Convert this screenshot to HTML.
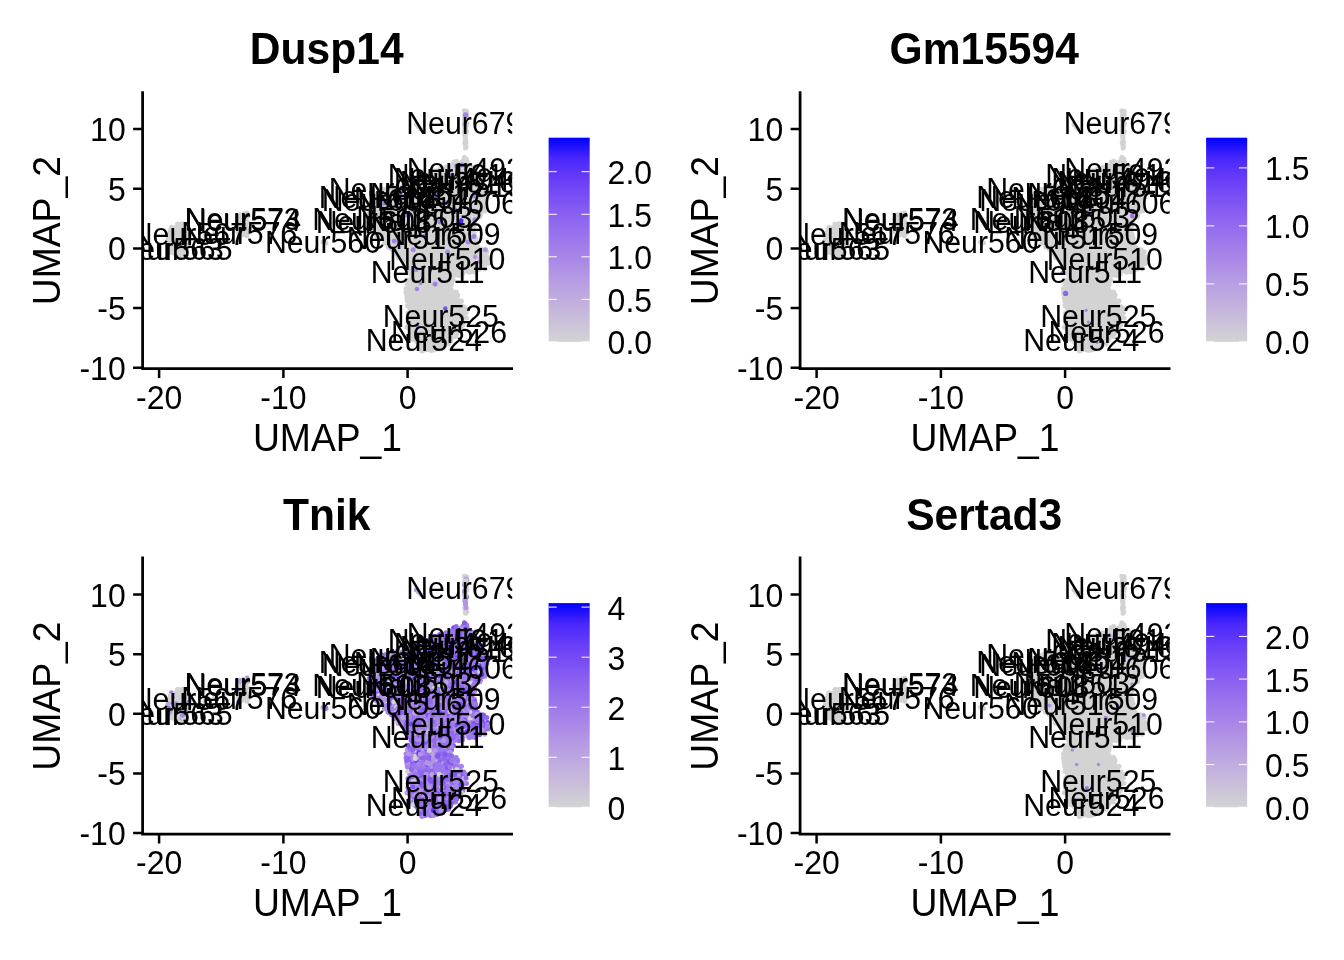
<!DOCTYPE html>
<html><head><meta charset="utf-8"><title>FeaturePlot</title>
<style>html,body{margin:0;padding:0;background:#fff}svg{display:block;will-change:transform}</style></head>
<body>
<svg width="1344" height="960" viewBox="0 0 1344 960" font-family="'Liberation Sans', sans-serif" fill="#000">
<defs><clipPath id="cp"><rect x="142.6" y="89.2" width="369.6" height="279.4"/></clipPath>
<linearGradient id="lg" x1="0" y1="0" x2="0" y2="1"><stop offset="0" stop-color="#0000FF"/><stop offset="0.1" stop-color="#4926FB"/><stop offset="0.2" stop-color="#673DF8"/><stop offset="0.3" stop-color="#7C51F4"/><stop offset="0.4" stop-color="#8E65F0"/><stop offset="0.5" stop-color="#9D77EC"/><stop offset="0.6" stop-color="#AA89E7"/><stop offset="0.7" stop-color="#B69CE3"/><stop offset="0.8" stop-color="#C1AEDE"/><stop offset="0.9" stop-color="#CAC0D9"/><stop offset="1" stop-color="#D3D3D3"/></linearGradient></defs>
<rect width="1344" height="960" fill="#fff"/>
<g transform="translate(0.0,0.0)">
<text transform="translate(326.70 63.90) scale(0.99 1.045)" font-size="43" text-anchor="middle" font-weight="bold">Dusp14</text>
<g clip-path="url(#cp)">
<path d="M416.5 124.5h0M419.8 242.5h0M381.2 202.0h0M470.3 252.6h0M422.7 221.4h0M371.0 210.8h0M403.9 258.9h0M444.2 217.9h0M424.1 251.2h0M435.0 285.0h0M455.5 336.5h0M466.9 256.3h0M450.7 307.9h0M391.0 203.9h0M421.9 351.0h0M405.3 263.6h0M414.2 323.4h0M427.2 183.4h0M185.0 226.4h0M415.5 332.8h0M370.3 204.7h0M188.4 230.0h0M410.7 316.3h0M443.0 174.7h0M474.5 222.2h0M418.1 261.8h0M387.6 205.0h0M391.5 191.2h0M377.0 203.1h0M444.3 301.6h0M435.5 251.8h0M448.0 168.1h0M478.8 192.7h0M395.2 226.9h0M458.6 238.5h0M450.7 240.1h0M411.1 193.7h0M406.0 292.2h0M474.0 169.4h0M474.7 198.3h0M454.7 250.4h0M468.1 186.3h0M411.1 237.1h0M460.5 186.0h0M244.7 227.3h0M419.6 269.6h0M469.6 169.6h0M420.1 219.7h0M466.8 178.7h0M435.3 215.0h0M397.8 248.8h0M428.2 232.0h0M450.3 286.7h0M422.5 247.8h0M461.7 162.8h0M411.5 235.6h0M411.1 223.0h0M387.3 191.5h0M375.7 209.6h0M388.9 187.6h0M423.0 310.2h0M463.8 207.2h0M453.9 317.8h0M415.9 249.0h0M458.5 317.1h0M447.4 177.7h0M478.9 196.4h0M432.9 219.7h0M476.0 216.9h0M379.9 198.6h0M461.7 263.9h0M447.0 203.3h0M472.0 213.4h0M451.1 251.0h0M441.0 184.7h0M429.5 240.5h0M448.9 173.1h0M429.2 271.4h0M425.2 270.1h0M377.9 233.0h0M438.5 256.8h0M442.7 232.7h0M459.1 170.6h0M244.3 230.8h0M405.3 195.2h0M435.1 264.4h0M416.9 253.1h0M397.7 210.0h0M462.5 245.6h0M417.2 258.0h0M466.2 119.8h0M451.2 214.9h0M484.7 204.6h0M481.3 203.7h0M461.7 174.2h0M397.4 250.6h0M432.4 257.9h0M413.0 274.1h0M471.8 230.1h0M454.4 168.5h0M442.7 347.1h0M453.7 162.3h0M460.9 260.4h0M482.5 184.7h0M431.1 190.5h0M439.6 293.4h0M435.8 308.7h0M179.3 246.4h0M414.0 187.7h0M454.8 309.0h0M468.1 191.0h0M409.6 235.1h0M480.7 182.5h0M470.7 223.0h0M412.9 321.3h0M248.1 233.0h0M431.5 226.9h0M448.3 240.8h0M425.4 326.0h0M466.1 142.3h0M177.5 224.0h0M433.3 245.4h0M442.4 282.2h0M464.0 208.9h0M466.1 312.6h0M450.7 188.9h0M438.2 198.9h0M477.7 267.6h0M442.5 305.1h0M457.6 294.9h0M406.1 204.5h0M471.5 174.7h0M444.4 284.9h0M422.3 306.0h0M404.0 242.1h0M426.0 276.2h0M413.9 258.0h0M442.1 287.9h0M465.3 162.5h0M244.2 223.2h0M466.2 188.7h0M446.4 300.3h0M461.4 207.0h0M464.8 117.3h0M421.4 250.7h0M399.6 199.0h0M179.4 256.8h0M460.8 255.3h0M462.0 271.8h0M464.4 157.3h0M421.9 345.1h0M427.8 327.0h0M459.2 199.8h0M459.1 202.1h0M383.9 196.1h0M438.2 230.7h0M432.3 288.2h0M483.0 192.9h0M451.4 314.5h0M483.9 250.1h0M426.6 235.2h0M408.1 253.8h0M398.8 206.0h0M455.2 191.5h0M450.1 245.9h0M471.5 242.2h0M413.0 211.5h0M464.6 131.1h0M432.8 298.2h0M476.5 175.7h0M398.6 233.2h0M437.4 280.1h0M390.2 244.7h0M464.5 254.3h0M442.9 277.4h0M466.8 228.2h0M444.3 302.6h0M425.5 191.2h0M373.6 206.7h0M486.0 188.0h0M420.5 290.7h0M449.0 211.1h0M434.9 347.9h0M444.1 323.8h0M425.1 258.5h0M479.8 216.7h0M441.1 347.1h0M432.2 182.5h0M445.0 312.8h0M476.5 200.4h0M432.7 303.7h0M403.7 187.6h0M454.1 323.8h0M431.0 282.7h0M186.6 232.4h0M425.9 237.8h0M418.6 202.1h0M444.1 335.4h0M427.5 249.4h0M437.9 316.9h0M460.9 230.5h0M450.5 319.8h0M434.7 332.2h0M420.1 302.3h0M469.4 203.9h0M468.4 243.3h0M415.8 221.8h0M433.4 292.5h0M439.1 339.1h0M441.6 256.6h0M453.8 334.5h0M483.2 255.3h0M432.5 221.6h0M477.7 173.6h0M480.2 187.7h0M238.3 230.0h0M450.3 284.3h0M431.0 277.7h0M460.7 238.8h0M405.5 262.2h0M457.6 309.1h0M417.4 202.1h0M453.6 235.4h0M456.8 183.2h0M424.9 322.0h0M408.0 313.0h0M446.0 309.3h0M411.1 266.9h0M455.0 195.8h0M436.3 194.2h0M442.8 236.3h0M461.0 308.8h0M391.7 212.8h0M382.6 217.8h0M424.8 234.6h0M369.5 214.2h0M437.7 258.9h0M441.0 344.5h0M451.7 281.3h0M461.0 247.7h0M244.2 216.5h0M449.6 231.7h0M415.9 237.6h0M432.5 240.7h0M465.5 147.9h0M184.8 233.4h0M437.1 306.4h0M427.3 204.6h0M404.3 222.4h0M456.8 209.2h0M445.5 224.6h0M452.9 326.7h0M463.7 251.8h0M441.1 292.9h0M431.3 264.6h0M171.4 227.3h0M381.0 204.2h0M465.4 161.0h0M371.5 228.1h0M464.6 163.6h0M385.4 229.6h0M451.9 204.2h0M420.2 210.9h0M429.2 223.0h0M439.9 202.0h0M391.7 249.3h0M430.6 231.7h0M471.8 199.2h0M431.8 196.7h0M456.2 292.1h0M418.9 340.4h0M442.8 248.9h0M459.9 251.3h0M403.5 216.2h0M414.9 267.6h0M424.0 267.0h0M425.0 343.9h0M369.0 222.8h0M420.2 213.4h0M427.7 230.7h0M384.4 243.3h0M416.0 213.4h0M420.5 183.7h0M239.6 222.6h0M426.2 188.4h0M471.0 187.6h0M378.4 221.5h0M470.0 191.2h0M473.3 207.2h0M408.1 291.8h0M403.9 253.4h0M431.0 245.7h0M466.8 250.0h0M453.4 233.0h0M438.4 277.4h0M409.4 224.2h0M473.0 179.6h0M449.1 207.1h0M465.0 234.6h0M387.9 239.8h0M463.6 161.6h0M415.3 313.7h0M467.1 181.5h0M406.0 288.4h0M381.3 221.2h0M434.4 226.7h0M474.3 203.0h0M392.6 216.0h0M380.0 190.2h0M402.3 242.7h0M478.5 176.9h0M430.6 308.4h0M468.2 217.8h0M369.2 212.8h0M453.4 199.1h0M473.2 247.3h0M475.7 180.5h0M424.0 292.1h0M464.2 263.4h0M428.8 321.8h0M436.6 324.7h0M447.8 246.5h0M415.9 297.6h0M374.0 226.8h0M467.3 222.4h0M460.4 167.7h0M445.5 281.4h0M402.1 255.8h0M383.6 226.7h0M185.0 250.8h0M438.9 267.1h0M442.3 188.1h0M180.3 242.4h0M465.9 225.1h0M439.7 295.3h0M432.6 314.6h0M483.5 265.9h0M458.3 227.8h0M436.8 298.5h0M397.8 216.2h0M406.8 256.8h0M445.0 209.4h0M457.9 229.9h0M385.1 220.5h0M392.2 243.7h0M455.3 186.0h0M479.0 190.4h0M429.2 192.6h0M446.5 211.1h0M412.0 187.9h0M402.0 192.6h0M412.2 324.1h0M484.7 252.7h0M409.7 232.2h0M451.6 295.1h0M444.1 203.6h0M382.2 199.3h0M427.8 314.0h0M448.8 305.2h0M409.7 251.0h0M426.5 289.5h0M182.7 239.5h0M432.0 276.1h0M458.2 206.7h0M466.7 131.3h0M412.3 229.4h0M445.7 273.6h0M418.5 238.1h0M412.1 245.1h0M411.5 303.9h0M464.0 247.4h0M394.8 240.8h0M464.5 185.2h0M377.0 197.1h0M426.7 287.9h0M402.2 198.6h0M241.9 228.3h0M438.6 173.4h0M420.5 129.0h0M418.7 298.6h0M384.2 215.4h0M392.6 238.4h0M379.3 229.8h0M420.7 314.5h0M458.0 331.0h0M376.5 205.8h0M372.3 213.9h0M484.1 208.7h0M178.2 232.2h0M441.5 232.8h0M423.1 341.8h0M429.4 252.9h0M432.3 199.4h0M389.7 244.2h0M478.8 213.9h0M181.8 252.9h0M450.2 264.6h0M465.3 144.8h0M429.1 274.4h0M413.2 305.8h0M456.7 329.7h0M424.3 277.6h0M427.5 224.0h0M441.2 271.3h0M432.5 181.4h0M468.2 176.0h0M438.4 264.7h0M432.1 209.8h0M462.1 177.7h0M173.0 252.8h0M438.5 287.4h0M414.2 226.7h0M411.2 218.9h0M416.1 295.3h0M411.8 240.2h0M414.2 336.9h0M463.2 225.8h0M411.7 308.2h0M418.9 345.1h0M407.9 279.9h0M410.8 299.9h0M455.0 331.0h0M444.7 319.2h0M389.1 233.5h0M479.4 200.6h0M444.4 250.2h0M427.4 250.6h0M448.9 251.0h0M457.4 312.6h0M429.7 313.8h0M436.2 189.1h0M483.0 191.9h0M422.4 231.9h0M415.1 255.9h0M461.5 300.9h0M429.2 190.2h0M461.8 269.6h0M479.8 264.7h0M425.3 253.7h0M458.5 195.4h0M387.4 232.4h0M432.3 289.5h0M420.5 297.7h0M469.1 240.3h0M444.4 293.2h0M451.8 172.2h0M436.7 248.2h0M448.8 202.2h0M413.2 197.0h0M423.7 229.0h0M450.2 217.1h0M483.4 199.4h0M170.4 240.9h0M460.3 329.1h0M429.4 285.0h0M175.2 227.8h0M409.5 217.2h0M389.1 247.4h0M176.1 241.2h0M394.3 223.9h0M460.3 234.9h0M385.0 189.3h0M447.3 202.0h0M408.0 298.5h0M445.5 298.5h0M416.1 180.0h0M418.5 250.7h0M396.0 237.1h0M397.5 187.6h0M420.9 230.5h0M442.6 299.0h0M441.3 174.7h0M419.3 186.4h0M453.7 172.4h0M452.9 210.8h0M401.0 245.2h0M425.8 212.8h0M469.7 195.9h0M465.3 212.6h0M180.4 239.9h0M380.0 195.6h0M419.6 196.7h0M438.3 310.0h0M429.1 243.9h0M465.4 136.0h0M473.4 184.9h0M424.6 303.5h0M384.8 198.2h0M432.0 212.7h0M393.3 192.5h0M442.0 250.9h0M431.8 207.0h0M396.1 186.7h0M453.3 174.3h0M424.7 219.9h0M463.7 193.8h0M403.5 234.3h0M442.1 241.1h0M468.5 223.9h0M411.3 291.9h0M182.0 255.2h0M466.8 259.4h0M168.7 252.4h0M168.6 243.1h0M386.6 227.2h0M435.1 268.3h0M418.9 330.9h0M461.4 218.0h0M429.3 238.2h0M433.0 225.5h0M433.6 311.7h0M183.2 252.7h0M420.0 280.3h0M460.3 182.2h0M402.6 252.0h0M448.5 342.3h0M385.7 196.4h0M418.8 328.5h0M406.9 327.3h0M426.0 309.0h0M426.4 221.9h0M447.6 272.0h0M471.3 181.5h0M172.8 240.7h0M481.8 209.2h0M439.3 193.1h0M427.6 211.1h0M462.5 171.7h0M412.3 286.9h0M424.0 205.0h0M240.6 219.6h0M462.7 236.1h0M384.4 206.5h0M418.7 203.8h0M426.7 297.1h0M408.5 271.2h0M444.0 311.5h0M382.7 191.2h0M468.5 261.9h0M408.7 208.3h0M409.8 308.6h0M440.3 263.1h0M455.1 301.0h0M466.9 123.2h0M410.4 285.3h0M387.1 215.2h0M413.8 201.1h0M482.5 201.4h0M487.8 263.5h0M449.9 242.8h0M466.5 318.0h0M247.0 212.7h0M440.5 326.3h0M177.3 226.9h0M396.5 216.4h0M445.0 329.3h0M474.2 212.1h0M399.7 215.5h0M451.6 337.7h0M475.2 188.2h0M445.5 265.6h0M465.1 269.0h0M440.0 236.2h0M438.2 269.4h0M432.4 251.2h0M423.2 325.1h0M465.3 111.6h0M399.2 252.7h0M468.1 230.5h0M449.9 301.5h0M418.9 263.4h0M383.7 237.0h0M440.4 316.2h0M443.2 279.3h0M381.8 230.4h0M424.7 214.5h0M388.5 199.6h0M476.1 242.3h0M413.5 222.1h0M465.7 129.6h0M448.6 293.3h0M440.2 238.5h0M402.3 229.4h0M432.3 347.0h0M466.6 266.2h0M459.1 225.7h0M181.2 237.5h0M420.3 217.5h0M406.8 227.9h0M441.1 300.0h0M439.7 289.5h0M418.1 225.9h0M379.3 219.1h0M415.8 274.7h0M418.5 126.7h0M440.8 341.6h0M393.1 223.0h0M478.6 204.8h0M485.6 202.1h0M406.5 191.0h0M446.5 247.5h0M454.5 275.3h0M455.7 237.1h0M246.1 224.3h0M455.7 327.2h0M385.1 193.1h0M377.2 226.8h0M429.4 182.8h0M447.0 329.8h0M436.2 225.5h0M436.7 177.3h0M415.9 196.1h0M406.6 258.7h0M410.5 336.3h0M456.1 179.6h0M442.2 319.3h0M398.8 212.8h0M447.0 335.0h0M465.4 139.6h0M437.9 170.5h0M437.9 227.0h0M454.5 175.7h0M422.6 347.1h0M175.7 252.5h0M465.2 209.5h0M459.3 175.2h0M418.9 303.0h0M415.5 340.2h0M466.6 111.3h0M445.5 229.2h0M464.8 128.1h0M183.5 238.6h0M438.0 272.5h0M379.7 237.9h0M464.3 226.6h0M174.8 232.3h0M442.8 209.2h0M456.7 193.2h0M466.1 133.0h0M441.6 178.8h0M405.2 214.0h0M400.5 201.8h0M451.8 219.1h0M412.2 276.1h0M466.9 164.4h0M420.1 194.3h0M469.4 235.2h0M436.1 255.8h0M427.8 196.9h0M464.0 313.2h0M438.3 285.9h0M447.0 219.3h0M466.3 240.2h0M403.5 207.0h0M447.1 302.5h0M171.0 245.3h0M407.9 322.1h0M452.3 185.9h0M455.3 315.8h0M438.4 328.7h0M428.7 294.5h0M424.7 271.5h0M415.2 282.7h0M464.6 201.9h0M466.1 115.7h0M434.7 170.9h0M396.5 213.8h0M470.6 200.9h0M425.0 347.6h0M466.1 113.4h0M487.6 257.1h0M447.9 257.1h0M445.2 214.4h0M389.4 238.7h0M409.5 328.7h0M477.0 196.0h0M447.6 182.5h0M447.2 258.2h0M448.7 332.6h0M423.3 188.9h0M380.3 217.6h0M189.4 237.3h0M431.5 342.0h0M407.3 221.9h0M418.9 208.6h0M371.8 207.5h0M405.6 229.8h0M471.5 172.2h0M416.0 264.7h0M381.5 227.0h0M430.6 209.1h0M466.5 248.4h0M469.5 178.9h0M420.4 259.8h0M239.6 236.4h0M472.4 256.5h0M419.3 253.9h0M450.5 176.0h0M429.0 287.2h0M471.7 194.0h0M472.7 174.5h0M460.0 304.1h0M433.8 350.0h0M407.1 201.3h0M431.8 268.7h0M433.8 196.0h0M449.8 185.3h0M453.1 321.9h0M451.9 190.0h0M455.0 228.0h0M466.7 197.1h0M469.6 256.2h0M487.6 194.5h0M433.1 213.7h0M448.7 326.2h0M459.6 241.1h0M444.3 195.6h0M438.0 336.6h0M424.9 194.5h0M411.8 198.7h0M480.2 211.8h0M450.3 209.6h0M410.4 310.2h0M433.7 248.3h0M393.1 188.0h0M476.9 263.9h0M450.9 257.0h0M464.9 159.1h0M447.3 208.6h0M395.2 200.9h0M446.5 326.9h0M464.9 114.9h0M375.2 217.8h0M438.4 178.4h0M440.0 279.3h0M420.5 327.0h0M397.6 245.5h0M452.4 253.5h0M455.0 314.0h0M433.3 344.9h0M442.6 224.5h0M183.9 243.7h0M423.2 185.0h0M427.0 199.8h0M465.1 136.5h0M421.4 329.2h0M238.1 232.2h0M449.2 320.6h0M457.9 181.0h0M409.6 207.4h0M401.8 254.3h0M412.5 214.0h0M244.1 219.0h0M421.2 255.9h0M455.3 164.8h0M393.2 200.9h0M423.2 224.1h0M416.7 243.9h0M445.5 289.3h0M430.5 345.9h0M436.5 221.3h0M456.8 199.3h0M413.9 290.5h0M475.7 238.5h0M465.0 193.4h0M417.5 293.3h0M466.4 125.5h0M424.9 350.1h0M453.9 187.6h0M450.1 295.2h0M376.7 214.1h0M463.5 233.3h0M178.9 235.7h0M405.0 251.5h0M468.0 198.6h0M459.7 172.5h0M432.5 282.8h0M466.9 237.8h0M400.8 233.0h0M426.0 272.1h0M396.1 240.2h0M467.4 202.2h0M473.0 266.9h0M458.0 172.8h0M437.1 252.7h0M382.4 219.2h0M454.6 241.3h0M449.7 180.1h0M485.0 262.0h0M471.2 238.1h0M434.6 305.3h0M436.7 200.6h0M461.7 163.3h0M464.7 142.8h0M474.3 178.8h0M421.5 246.6h0M423.3 244.8h0M406.4 193.8h0M390.2 201.1h0M439.6 332.2h0M460.6 165.2h0M415.4 335.0h0M450.0 269.6h0M391.0 219.5h0M394.5 249.2h0M434.0 320.5h0M377.2 201.7h0M445.7 237.6h0M461.0 162.5h0M379.3 204.3h0M423.4 280.4h0M469.1 266.5h0M429.1 292.0h0M435.5 233.2h0M436.9 301.1h0M445.6 295.9h0M431.2 242.4h0M225.0 228.0h0M422.9 326.6h0M238.3 228.4h0M414.5 225.2h0M463.3 266.2h0M426.5 209.7h0M428.4 299.7h0M465.4 163.5h0M459.6 220.2h0M432.7 323.1h0M451.8 195.4h0M464.8 169.1h0M464.4 242.1h0M439.8 248.7h0M420.4 190.2h0M413.0 183.3h0M395.1 253.0h0M463.5 230.8h0M387.5 217.0h0M477.2 250.7h0M457.8 300.6h0M405.7 267.5h0M466.3 230.0h0M458.9 191.7h0M410.3 201.7h0M450.6 303.2h0M453.3 266.8h0M481.5 258.8h0M431.4 295.6h0M465.4 245.1h0M459.2 263.8h0M459.1 313.4h0M477.4 260.8h0M415.0 262.0h0M451.6 316.5h0M445.7 170.8h0M442.7 169.8h0M437.8 290.7h0M416.2 321.0h0M389.5 217.1h0M442.2 302.7h0M474.5 196.8h0M182.7 229.1h0M430.5 202.3h0M415.7 286.9h0M481.6 254.2h0M410.0 282.6h0M471.6 183.2h0M435.3 281.4h0M183.1 247.6h0M474.6 255.6h0M375.9 194.3h0M459.4 306.7h0M446.4 232.0h0M180.5 231.4h0M453.3 330.9h0M431.5 301.2h0M434.5 259.6h0M455.5 169.0h0M387.4 210.9h0M465.5 122.8h0M417.4 334.8h0M411.1 330.2h0M449.6 274.5h0M418.5 181.0h0M409.1 218.9h0M411.4 271.0h0M469.8 233.0h0M469.6 208.5h0M240.9 225.7h0M457.5 212.7h0M372.2 199.0h0M458.8 257.8h0M474.6 241.5h0M419.9 295.9h0M468.1 167.9h0M457.3 255.2h0M450.2 225.7h0M433.7 340.1h0M440.2 270.2h0M470.8 263.6h0M412.2 282.6h0M430.1 235.0h0M436.4 266.7h0M471.6 246.8h0M428.0 311.7h0M472.6 203.1h0M410.8 269.8h0M436.8 217.2h0M460.9 201.8h0M475.9 214.4h0M479.6 206.2h0M389.7 207.5h0M449.5 222.3h0M430.7 273.6h0M446.3 175.2h0M474.7 235.5h0M442.5 206.9h0M439.4 213.8h0M239.8 214.8h0M426.2 303.1h0M370.7 217.5h0M472.2 271.6h0M215.0 232.0h0M432.0 331.3h0M397.5 204.2h0M378.3 214.4h0M452.7 202.0h0M462.9 325.1h0M400.9 226.5h0M407.9 290.7h0M411.3 196.2h0M463.5 180.6h0M464.1 315.8h0M451.3 178.8h0M426.1 305.3h0M372.0 222.2h0M408.4 187.8h0M437.0 349.1h0M447.2 288.5h0M403.7 184.0h0M430.0 261.0h0M408.5 212.8h0M444.3 340.2h0M461.1 258.7h0M466.4 203.4h0M474.5 217.9h0M415.1 329.5h0M452.3 218.0h0M417.3 189.2h0M451.9 165.8h0M453.1 256.0h0M458.0 216.7h0M426.3 214.3h0M486.0 190.6h0M451.6 284.4h0M442.1 199.2h0M383.5 232.6h0M426.4 179.5h0M479.9 180.4h0M433.8 260.5h0M414.1 237.0h0M411.0 258.6h0M423.1 332.0h0M463.5 213.5h0M417.6 281.4h0M407.4 269.9h0M445.0 177.2h0M417.4 276.8h0M459.8 267.1h0M378.3 224.4h0M437.7 326.0h0M408.0 229.7h0M394.9 219.2h0M465.8 182.6h0M445.8 344.0h0M427.7 341.5h0M451.6 183.2h0M422.2 295.2h0M415.5 191.0h0M410.3 190.4h0M441.3 284.1h0M439.2 210.0h0M428.0 216.2h0M387.4 193.8h0M426.9 345.0h0M435.5 314.6h0M379.9 236.2h0M391.3 229.4h0M415.6 232.2h0M438.5 324.6h0M399.2 219.8h0M435.5 183.3h0M373.9 202.3h0M408.5 238.0h0M429.0 198.9h0M481.9 255.6h0M468.5 173.6h0M474.7 260.6h0M458.8 270.2h0M429.4 220.1h0M416.9 216.2h0M447.6 193.4h0M440.4 310.9h0M414.5 264.6h0M445.0 199.1h0M461.0 179.6h0M399.7 204.7h0M426.4 296.2h0M407.4 284.1h0M423.6 287.3h0M424.0 318.0h0M399.9 234.7h0M423.4 180.8h0M400.0 256.0h0M417.7 235.2h0M448.7 314.0h0M248.0 228.2h0M480.3 215.1h0M446.6 332.4h0M437.4 180.5h0M431.2 306.6h0M476.4 211.5h0M439.3 182.5h0M450.6 340.4h0M468.2 232.3h0M415.4 178.8h0M409.7 334.4h0M438.1 223.8h0M240.9 230.1h0M459.0 272.4h0M423.3 260.9h0M462.3 218.7h0M427.9 180.4h0M382.6 208.7h0M458.2 310.3h0M438.9 251.4h0M429.0 205.7h0M453.4 280.2h0M451.4 235.5h0M475.7 185.6h0M448.8 310.2h0M433.4 334.0h0M436.6 245.7h0M439.9 169.1h0M414.0 310.2h0M418.6 214.1h0M465.5 196.6h0M419.3 315.7h0M404.0 200.8h0M375.0 230.5h0M447.3 276.0h0M457.9 240.9h0M405.5 219.6h0M395.6 190.6h0M436.9 198.8h0M461.9 322.3h0M481.7 264.4h0M394.9 250.0h0M453.7 209.3h0M374.2 196.8h0M448.9 190.1h0M443.4 336.6h0M481.7 195.5h0M417.7 239.5h0M380.6 212.6h0M439.2 262.0h0M441.5 321.5h0M478.8 184.1h0M415.5 315.3h0M427.1 220.0h0M205.0 236.0h0M454.7 214.6h0M435.5 278.0h0M376.8 224.7h0M445.6 269.3h0M388.6 196.8h0M465.1 166.7h0M411.4 263.2h0M436.2 260.8h0M385.6 242.5h0M430.3 251.1h0M431.3 315.9h0M412.1 209.8h0M420.3 199.1h0M475.0 208.2h0M447.2 181.1h0M377.1 217.5h0M404.0 191.8h0M447.5 213.8h0M412.2 252.0h0M186.4 248.8h0M174.5 243.1h0M186.3 242.2h0M437.2 331.8h0M187.5 236.9h0M420.5 311.1h0M456.0 211.2h0M417.3 245.1h0M445.6 279.6h0M189.6 231.5h0M422.4 263.5h0M408.4 203.8h0M456.8 333.7h0M444.1 181.0h0M415.6 318.4h0M406.6 295.1h0M449.9 196.9h0M401.9 211.6h0M416.4 228.2h0M403.5 244.9h0M178.2 236.8h0M454.5 243.4h0M434.4 207.5h0M400.7 247.7h0M454.2 224.5h0M418.9 308.5h0M443.5 275.1h0M446.2 311.9h0M410.4 327.3h0M482.9 249.4h0M413.3 279.9h0M472.4 260.7h0M417.0 269.2h0M463.4 204.2h0M457.1 297.6h0M463.2 255.5h0M459.4 245.2h0M383.4 200.9h0M482.8 211.1h0M444.1 246.0h0M426.2 282.3h0M443.8 294.9h0M174.4 230.1h0M394.0 214.0h0M463.6 306.7h0M473.6 257.9h0M476.9 248.7h0M461.6 227.1h0M441.1 213.6h0M477.3 246.5h0M415.4 272.8h0M450.3 226.7h0M178.1 247.1h0M462.3 183.5h0M473.9 253.7h0M465.1 310.5h0M427.6 178.4h0M418.8 222.4h0M384.0 208.7h0M456.4 178.9h0M474.3 250.4h0M463.9 261.2h0M441.2 192.7h0M418.5 229.6h0M398.4 222.2h0M404.7 232.6h0M437.0 207.6h0M420.1 226.8h0M438.0 204.4h0M453.5 194.0h0M246.6 230.0h0M412.6 284.1h0M443.0 268.7h0M445.8 315.3h0M456.0 306.2h0M437.4 275.5h0M421.2 224.7h0M465.3 127.6h0M430.9 213.8h0M448.9 281.9h0M391.6 189.2h0M443.0 259.6h0M429.5 324.2h0M443.9 331.1h0M461.0 193.5h0M435.0 229.5h0M241.2 221.9h0M470.2 269.0h0M404.0 215.3h0M426.6 339.4h0M177.1 246.3h0M396.8 225.5h0M450.4 272.5h0M431.8 321.8h0M454.6 296.3h0M397.9 184.9h0M455.5 321.2h0M421.8 339.2h0M457.2 265.7h0M168.3 235.8h0M421.5 216.2h0M173.9 235.7h0M425.6 331.3h0M415.3 198.6h0M446.8 242.9h0M428.2 174.9h0M438.1 312.6h0M423.8 308.8h0M431.1 249.1h0M399.4 241.3h0M472.9 177.5h0M419.9 247.4h0M430.6 340.4h0M436.8 238.4h0M421.7 284.0h0M466.7 211.7h0M384.3 234.9h0M471.1 235.6h0M174.7 248.5h0M408.4 185.5h0M412.7 205.6h0M443.1 243.7h0M172.3 237.6h0M466.8 114.3h0M453.0 237.0h0M244.1 225.9h0M411.0 262.3h0M418.4 199.7h0M385.5 206.4h0M429.6 203.6h0M439.8 306.2h0M411.5 180.7h0M466.1 146.7h0M410.5 321.9h0M430.6 284.3h0M450.4 257.8h0M426.2 315.7h0M479.7 258.7h0M448.7 297.4h0M452.5 227.6h0M171.0 232.9h0M475.6 267.0h0M417.4 306.1h0M451.5 264.0h0M412.4 318.8h0M425.2 228.4h0M420.9 318.1h0M421.6 277.7h0M442.8 267.1h0M484.7 259.1h0M449.0 260.4h0M438.2 189.4h0M430.6 174.8h0M451.9 300.1h0M406.8 298.1h0M443.6 325.9h0M445.4 182.4h0M400.8 205.6h0M421.9 290.0h0M436.2 219.6h0M412.0 225.0h0M185.3 240.5h0M435.1 315.6h0M451.5 230.8h0M445.9 276.6h0M424.7 202.1h0M423.9 208.6h0M442.8 204.1h0M448.7 198.8h0M441.7 338.9h0M172.8 242.9h0M460.2 204.2h0M413.4 253.3h0M395.8 195.8h0M445.9 195.7h0M432.1 271.7h0M423.7 281.5h0M409.3 198.2h0M466.3 124.9h0M447.3 254.1h0M458.0 235.3h0M478.0 189.2h0M474.2 233.6h0M436.1 272.5h0M373.9 211.1h0M372.8 210.0h0M190.5 239.5h0M242.3 216.8h0M430.3 304.2h0M436.6 233.1h0M174.1 251.3h0M385.4 204.9h0M247.6 222.2h0M393.2 230.9h0M470.1 257.9h0M402.7 203.9h0M464.6 190.8h0M430.7 336.2h0M379.6 239.5h0M462.7 197.8h0M461.9 190.4h0M430.7 185.2h0M413.7 217.1h0M440.5 336.4h0M372.7 203.8h0M407.5 305.8h0M474.7 182.9h0M170.0 234.5h0M372.2 229.6h0M479.6 269.3h0M464.3 110.8h0M453.4 272.6h0M455.9 202.2h0M435.0 289.8h0M468.4 269.7h0M447.7 319.3h0M438.6 219.1h0M447.4 324.3h0M474.5 190.3h0M427.4 319.2h0M440.0 239.5h0M454.9 249.3h0M390.1 194.4h0M475.1 192.9h0M441.2 246.2h0M439.1 335.1h0M409.0 288.5h0M458.2 243.1h0M458.4 185.6h0M370.2 208.8h0M428.9 280.4h0M404.9 247.5h0M429.7 333.7h0M373.6 220.4h0M479.6 248.5h0M441.0 173.2h0M425.2 195.8h0M456.1 319.3h0M375.1 222.7h0M472.9 225.6h0M420.7 324.9h0M393.9 236.3h0M468.9 194.1h0M453.3 303.1h0M436.6 208.6h0M417.3 212.7h0M431.9 326.1h0M438.6 246.6h0M432.6 204.2h0M397.5 230.5h0M397.9 227.0h0M409.9 210.8h0M181.5 250.0h0M430.9 350.4h0M394.7 199.1h0M418.9 314.0h0M397.3 198.7h0M243.0 231.9h0M445.5 192.9h0M458.9 275.4h0M420.1 281.3h0M421.6 207.2h0M439.5 191.7h0M242.7 234.7h0M418.7 194.4h0M186.4 226.4h0M456.2 161.2h0M420.2 307.7h0M404.8 227.1h0M401.2 259.1h0M428.9 264.5h0M465.5 308.6h0M441.4 275.1h0M416.5 284.2h0M168.9 248.2h0M441.0 216.3h0M427.6 245.2h0M444.2 287.0h0M417.9 256.2h0M395.3 205.8h0M446.3 216.9h0M418.8 183.0h0M425.7 242.2h0M179.5 230.4h0M443.0 211.0h0M408.9 240.7h0M465.5 198.5h0M463.5 240.5h0M475.0 272.0h0M452.9 222.0h0M414.5 278.1h0M185.6 245.9h0M448.6 315.9h0M418.7 301.4h0M406.4 210.1h0M374.1 231.9h0M432.4 234.4h0M476.6 259.4h0M484.7 268.9h0M451.8 207.3h0M441.2 335.0h0M443.0 329.0h0M409.4 194.0h0M434.0 177.5h0M436.5 292.2h0M464.3 176.2h0M452.3 269.9h0M400.8 187.8h0M434.3 180.0h0M453.8 246.6h0M246.1 215.3h0M424.6 255.6h0M388.3 219.1h0M448.6 343.9h0M432.0 319.3h0M457.6 323.2h0M436.5 185.8h0M415.7 230.2h0M402.4 260.6h0M455.8 233.6h0M447.1 320.9h0M442.4 260.5h0M433.7 230.3h0M446.6 223.3h0M459.2 176.9h0M376.8 218.7h0M246.1 220.7h0M178.3 253.0h0M436.3 204.6h0M185.3 229.7h0M434.3 223.1h0M439.1 308.9h0M170.0 250.4h0M481.6 251.0h0M237.3 219.9h0M429.5 329.8h0M423.0 315.7h0M449.2 248.3h0M461.0 315.5h0M418.9 284.8h0M436.3 345.0h0M384.3 224.2h0M426.5 324.8h0M424.3 313.7h0M463.7 222.0h0M423.0 320.8h0M477.4 199.3h0M447.2 205.7h0M167.7 239.9h0M439.4 345.9h0M470.4 185.0h0M456.7 168.1h0M421.5 273.8h0M420.5 274.0h0M443.6 253.6h0M424.6 198.5h0M487.0 261.4h0M409.0 262.2h0M450.4 291.9h0M396.1 234.3h0M472.7 250.2h0M415.3 293.1h0M436.7 348.1h0M481.4 267.0h0M471.9 220.1h0M451.6 290.3h0M379.4 194.3h0M182.1 223.8h0M379.9 232.1h0M379.2 210.0h0M456.3 251.6h0M457.6 271.9h0M245.7 232.9h0M433.8 188.4h0M466.4 159.3h0M449.6 170.3h0M469.7 212.7h0M381.9 194.0h0M421.4 189.2h0M415.9 245.5h0M438.1 191.4h0M415.0 235.1h0M444.5 341.6h0M461.6 306.7h0M464.9 237.4h0M411.3 186.0h0M468.6 184.1h0M432.9 172.2h0M402.0 224.4h0M458.2 223.2h0M466.7 214.1h0M445.7 171.9h0M433.8 243.2h0M458.4 254.4h0M460.9 212.7h0M426.0 261.2h0M396.6 219.9h0M413.3 242.5h0M425.8 310.7h0M465.7 141.7h0M419.0 287.4h0M460.8 319.1h0M424.4 177.2h0M443.8 264.7h0M392.9 196.8h0M427.4 240.0h0M434.0 294.4h0M418.6 271.5h0M425.2 275.3h0M416.0 336.5h0M447.3 224.4h0M443.9 238.6h0M435.6 235.2h0M410.2 252.6h0M448.4 229.9h0M433.7 328.7h0M421.9 191.2h0M423.7 297.6h0M427.6 316.2h0M452.8 170.4h0M425.5 217.0h0M181.7 227.9h0M462.6 308.9h0M408.2 182.4h0M453.4 248.0h0M444.8 219.8h0M472.2 208.9h0M459.5 165.5h0M411.8 204.1h0M434.9 211.4h0M427.9 256.3h0M434.8 325.9h0M475.8 270.0h0M416.8 280.5h0M456.9 224.6h0M458.0 321.4h0M474.2 219.1h0M391.4 234.6h0M373.7 225.9h0M415.7 203.5h0M170.5 230.0h0M411.0 274.7h0M423.2 253.3h0M442.0 325.1h0M443.2 200.6h0M404.3 237.2h0M486.8 252.0h0M430.0 177.3h0M176.4 234.8h0M423.0 334.4h0M425.1 232.6h0M463.1 163.1h0M438.3 243.4h0M246.9 235.8h0M442.1 313.0h0M397.6 243.1h0M432.0 309.0h0M398.3 200.7h0M393.9 246.1h0M477.3 189.9h0M469.6 217.1h0M402.4 186.7h0M453.1 182.3h0M447.4 340.4h0M176.8 230.0h0M455.5 205.7h0M421.0 203.5h0M402.3 195.3h0M431.4 280.5h0M168.1 238.3h0M435.4 238.7h0M414.5 247.4h0M470.3 248.5h0M453.5 229.2h0M427.9 292.8h0M391.7 240.3h0M459.3 208.2h0M450.7 333.8h0M451.6 305.3h0M465.8 270.9h0M409.8 267.0h0M437.2 320.4h0M441.3 227.7h0M384.1 222.4h0M391.6 199.2h0M429.0 258.8h0M432.1 267.3h0M449.0 188.5h0M188.3 245.0h0M469.7 215.2h0M406.8 242.6h0M464.5 125.6h0M425.4 247.5h0M448.7 234.4h0M413.1 268.5h0M481.7 192.8h0M449.3 289.9h0M472.7 227.6h0M444.4 316.4h0M461.7 242.6h0M382.0 235.3h0M454.8 311.0h0M435.0 287.7h0M428.6 268.8h0M478.6 185.6h0M413.2 327.1h0M427.9 228.4h0M453.7 328.7h0M178.5 224.2h0M441.8 309.3h0M417.1 185.1h0M398.8 190.8h0M411.0 249.2h0M463.3 160.5h0M436.1 241.5h0M457.5 187.4h0M445.3 271.5h0M459.5 324.6h0M484.3 187.3h0M478.7 253.0h0M423.4 202.0h0M405.3 240.2h0M388.7 229.8h0M466.8 219.5h0M375.8 199.3h0M438.5 296.2h0M465.5 138.4h0M418.9 233.1h0M406.6 199.2h0M388.0 246.7h0M414.6 219.4h0M421.9 237.5h0M468.1 219.4h0M447.0 190.8h0M425.5 264.9h0M458.7 326.1h0M468.6 187.3h0M425.9 207.3h0M470.8 206.4h0M412.6 191.5h0M467.2 206.9h0M454.3 292.9h0M451.9 273.9h0M464.6 120.5h0M457.9 204.2h0M423.0 239.8h0M402.4 191.4h0M446.2 264.2h0M421.2 209.6h0M326.0 243.0h0M437.7 212.4h0M400.7 238.6h0M424.9 182.3h0M434.9 337.3h0M441.4 219.7h0M391.7 228.2h0M427.9 266.6h0M435.5 174.5h0M323.0 242.0h0M464.5 164.5h0M417.5 301.0h0M481.9 198.8h0M425.4 301.0h0M409.5 290.1h0M472.6 263.5h0M472.7 236.9h0M389.7 211.6h0M426.2 192.9h0M450.0 193.0h0M445.6 256.4h0M407.3 301.3h0M430.3 188.0h0M428.3 291.1h0M450.3 165.8h0M472.9 200.6h0M386.3 237.0h0M407.9 216.4h0M467.2 264.7h0M376.7 235.7h0M458.8 232.2h0M428.8 200.4h0M370.8 225.3h0M450.0 238.9h0M244.1 213.8h0M423.0 196.5h0M405.0 182.7h0M451.2 261.8h0M397.8 256.3h0M445.6 342.2h0M426.4 336.9h0M381.4 189.3h0M394.8 203.0h0M424.6 329.2h0M465.8 143.5h0M183.3 235.8h0M474.1 268.9h0M464.8 134.6h0M477.0 210.2h0M418.9 319.5h0M446.0 284.2h0M473.7 243.6h0M456.9 304.2h0M426.4 330.2h0M455.2 222.4h0M468.8 251.7h0M391.4 213.8h0M237.6 224.2h0M421.3 334.8h0M421.5 300.7h0M386.6 200.6h0M387.8 209.4h0M443.9 322.4h0M414.0 240.7h0M189.5 235.5h0M417.6 323.9h0M438.6 317.9h0M415.9 309.1h0M444.2 184.9h0M406.9 195.7h0M463.3 189.3h0M399.6 225.3h0M420.2 336.1h0M413.9 294.7h0M461.4 253.6h0M404.5 184.8h0M427.7 348.3h0M484.5 264.7h0M445.6 187.8h0M471.1 240.2h0M433.8 280.6h0M179.8 249.9h0M429.4 298.8h0M171.4 247.4h0M391.7 210.0h0M415.9 182.8h0M428.0 349.4h0M441.4 179.8h0M409.6 227.0h0M468.0 169.5h0M383.4 212.7h0M401.0 217.7h0M475.0 172.0h0M406.7 236.0h0M388.3 225.1h0M435.2 172.3h0M453.2 310.2h0M436.4 329.0h0M395.0 211.9h0M454.7 261.1h0M399.0 229.1h0M438.5 298.8h0M423.4 258.8h0M465.8 260.5h0M414.2 185.0h0M474.6 225.7h0M462.5 274.3h0M452.7 259.8h0M410.5 294.8h0M439.7 211.4h0M467.9 254.1h0M424.9 185.5h0M425.3 175.3h0M417.0 341.9h0M376.6 210.9h0M176.9 251.5h0M404.4 211.1h0M477.1 254.1h0M461.0 231.9h0M381.2 206.7h0M446.7 226.9h0M465.9 163.0h0M389.3 190.4h0M459.3 248.8h0M406.7 207.6h0M404.0 219.7h0M419.5 305.4h0M433.1 256.0h0M395.3 243.9h0M441.0 182.7h0M435.4 343.4h0M410.6 331.7h0M446.7 336.7h0M454.5 263.2h0M465.1 165.2h0M419.2 322.0h0M371.4 201.5h0M398.3 195.9h0M465.1 217.9h0M464.5 118.9h0M389.7 222.1h0M435.1 300.2h0M395.7 222.0h0M444.4 222.8h0M423.0 336.2h0M444.0 190.9h0M416.9 310.1h0M421.3 266.4h0M429.6 229.1h0M406.7 225.0h0M429.2 224.2h0M408.5 264.1h0M445.7 167.3h0M386.5 223.2h0M433.6 191.7h0M447.6 265.9h0M423.0 268.8h0M445.6 306.4h0M422.2 227.9h0M484.9 210.9h0M477.4 207.2h0M486.8 198.2h0M419.9 348.3h0M469.5 246.0h0M461.4 327.3h0M409.4 303.6h0M435.3 339.0h0M177.5 243.5h0M466.1 117.3h0M400.3 251.1h0M437.4 342.9h0M433.8 275.0h0M434.8 200.8h0M456.5 220.7h0M454.7 268.8h0M423.0 244.1h0M460.7 187.8h0M453.3 177.7h0M463.6 165.9h0M456.4 213.5h0M418.7 342.6h0M410.9 242.5h0M445.8 241.1h0M451.6 242.9h0M450.8 199.7h0M173.4 245.3h0M469.3 272.3h0M421.5 292.4h0M444.5 261.6h0M428.2 305.5h0M411.2 313.1h0M431.3 216.3h0M438.3 303.0h0M417.7 267.0h0M441.4 231.0h0M455.2 259.7h0M462.3 319.6h0M420.4 288.5h0M434.7 217.8h0M421.3 236.0h0M434.2 253.9h0M461.5 170.1h0M481.9 180.3h0M460.5 214.2h0M381.6 215.3h0M413.2 232.1h0M465.2 173.4h0M461.9 222.3h0M420.0 205.9h0M414.4 209.7h0M417.0 206.0h0M403.7 209.8h0M454.3 204.6h0M411.2 334.1h0M425.2 284.8h0M446.0 235.6h0M429.1 255.8h0M176.2 255.3h0M454.7 297.2h0M382.0 224.9h0M414.4 251.2h0M399.7 192.8h0M388.2 234.4h0M428.5 185.5h0M399.5 238.4h0M413.5 332.6h0M393.5 206.5h0M435.5 302.5h0M449.0 337.4h0M238.8 216.5h0M390.7 225.9h0M411.4 255.2h0M452.0 267.4h0M448.5 253.8h0M370.9 219.9h0M480.6 262.4h0M175.8 238.6h0M247.8 216.4h0M428.7 337.9h0M436.6 334.1h0M409.7 255.7h0M170.0 231.6h0M385.4 240.3h0M446.7 185.8h0M451.5 276.2h0M403.2 239.6h0M450.5 280.0h0M423.1 212.3h0M485.9 207.3h0M454.1 219.6h0M408.1 233.4h0M420.4 261.9h0M406.0 189.2h0M435.0 186.5h0M441.4 242.5h0M396.2 194.4h0M184.7 235.2h0M413.0 180.9h0M407.2 249.2h0M410.5 279.6h0M437.5 175.5h0M487.7 259.0h0M443.2 226.9h0M391.7 232.8h0M451.5 330.0h0M429.1 331.5h0M181.4 248.0h0M405.0 245.0h0M440.6 222.2h0M462.8 167.1h0M438.1 196.3h0M478.7 255.4h0M412.7 339.2h0M398.3 257.8h0M474.4 245.9h0M412.2 298.8h0M413.2 300.3h0M467.1 161.5h0M451.3 297.7h0M450.8 167.5h0M426.0 278.7h0M402.0 221.8h0M441.0 253.3h0M438.6 282.1h0M451.6 324.8h0M429.7 267.6h0M464.0 259.3h0M433.7 194.2h0M420.9 241.5h0M421.4 270.9h0M442.9 289.6h0M414.7 194.2h0M465.5 122.1h0M432.3 238.0h0M389.3 226.6h0M420.7 177.7h0M408.6 324.3h0M188.8 239.9h0M457.9 246.0h0M436.6 318.0h0M410.2 306.6h0M439.6 258.0h0M456.1 216.7h0M417.6 219.1h0M416.8 289.4h0M481.6 207.6h0M430.2 319.8h0M426.6 334.7h0M460.8 164.7h0M409.8 213.5h0M415.5 326.1h0M408.1 245.7h0M395.2 233.4h0M457.7 261.3h0M448.2 308.0h0M462.4 310.9h0M468.3 165.6h0M425.9 343.1h0M432.5 254.0h0M424.6 339.6h0M485.3 195.2h0M439.7 196.1h0M413.3 316.3h0M465.4 119.1h0M456.2 253.4h0M470.1 227.8h0M461.1 195.5h0M189.2 242.3h0M409.0 318.2h0M430.5 310.9h0M393.0 209.9h0M415.9 302.2h0M471.5 166.7h0M441.0 205.6h0M452.1 180.2h0M400.2 208.7h0M182.0 246.5h0" stroke="#D3D3D3" stroke-width="5.0" stroke-linecap="round" fill="none"/>
<path d="M394.3 240.9h0" stroke="#A480EA" stroke-width="5.0" stroke-linecap="round" fill="none"/>
<path d="M413.2 249.7h0" stroke="#AA89E7" stroke-width="5.0" stroke-linecap="round" fill="none"/>
<path d="M447.5 251.9h0" stroke="#AA89E7" stroke-width="5.0" stroke-linecap="round" fill="none"/>
<path d="M473.8 236.6h0" stroke="#A480EA" stroke-width="5.0" stroke-linecap="round" fill="none"/>
<path d="M485.4 249.7h0" stroke="#B093E5" stroke-width="5.0" stroke-linecap="round" fill="none"/>
<path d="M475.2 257.0h0" stroke="#B093E5" stroke-width="4.5" stroke-linecap="round" fill="none"/>
<path d="M416.1 270.1h0" stroke="#AA89E7" stroke-width="4.5" stroke-linecap="round" fill="none"/>
<path d="M435.1 284.0h0" stroke="#A480EA" stroke-width="5.0" stroke-linecap="round" fill="none"/>
<path d="M416.9 289.1h0" stroke="#A480EA" stroke-width="4.5" stroke-linecap="round" fill="none"/>
<path d="M420.5 283.2h0" stroke="#AA89E7" stroke-width="4.0" stroke-linecap="round" fill="none"/>
<path d="M445.3 308.5h0" stroke="#7C51F4" stroke-width="4.5" stroke-linecap="round" fill="none"/>
<path d="M417.6 326.3h0" stroke="#9D77EC" stroke-width="4.0" stroke-linecap="round" fill="none"/>
<path d="M457.0 166.0h0" stroke="#A480EA" stroke-width="5.5" stroke-linecap="round" fill="none"/>
<path d="M462.0 165.0h0" stroke="#9D77EC" stroke-width="5.0" stroke-linecap="round" fill="none"/>
<path d="M470.0 184.4h0" stroke="#8E65F0" stroke-width="5.0" stroke-linecap="round" fill="none"/>
<path d="M436.7 195.5h0" stroke="#966EEE" stroke-width="5.0" stroke-linecap="round" fill="none"/>
<path d="M400.2 192.5h0" stroke="#9D77EC" stroke-width="5.0" stroke-linecap="round" fill="none"/>
<path d="M383.0 203.6h0" stroke="#A480EA" stroke-width="5.0" stroke-linecap="round" fill="none"/>
<path d="M427.6 203.6h0" stroke="#9D77EC" stroke-width="5.0" stroke-linecap="round" fill="none"/>
<path d="M446.8 202.6h0" stroke="#A480EA" stroke-width="5.0" stroke-linecap="round" fill="none"/>
<path d="M413.4 209.7h0" stroke="#9D77EC" stroke-width="5.0" stroke-linecap="round" fill="none"/>
<path d="M461.0 220.8h0" stroke="#4926FB" stroke-width="5.0" stroke-linecap="round" fill="none"/>
<path d="M475.1 219.8h0" stroke="#A480EA" stroke-width="5.0" stroke-linecap="round" fill="none"/>
<path d="M465.6 115.0h0" stroke="#A480EA" stroke-width="5.5" stroke-linecap="round" fill="none"/>
<path d="M464.5 124.0h0" stroke="#B69CE3" stroke-width="4.5" stroke-linecap="round" fill="none"/>
<path d="M450.0 176.0h0" stroke="#A480EA" stroke-width="5.0" stroke-linecap="round" fill="none"/>
<path d="M466.0 176.0h0" stroke="#9D77EC" stroke-width="5.0" stroke-linecap="round" fill="none"/>
<path d="M474.0 196.0h0" stroke="#AA89E7" stroke-width="5.0" stroke-linecap="round" fill="none"/>
<path d="M455.0 210.0h0" stroke="#9D77EC" stroke-width="5.0" stroke-linecap="round" fill="none"/>
<path d="M440.0 222.0h0" stroke="#A480EA" stroke-width="5.0" stroke-linecap="round" fill="none"/>
<path d="M468.0 242.0h0" stroke="#AA89E7" stroke-width="5.0" stroke-linecap="round" fill="none"/>
<path d="M480.0 262.0h0" stroke="#B093E5" stroke-width="5.0" stroke-linecap="round" fill="none"/>
<path d="M405.0 215.0h0" stroke="#A480EA" stroke-width="5.0" stroke-linecap="round" fill="none"/>
<path d="M392.0 226.0h0" stroke="#AA89E7" stroke-width="5.0" stroke-linecap="round" fill="none"/>
<path d="M425.0 236.0h0" stroke="#A480EA" stroke-width="5.0" stroke-linecap="round" fill="none"/>
<path d="M180.0 243.0h0" stroke="#B69CE3" stroke-width="4.0" stroke-linecap="round" fill="none"/>
<g font-size="30.3">
<text transform="translate(406.20 133.75) scale(1 1.045)">Neur679</text>
<text transform="translate(406.70 180.00) scale(1 1.045)">Neur492</text>
<text transform="translate(387.70 186.00) scale(1 1.045)">Neur501</text>
<text transform="translate(393.70 190.00) scale(1 1.045)">Neur494</text>
<text transform="translate(399.70 193.00) scale(1 1.045)">Neur616</text>
<text transform="translate(407.70 197.00) scale(1 1.045)">Neur519</text>
<text transform="translate(328.70 200.30) scale(1 1.045)">Neur602</text>
<text transform="translate(318.70 208.00) scale(1 1.045)">Neur514</text>
<text transform="translate(321.70 211.00) scale(1 1.045)">Neur604</text>
<text transform="translate(353.70 209.00) scale(1 1.045)">Neur504</text>
<text transform="translate(369.70 205.00) scale(1 1.045)">Neur517</text>
<text transform="translate(401.70 214.00) scale(1 1.045)">Neur606</text>
<text transform="translate(312.20 230.40) scale(1 1.045)">Neur513</text>
<text transform="translate(315.70 233.00) scale(1 1.045)">Neur608</text>
<text transform="translate(366.20 230.60) scale(1 1.045)">Neur512</text>
<text transform="translate(356.20 228.20) scale(1 1.045)">Neur503</text>
<text transform="translate(384.50 244.60) scale(1 1.045)">Neur509</text>
<text transform="translate(346.70 249.30) scale(1 1.045)">Neur516</text>
<text transform="translate(264.90 253.30) scale(1 1.045)">Neur560</text>
<text transform="translate(389.20 269.60) scale(1 1.045)">Neur510</text>
<text transform="translate(370.70 283.00) scale(1 1.045)">Neur511</text>
<text transform="translate(382.70 326.80) scale(1 1.045)">Neur525</text>
<text transform="translate(390.90 343.10) scale(1 1.045)">Neur526</text>
<text transform="translate(365.70 350.90) scale(1 1.045)">Neur524</text>
<text transform="translate(184.50 229.70) scale(1 1.045)">Neur573</text>
<text transform="translate(184.90 231.00) scale(1 1.045)">Neur574</text>
<text transform="translate(181.20 243.80) scale(1 1.045)">Neur576</text>
<text transform="translate(130.70 244.60) scale(1 1.045)">Neur567</text>
<text transform="translate(116.40 260.00) scale(1 1.045)">Neur565</text>
<text transform="translate(107.70 259.60) scale(1 1.045)">Neur563</text>
</g></g>
<path d="M142.6 91.2V368.6H513.0" stroke="#000" stroke-width="2.75" fill="none" stroke-linecap="butt"/>
<path d="M142.6 129.1h-9.5M142.6 188.8h-9.5M142.6 248.4h-9.5M142.6 308.1h-9.5M142.6 367.7h-9.5M159.1 368.6v9.5M283.4 368.6v9.5M407.6 368.6v9.5" stroke="#000" stroke-width="2.5" fill="none"/>
<g font-size="32">
<text transform="translate(125.70 141.10) scale(1 1.045)" text-anchor="end">10</text>
<text transform="translate(125.70 200.75) scale(1 1.045)" text-anchor="end">5</text>
<text transform="translate(125.70 260.40) scale(1 1.045)" text-anchor="end">0</text>
<text transform="translate(125.70 320.05) scale(1 1.045)" text-anchor="end">-5</text>
<text transform="translate(125.70 379.70) scale(1 1.045)" text-anchor="end">-10</text>
<text transform="translate(159.10 409.00) scale(1 1.045)" text-anchor="middle">-20</text>
<text transform="translate(283.35 409.00) scale(1 1.045)" text-anchor="middle">-10</text>
<text transform="translate(407.60 409.00) scale(1 1.045)" text-anchor="middle">0</text>
</g>
<text transform="translate(327.50 450.60) scale(1 1.02)" font-size="37.3" text-anchor="middle">UMAP_1</text>
<text transform="translate(60.30 230.70) rotate(-90) scale(1 1.02)" font-size="37.3" text-anchor="middle">UMAP_2</text>
<rect x="548.6" y="137.7" width="41.1" height="204.2" fill="url(#lg)"/>
<g font-size="32">
<text transform="translate(607.60 354.40) scale(1 1.045)">0.0</text>
<text transform="translate(607.60 311.86) scale(1 1.045)">0.5</text>
<text transform="translate(607.60 269.32) scale(1 1.045)">1.0</text>
<text transform="translate(607.60 226.77) scale(1 1.045)">1.5</text>
<text transform="translate(607.60 184.23) scale(1 1.045)">2.0</text>
</g>
<path d="M548.6 341.9h8.2M589.7 341.9h-8.2M548.6 299.4h8.2M589.7 299.4h-8.2M548.6 256.8h8.2M589.7 256.8h-8.2M548.6 214.3h8.2M589.7 214.3h-8.2M548.6 171.7h8.2M589.7 171.7h-8.2" stroke="#fff" stroke-width="1" fill="none"/>
</g>
<g transform="translate(657.5,0.0)">
<text transform="translate(326.70 63.90) scale(0.99 1.045)" font-size="43" text-anchor="middle" font-weight="bold">Gm15594</text>
<g clip-path="url(#cp)">
<path d="M416.5 124.5h0M419.8 242.5h0M381.2 202.0h0M470.3 252.6h0M422.7 221.4h0M371.0 210.8h0M403.9 258.9h0M444.2 217.9h0M424.1 251.2h0M435.0 285.0h0M455.5 336.5h0M466.9 256.3h0M450.7 307.9h0M391.0 203.9h0M421.9 351.0h0M405.3 263.6h0M414.2 323.4h0M427.2 183.4h0M185.0 226.4h0M415.5 332.8h0M370.3 204.7h0M188.4 230.0h0M410.7 316.3h0M443.0 174.7h0M474.5 222.2h0M418.1 261.8h0M387.6 205.0h0M391.5 191.2h0M377.0 203.1h0M444.3 301.6h0M435.5 251.8h0M448.0 168.1h0M478.8 192.7h0M395.2 226.9h0M458.6 238.5h0M450.7 240.1h0M411.1 193.7h0M406.0 292.2h0M474.0 169.4h0M474.7 198.3h0M454.7 250.4h0M468.1 186.3h0M411.1 237.1h0M460.5 186.0h0M244.7 227.3h0M419.6 269.6h0M469.6 169.6h0M420.1 219.7h0M466.8 178.7h0M435.3 215.0h0M397.8 248.8h0M428.2 232.0h0M450.3 286.7h0M422.5 247.8h0M461.7 162.8h0M411.5 235.6h0M411.1 223.0h0M387.3 191.5h0M375.7 209.6h0M388.9 187.6h0M423.0 310.2h0M463.8 207.2h0M453.9 317.8h0M415.9 249.0h0M458.5 317.1h0M447.4 177.7h0M478.9 196.4h0M432.9 219.7h0M476.0 216.9h0M379.9 198.6h0M461.7 263.9h0M447.0 203.3h0M472.0 213.4h0M451.1 251.0h0M441.0 184.7h0M429.5 240.5h0M448.9 173.1h0M429.2 271.4h0M425.2 270.1h0M377.9 233.0h0M438.5 256.8h0M442.7 232.7h0M459.1 170.6h0M244.3 230.8h0M405.3 195.2h0M435.1 264.4h0M416.9 253.1h0M397.7 210.0h0M462.5 245.6h0M417.2 258.0h0M466.2 119.8h0M451.2 214.9h0M484.7 204.6h0M481.3 203.7h0M461.7 174.2h0M397.4 250.6h0M432.4 257.9h0M413.0 274.1h0M471.8 230.1h0M454.4 168.5h0M442.7 347.1h0M453.7 162.3h0M460.9 260.4h0M482.5 184.7h0M431.1 190.5h0M439.6 293.4h0M435.8 308.7h0M179.3 246.4h0M414.0 187.7h0M454.8 309.0h0M468.1 191.0h0M409.6 235.1h0M480.7 182.5h0M470.7 223.0h0M412.9 321.3h0M248.1 233.0h0M431.5 226.9h0M448.3 240.8h0M425.4 326.0h0M466.1 142.3h0M177.5 224.0h0M433.3 245.4h0M442.4 282.2h0M464.0 208.9h0M466.1 312.6h0M450.7 188.9h0M438.2 198.9h0M477.7 267.6h0M442.5 305.1h0M457.6 294.9h0M406.1 204.5h0M471.5 174.7h0M444.4 284.9h0M422.3 306.0h0M404.0 242.1h0M426.0 276.2h0M413.9 258.0h0M442.1 287.9h0M465.3 162.5h0M244.2 223.2h0M466.2 188.7h0M446.4 300.3h0M461.4 207.0h0M464.8 117.3h0M421.4 250.7h0M399.6 199.0h0M179.4 256.8h0M460.8 255.3h0M462.0 271.8h0M464.4 157.3h0M421.9 345.1h0M427.8 327.0h0M459.2 199.8h0M459.1 202.1h0M383.9 196.1h0M438.2 230.7h0M432.3 288.2h0M483.0 192.9h0M451.4 314.5h0M483.9 250.1h0M426.6 235.2h0M408.1 253.8h0M398.8 206.0h0M455.2 191.5h0M450.1 245.9h0M471.5 242.2h0M413.0 211.5h0M464.6 131.1h0M432.8 298.2h0M476.5 175.7h0M398.6 233.2h0M437.4 280.1h0M390.2 244.7h0M464.5 254.3h0M442.9 277.4h0M466.8 228.2h0M444.3 302.6h0M425.5 191.2h0M373.6 206.7h0M486.0 188.0h0M420.5 290.7h0M449.0 211.1h0M434.9 347.9h0M444.1 323.8h0M425.1 258.5h0M479.8 216.7h0M441.1 347.1h0M432.2 182.5h0M445.0 312.8h0M476.5 200.4h0M432.7 303.7h0M403.7 187.6h0M454.1 323.8h0M431.0 282.7h0M186.6 232.4h0M425.9 237.8h0M418.6 202.1h0M444.1 335.4h0M427.5 249.4h0M437.9 316.9h0M460.9 230.5h0M450.5 319.8h0M434.7 332.2h0M420.1 302.3h0M469.4 203.9h0M468.4 243.3h0M415.8 221.8h0M433.4 292.5h0M439.1 339.1h0M441.6 256.6h0M453.8 334.5h0M483.2 255.3h0M432.5 221.6h0M477.7 173.6h0M480.2 187.7h0M238.3 230.0h0M450.3 284.3h0M431.0 277.7h0M460.7 238.8h0M405.5 262.2h0M457.6 309.1h0M417.4 202.1h0M453.6 235.4h0M456.8 183.2h0M424.9 322.0h0M408.0 313.0h0M446.0 309.3h0M411.1 266.9h0M455.0 195.8h0M436.3 194.2h0M442.8 236.3h0M461.0 308.8h0M391.7 212.8h0M382.6 217.8h0M424.8 234.6h0M369.5 214.2h0M437.7 258.9h0M441.0 344.5h0M451.7 281.3h0M461.0 247.7h0M244.2 216.5h0M449.6 231.7h0M415.9 237.6h0M432.5 240.7h0M465.5 147.9h0M184.8 233.4h0M437.1 306.4h0M427.3 204.6h0M404.3 222.4h0M456.8 209.2h0M445.5 224.6h0M452.9 326.7h0M463.7 251.8h0M441.1 292.9h0M431.3 264.6h0M171.4 227.3h0M381.0 204.2h0M465.4 161.0h0M371.5 228.1h0M464.6 163.6h0M385.4 229.6h0M451.9 204.2h0M420.2 210.9h0M429.2 223.0h0M439.9 202.0h0M391.7 249.3h0M430.6 231.7h0M471.8 199.2h0M431.8 196.7h0M456.2 292.1h0M418.9 340.4h0M442.8 248.9h0M459.9 251.3h0M403.5 216.2h0M414.9 267.6h0M424.0 267.0h0M425.0 343.9h0M369.0 222.8h0M420.2 213.4h0M427.7 230.7h0M384.4 243.3h0M416.0 213.4h0M420.5 183.7h0M239.6 222.6h0M426.2 188.4h0M471.0 187.6h0M378.4 221.5h0M470.0 191.2h0M473.3 207.2h0M408.1 291.8h0M403.9 253.4h0M431.0 245.7h0M466.8 250.0h0M453.4 233.0h0M438.4 277.4h0M409.4 224.2h0M473.0 179.6h0M449.1 207.1h0M465.0 234.6h0M387.9 239.8h0M463.6 161.6h0M415.3 313.7h0M467.1 181.5h0M406.0 288.4h0M381.3 221.2h0M434.4 226.7h0M474.3 203.0h0M392.6 216.0h0M380.0 190.2h0M402.3 242.7h0M478.5 176.9h0M430.6 308.4h0M468.2 217.8h0M369.2 212.8h0M453.4 199.1h0M473.2 247.3h0M475.7 180.5h0M424.0 292.1h0M464.2 263.4h0M428.8 321.8h0M436.6 324.7h0M447.8 246.5h0M415.9 297.6h0M374.0 226.8h0M467.3 222.4h0M460.4 167.7h0M445.5 281.4h0M402.1 255.8h0M383.6 226.7h0M185.0 250.8h0M438.9 267.1h0M442.3 188.1h0M180.3 242.4h0M465.9 225.1h0M439.7 295.3h0M432.6 314.6h0M483.5 265.9h0M458.3 227.8h0M436.8 298.5h0M397.8 216.2h0M406.8 256.8h0M445.0 209.4h0M457.9 229.9h0M385.1 220.5h0M392.2 243.7h0M455.3 186.0h0M479.0 190.4h0M429.2 192.6h0M446.5 211.1h0M412.0 187.9h0M402.0 192.6h0M412.2 324.1h0M484.7 252.7h0M409.7 232.2h0M451.6 295.1h0M444.1 203.6h0M382.2 199.3h0M427.8 314.0h0M448.8 305.2h0M409.7 251.0h0M426.5 289.5h0M182.7 239.5h0M432.0 276.1h0M458.2 206.7h0M466.7 131.3h0M412.3 229.4h0M445.7 273.6h0M418.5 238.1h0M412.1 245.1h0M411.5 303.9h0M464.0 247.4h0M394.8 240.8h0M464.5 185.2h0M377.0 197.1h0M426.7 287.9h0M402.2 198.6h0M241.9 228.3h0M438.6 173.4h0M420.5 129.0h0M418.7 298.6h0M384.2 215.4h0M392.6 238.4h0M379.3 229.8h0M420.7 314.5h0M458.0 331.0h0M376.5 205.8h0M372.3 213.9h0M484.1 208.7h0M178.2 232.2h0M441.5 232.8h0M423.1 341.8h0M429.4 252.9h0M432.3 199.4h0M389.7 244.2h0M478.8 213.9h0M181.8 252.9h0M450.2 264.6h0M465.3 144.8h0M429.1 274.4h0M413.2 305.8h0M456.7 329.7h0M424.3 277.6h0M427.5 224.0h0M441.2 271.3h0M432.5 181.4h0M468.2 176.0h0M438.4 264.7h0M432.1 209.8h0M462.1 177.7h0M173.0 252.8h0M438.5 287.4h0M414.2 226.7h0M411.2 218.9h0M416.1 295.3h0M411.8 240.2h0M414.2 336.9h0M463.2 225.8h0M411.7 308.2h0M418.9 345.1h0M407.9 279.9h0M410.8 299.9h0M455.0 331.0h0M444.7 319.2h0M389.1 233.5h0M479.4 200.6h0M444.4 250.2h0M427.4 250.6h0M448.9 251.0h0M457.4 312.6h0M429.7 313.8h0M436.2 189.1h0M483.0 191.9h0M422.4 231.9h0M415.1 255.9h0M461.5 300.9h0M429.2 190.2h0M461.8 269.6h0M479.8 264.7h0M425.3 253.7h0M458.5 195.4h0M387.4 232.4h0M432.3 289.5h0M420.5 297.7h0M469.1 240.3h0M444.4 293.2h0M451.8 172.2h0M436.7 248.2h0M448.8 202.2h0M413.2 197.0h0M423.7 229.0h0M450.2 217.1h0M483.4 199.4h0M170.4 240.9h0M460.3 329.1h0M429.4 285.0h0M175.2 227.8h0M409.5 217.2h0M389.1 247.4h0M176.1 241.2h0M394.3 223.9h0M460.3 234.9h0M385.0 189.3h0M447.3 202.0h0M408.0 298.5h0M445.5 298.5h0M416.1 180.0h0M418.5 250.7h0M396.0 237.1h0M397.5 187.6h0M420.9 230.5h0M442.6 299.0h0M441.3 174.7h0M419.3 186.4h0M453.7 172.4h0M452.9 210.8h0M401.0 245.2h0M425.8 212.8h0M469.7 195.9h0M465.3 212.6h0M180.4 239.9h0M380.0 195.6h0M419.6 196.7h0M438.3 310.0h0M429.1 243.9h0M465.4 136.0h0M473.4 184.9h0M424.6 303.5h0M384.8 198.2h0M432.0 212.7h0M393.3 192.5h0M442.0 250.9h0M431.8 207.0h0M396.1 186.7h0M453.3 174.3h0M424.7 219.9h0M463.7 193.8h0M403.5 234.3h0M442.1 241.1h0M468.5 223.9h0M411.3 291.9h0M182.0 255.2h0M466.8 259.4h0M168.7 252.4h0M168.6 243.1h0M386.6 227.2h0M435.1 268.3h0M418.9 330.9h0M461.4 218.0h0M429.3 238.2h0M433.0 225.5h0M433.6 311.7h0M183.2 252.7h0M420.0 280.3h0M460.3 182.2h0M402.6 252.0h0M448.5 342.3h0M385.7 196.4h0M418.8 328.5h0M406.9 327.3h0M426.0 309.0h0M426.4 221.9h0M447.6 272.0h0M471.3 181.5h0M172.8 240.7h0M481.8 209.2h0M439.3 193.1h0M427.6 211.1h0M462.5 171.7h0M412.3 286.9h0M424.0 205.0h0M240.6 219.6h0M462.7 236.1h0M384.4 206.5h0M418.7 203.8h0M426.7 297.1h0M408.5 271.2h0M444.0 311.5h0M382.7 191.2h0M468.5 261.9h0M408.7 208.3h0M409.8 308.6h0M440.3 263.1h0M455.1 301.0h0M466.9 123.2h0M410.4 285.3h0M387.1 215.2h0M413.8 201.1h0M482.5 201.4h0M487.8 263.5h0M449.9 242.8h0M466.5 318.0h0M247.0 212.7h0M440.5 326.3h0M177.3 226.9h0M396.5 216.4h0M445.0 329.3h0M474.2 212.1h0M399.7 215.5h0M451.6 337.7h0M475.2 188.2h0M445.5 265.6h0M465.1 269.0h0M440.0 236.2h0M438.2 269.4h0M432.4 251.2h0M423.2 325.1h0M465.3 111.6h0M399.2 252.7h0M468.1 230.5h0M449.9 301.5h0M418.9 263.4h0M383.7 237.0h0M440.4 316.2h0M443.2 279.3h0M381.8 230.4h0M424.7 214.5h0M388.5 199.6h0M476.1 242.3h0M413.5 222.1h0M465.7 129.6h0M448.6 293.3h0M440.2 238.5h0M402.3 229.4h0M432.3 347.0h0M466.6 266.2h0M459.1 225.7h0M181.2 237.5h0M420.3 217.5h0M406.8 227.9h0M441.1 300.0h0M439.7 289.5h0M418.1 225.9h0M379.3 219.1h0M415.8 274.7h0M418.5 126.7h0M440.8 341.6h0M393.1 223.0h0M478.6 204.8h0M485.6 202.1h0M406.5 191.0h0M446.5 247.5h0M454.5 275.3h0M455.7 237.1h0M246.1 224.3h0M455.7 327.2h0M385.1 193.1h0M377.2 226.8h0M429.4 182.8h0M447.0 329.8h0M436.2 225.5h0M436.7 177.3h0M415.9 196.1h0M406.6 258.7h0M410.5 336.3h0M456.1 179.6h0M442.2 319.3h0M398.8 212.8h0M447.0 335.0h0M465.4 139.6h0M437.9 170.5h0M437.9 227.0h0M454.5 175.7h0M422.6 347.1h0M175.7 252.5h0M465.2 209.5h0M459.3 175.2h0M418.9 303.0h0M415.5 340.2h0M466.6 111.3h0M445.5 229.2h0M464.8 128.1h0M183.5 238.6h0M438.0 272.5h0M379.7 237.9h0M464.3 226.6h0M174.8 232.3h0M442.8 209.2h0M456.7 193.2h0M466.1 133.0h0M441.6 178.8h0M405.2 214.0h0M400.5 201.8h0M451.8 219.1h0M412.2 276.1h0M466.9 164.4h0M420.1 194.3h0M469.4 235.2h0M436.1 255.8h0M427.8 196.9h0M464.0 313.2h0M438.3 285.9h0M447.0 219.3h0M466.3 240.2h0M403.5 207.0h0M447.1 302.5h0M171.0 245.3h0M407.9 322.1h0M452.3 185.9h0M455.3 315.8h0M438.4 328.7h0M428.7 294.5h0M424.7 271.5h0M415.2 282.7h0M464.6 201.9h0M466.1 115.7h0M434.7 170.9h0M396.5 213.8h0M470.6 200.9h0M425.0 347.6h0M466.1 113.4h0M487.6 257.1h0M447.9 257.1h0M445.2 214.4h0M389.4 238.7h0M409.5 328.7h0M477.0 196.0h0M447.6 182.5h0M447.2 258.2h0M448.7 332.6h0M423.3 188.9h0M380.3 217.6h0M189.4 237.3h0M431.5 342.0h0M407.3 221.9h0M418.9 208.6h0M371.8 207.5h0M405.6 229.8h0M471.5 172.2h0M416.0 264.7h0M381.5 227.0h0M430.6 209.1h0M466.5 248.4h0M469.5 178.9h0M420.4 259.8h0M239.6 236.4h0M472.4 256.5h0M419.3 253.9h0M450.5 176.0h0M429.0 287.2h0M471.7 194.0h0M472.7 174.5h0M460.0 304.1h0M433.8 350.0h0M407.1 201.3h0M431.8 268.7h0M433.8 196.0h0M449.8 185.3h0M453.1 321.9h0M451.9 190.0h0M455.0 228.0h0M466.7 197.1h0M469.6 256.2h0M487.6 194.5h0M433.1 213.7h0M448.7 326.2h0M459.6 241.1h0M444.3 195.6h0M438.0 336.6h0M424.9 194.5h0M411.8 198.7h0M480.2 211.8h0M450.3 209.6h0M410.4 310.2h0M433.7 248.3h0M393.1 188.0h0M476.9 263.9h0M450.9 257.0h0M464.9 159.1h0M447.3 208.6h0M395.2 200.9h0M446.5 326.9h0M464.9 114.9h0M375.2 217.8h0M438.4 178.4h0M440.0 279.3h0M420.5 327.0h0M397.6 245.5h0M452.4 253.5h0M455.0 314.0h0M433.3 344.9h0M442.6 224.5h0M183.9 243.7h0M423.2 185.0h0M427.0 199.8h0M465.1 136.5h0M421.4 329.2h0M238.1 232.2h0M449.2 320.6h0M457.9 181.0h0M409.6 207.4h0M401.8 254.3h0M412.5 214.0h0M244.1 219.0h0M421.2 255.9h0M455.3 164.8h0M393.2 200.9h0M423.2 224.1h0M416.7 243.9h0M445.5 289.3h0M430.5 345.9h0M436.5 221.3h0M456.8 199.3h0M413.9 290.5h0M475.7 238.5h0M465.0 193.4h0M417.5 293.3h0M466.4 125.5h0M424.9 350.1h0M453.9 187.6h0M450.1 295.2h0M376.7 214.1h0M463.5 233.3h0M178.9 235.7h0M405.0 251.5h0M468.0 198.6h0M459.7 172.5h0M432.5 282.8h0M466.9 237.8h0M400.8 233.0h0M426.0 272.1h0M396.1 240.2h0M467.4 202.2h0M473.0 266.9h0M458.0 172.8h0M437.1 252.7h0M382.4 219.2h0M454.6 241.3h0M449.7 180.1h0M485.0 262.0h0M471.2 238.1h0M434.6 305.3h0M436.7 200.6h0M461.7 163.3h0M464.7 142.8h0M474.3 178.8h0M421.5 246.6h0M423.3 244.8h0M406.4 193.8h0M390.2 201.1h0M439.6 332.2h0M460.6 165.2h0M415.4 335.0h0M450.0 269.6h0M391.0 219.5h0M394.5 249.2h0M434.0 320.5h0M377.2 201.7h0M445.7 237.6h0M461.0 162.5h0M379.3 204.3h0M423.4 280.4h0M469.1 266.5h0M429.1 292.0h0M435.5 233.2h0M436.9 301.1h0M445.6 295.9h0M431.2 242.4h0M225.0 228.0h0M422.9 326.6h0M238.3 228.4h0M414.5 225.2h0M463.3 266.2h0M426.5 209.7h0M428.4 299.7h0M465.4 163.5h0M459.6 220.2h0M432.7 323.1h0M451.8 195.4h0M464.8 169.1h0M464.4 242.1h0M439.8 248.7h0M420.4 190.2h0M413.0 183.3h0M395.1 253.0h0M463.5 230.8h0M387.5 217.0h0M477.2 250.7h0M457.8 300.6h0M405.7 267.5h0M466.3 230.0h0M458.9 191.7h0M410.3 201.7h0M450.6 303.2h0M453.3 266.8h0M481.5 258.8h0M431.4 295.6h0M465.4 245.1h0M459.2 263.8h0M459.1 313.4h0M477.4 260.8h0M415.0 262.0h0M451.6 316.5h0M445.7 170.8h0M442.7 169.8h0M437.8 290.7h0M416.2 321.0h0M389.5 217.1h0M442.2 302.7h0M474.5 196.8h0M182.7 229.1h0M430.5 202.3h0M415.7 286.9h0M481.6 254.2h0M410.0 282.6h0M471.6 183.2h0M435.3 281.4h0M183.1 247.6h0M474.6 255.6h0M375.9 194.3h0M459.4 306.7h0M446.4 232.0h0M180.5 231.4h0M453.3 330.9h0M431.5 301.2h0M434.5 259.6h0M455.5 169.0h0M387.4 210.9h0M465.5 122.8h0M417.4 334.8h0M411.1 330.2h0M449.6 274.5h0M418.5 181.0h0M409.1 218.9h0M411.4 271.0h0M469.8 233.0h0M469.6 208.5h0M240.9 225.7h0M457.5 212.7h0M372.2 199.0h0M458.8 257.8h0M474.6 241.5h0M419.9 295.9h0M468.1 167.9h0M457.3 255.2h0M450.2 225.7h0M433.7 340.1h0M440.2 270.2h0M470.8 263.6h0M412.2 282.6h0M430.1 235.0h0M436.4 266.7h0M471.6 246.8h0M428.0 311.7h0M472.6 203.1h0M410.8 269.8h0M436.8 217.2h0M460.9 201.8h0M475.9 214.4h0M479.6 206.2h0M389.7 207.5h0M449.5 222.3h0M430.7 273.6h0M446.3 175.2h0M474.7 235.5h0M442.5 206.9h0M439.4 213.8h0M239.8 214.8h0M426.2 303.1h0M370.7 217.5h0M472.2 271.6h0M215.0 232.0h0M432.0 331.3h0M397.5 204.2h0M378.3 214.4h0M452.7 202.0h0M462.9 325.1h0M400.9 226.5h0M407.9 290.7h0M411.3 196.2h0M463.5 180.6h0M464.1 315.8h0M451.3 178.8h0M426.1 305.3h0M372.0 222.2h0M408.4 187.8h0M437.0 349.1h0M447.2 288.5h0M403.7 184.0h0M430.0 261.0h0M408.5 212.8h0M444.3 340.2h0M461.1 258.7h0M466.4 203.4h0M474.5 217.9h0M415.1 329.5h0M452.3 218.0h0M417.3 189.2h0M451.9 165.8h0M453.1 256.0h0M458.0 216.7h0M426.3 214.3h0M486.0 190.6h0M451.6 284.4h0M442.1 199.2h0M383.5 232.6h0M426.4 179.5h0M479.9 180.4h0M433.8 260.5h0M414.1 237.0h0M411.0 258.6h0M423.1 332.0h0M463.5 213.5h0M417.6 281.4h0M407.4 269.9h0M445.0 177.2h0M417.4 276.8h0M459.8 267.1h0M378.3 224.4h0M437.7 326.0h0M408.0 229.7h0M394.9 219.2h0M465.8 182.6h0M445.8 344.0h0M427.7 341.5h0M451.6 183.2h0M422.2 295.2h0M415.5 191.0h0M410.3 190.4h0M441.3 284.1h0M439.2 210.0h0M428.0 216.2h0M387.4 193.8h0M426.9 345.0h0M435.5 314.6h0M379.9 236.2h0M391.3 229.4h0M415.6 232.2h0M438.5 324.6h0M399.2 219.8h0M435.5 183.3h0M373.9 202.3h0M408.5 238.0h0M429.0 198.9h0M481.9 255.6h0M468.5 173.6h0M474.7 260.6h0M458.8 270.2h0M429.4 220.1h0M416.9 216.2h0M447.6 193.4h0M440.4 310.9h0M414.5 264.6h0M445.0 199.1h0M461.0 179.6h0M399.7 204.7h0M426.4 296.2h0M407.4 284.1h0M423.6 287.3h0M424.0 318.0h0M399.9 234.7h0M423.4 180.8h0M400.0 256.0h0M417.7 235.2h0M448.7 314.0h0M248.0 228.2h0M480.3 215.1h0M446.6 332.4h0M437.4 180.5h0M431.2 306.6h0M476.4 211.5h0M439.3 182.5h0M450.6 340.4h0M468.2 232.3h0M415.4 178.8h0M409.7 334.4h0M438.1 223.8h0M240.9 230.1h0M459.0 272.4h0M423.3 260.9h0M462.3 218.7h0M427.9 180.4h0M382.6 208.7h0M458.2 310.3h0M438.9 251.4h0M429.0 205.7h0M453.4 280.2h0M451.4 235.5h0M475.7 185.6h0M448.8 310.2h0M433.4 334.0h0M436.6 245.7h0M439.9 169.1h0M414.0 310.2h0M418.6 214.1h0M465.5 196.6h0M419.3 315.7h0M404.0 200.8h0M375.0 230.5h0M447.3 276.0h0M457.9 240.9h0M405.5 219.6h0M395.6 190.6h0M436.9 198.8h0M461.9 322.3h0M481.7 264.4h0M394.9 250.0h0M453.7 209.3h0M374.2 196.8h0M448.9 190.1h0M443.4 336.6h0M481.7 195.5h0M417.7 239.5h0M380.6 212.6h0M439.2 262.0h0M441.5 321.5h0M478.8 184.1h0M415.5 315.3h0M427.1 220.0h0M205.0 236.0h0M454.7 214.6h0M435.5 278.0h0M376.8 224.7h0M445.6 269.3h0M388.6 196.8h0M465.1 166.7h0M411.4 263.2h0M436.2 260.8h0M385.6 242.5h0M430.3 251.1h0M431.3 315.9h0M412.1 209.8h0M420.3 199.1h0M475.0 208.2h0M447.2 181.1h0M377.1 217.5h0M404.0 191.8h0M447.5 213.8h0M412.2 252.0h0M186.4 248.8h0M174.5 243.1h0M186.3 242.2h0M437.2 331.8h0M187.5 236.9h0M420.5 311.1h0M456.0 211.2h0M417.3 245.1h0M445.6 279.6h0M189.6 231.5h0M422.4 263.5h0M408.4 203.8h0M456.8 333.7h0M444.1 181.0h0M415.6 318.4h0M406.6 295.1h0M449.9 196.9h0M401.9 211.6h0M416.4 228.2h0M403.5 244.9h0M178.2 236.8h0M454.5 243.4h0M434.4 207.5h0M400.7 247.7h0M454.2 224.5h0M418.9 308.5h0M443.5 275.1h0M446.2 311.9h0M410.4 327.3h0M482.9 249.4h0M413.3 279.9h0M472.4 260.7h0M417.0 269.2h0M463.4 204.2h0M457.1 297.6h0M463.2 255.5h0M459.4 245.2h0M383.4 200.9h0M482.8 211.1h0M444.1 246.0h0M426.2 282.3h0M443.8 294.9h0M174.4 230.1h0M394.0 214.0h0M463.6 306.7h0M473.6 257.9h0M476.9 248.7h0M461.6 227.1h0M441.1 213.6h0M477.3 246.5h0M415.4 272.8h0M450.3 226.7h0M178.1 247.1h0M462.3 183.5h0M473.9 253.7h0M465.1 310.5h0M427.6 178.4h0M418.8 222.4h0M384.0 208.7h0M456.4 178.9h0M474.3 250.4h0M463.9 261.2h0M441.2 192.7h0M418.5 229.6h0M398.4 222.2h0M404.7 232.6h0M437.0 207.6h0M420.1 226.8h0M438.0 204.4h0M453.5 194.0h0M246.6 230.0h0M412.6 284.1h0M443.0 268.7h0M445.8 315.3h0M456.0 306.2h0M437.4 275.5h0M421.2 224.7h0M465.3 127.6h0M430.9 213.8h0M448.9 281.9h0M391.6 189.2h0M443.0 259.6h0M429.5 324.2h0M443.9 331.1h0M461.0 193.5h0M435.0 229.5h0M241.2 221.9h0M470.2 269.0h0M404.0 215.3h0M426.6 339.4h0M177.1 246.3h0M396.8 225.5h0M450.4 272.5h0M431.8 321.8h0M454.6 296.3h0M397.9 184.9h0M455.5 321.2h0M421.8 339.2h0M457.2 265.7h0M168.3 235.8h0M421.5 216.2h0M173.9 235.7h0M425.6 331.3h0M415.3 198.6h0M446.8 242.9h0M428.2 174.9h0M438.1 312.6h0M423.8 308.8h0M431.1 249.1h0M399.4 241.3h0M472.9 177.5h0M419.9 247.4h0M430.6 340.4h0M436.8 238.4h0M421.7 284.0h0M466.7 211.7h0M384.3 234.9h0M471.1 235.6h0M174.7 248.5h0M408.4 185.5h0M412.7 205.6h0M443.1 243.7h0M172.3 237.6h0M466.8 114.3h0M453.0 237.0h0M244.1 225.9h0M411.0 262.3h0M418.4 199.7h0M385.5 206.4h0M429.6 203.6h0M439.8 306.2h0M411.5 180.7h0M466.1 146.7h0M410.5 321.9h0M430.6 284.3h0M450.4 257.8h0M426.2 315.7h0M479.7 258.7h0M448.7 297.4h0M452.5 227.6h0M171.0 232.9h0M475.6 267.0h0M417.4 306.1h0M451.5 264.0h0M412.4 318.8h0M425.2 228.4h0M420.9 318.1h0M421.6 277.7h0M442.8 267.1h0M484.7 259.1h0M449.0 260.4h0M438.2 189.4h0M430.6 174.8h0M451.9 300.1h0M406.8 298.1h0M443.6 325.9h0M445.4 182.4h0M400.8 205.6h0M421.9 290.0h0M436.2 219.6h0M412.0 225.0h0M185.3 240.5h0M435.1 315.6h0M451.5 230.8h0M445.9 276.6h0M424.7 202.1h0M423.9 208.6h0M442.8 204.1h0M448.7 198.8h0M441.7 338.9h0M172.8 242.9h0M460.2 204.2h0M413.4 253.3h0M395.8 195.8h0M445.9 195.7h0M432.1 271.7h0M423.7 281.5h0M409.3 198.2h0M466.3 124.9h0M447.3 254.1h0M458.0 235.3h0M478.0 189.2h0M474.2 233.6h0M436.1 272.5h0M373.9 211.1h0M372.8 210.0h0M190.5 239.5h0M242.3 216.8h0M430.3 304.2h0M436.6 233.1h0M174.1 251.3h0M385.4 204.9h0M247.6 222.2h0M393.2 230.9h0M470.1 257.9h0M402.7 203.9h0M464.6 190.8h0M430.7 336.2h0M379.6 239.5h0M462.7 197.8h0M461.9 190.4h0M430.7 185.2h0M413.7 217.1h0M440.5 336.4h0M372.7 203.8h0M407.5 305.8h0M474.7 182.9h0M170.0 234.5h0M372.2 229.6h0M479.6 269.3h0M464.3 110.8h0M453.4 272.6h0M455.9 202.2h0M435.0 289.8h0M468.4 269.7h0M447.7 319.3h0M438.6 219.1h0M447.4 324.3h0M474.5 190.3h0M427.4 319.2h0M440.0 239.5h0M454.9 249.3h0M390.1 194.4h0M475.1 192.9h0M441.2 246.2h0M439.1 335.1h0M409.0 288.5h0M458.2 243.1h0M458.4 185.6h0M370.2 208.8h0M428.9 280.4h0M404.9 247.5h0M429.7 333.7h0M373.6 220.4h0M479.6 248.5h0M441.0 173.2h0M425.2 195.8h0M456.1 319.3h0M375.1 222.7h0M472.9 225.6h0M420.7 324.9h0M393.9 236.3h0M468.9 194.1h0M453.3 303.1h0M436.6 208.6h0M417.3 212.7h0M431.9 326.1h0M438.6 246.6h0M432.6 204.2h0M397.5 230.5h0M397.9 227.0h0M409.9 210.8h0M181.5 250.0h0M430.9 350.4h0M394.7 199.1h0M418.9 314.0h0M397.3 198.7h0M243.0 231.9h0M445.5 192.9h0M458.9 275.4h0M420.1 281.3h0M421.6 207.2h0M439.5 191.7h0M242.7 234.7h0M418.7 194.4h0M186.4 226.4h0M456.2 161.2h0M420.2 307.7h0M404.8 227.1h0M401.2 259.1h0M428.9 264.5h0M465.5 308.6h0M441.4 275.1h0M416.5 284.2h0M168.9 248.2h0M441.0 216.3h0M427.6 245.2h0M444.2 287.0h0M417.9 256.2h0M395.3 205.8h0M446.3 216.9h0M418.8 183.0h0M425.7 242.2h0M179.5 230.4h0M443.0 211.0h0M408.9 240.7h0M465.5 198.5h0M463.5 240.5h0M475.0 272.0h0M452.9 222.0h0M414.5 278.1h0M185.6 245.9h0M448.6 315.9h0M418.7 301.4h0M406.4 210.1h0M374.1 231.9h0M432.4 234.4h0M476.6 259.4h0M484.7 268.9h0M451.8 207.3h0M441.2 335.0h0M443.0 329.0h0M409.4 194.0h0M434.0 177.5h0M436.5 292.2h0M464.3 176.2h0M452.3 269.9h0M400.8 187.8h0M434.3 180.0h0M453.8 246.6h0M246.1 215.3h0M424.6 255.6h0M388.3 219.1h0M448.6 343.9h0M432.0 319.3h0M457.6 323.2h0M436.5 185.8h0M415.7 230.2h0M402.4 260.6h0M455.8 233.6h0M447.1 320.9h0M442.4 260.5h0M433.7 230.3h0M446.6 223.3h0M459.2 176.9h0M376.8 218.7h0M246.1 220.7h0M178.3 253.0h0M436.3 204.6h0M185.3 229.7h0M434.3 223.1h0M439.1 308.9h0M170.0 250.4h0M481.6 251.0h0M237.3 219.9h0M429.5 329.8h0M423.0 315.7h0M449.2 248.3h0M461.0 315.5h0M418.9 284.8h0M436.3 345.0h0M384.3 224.2h0M426.5 324.8h0M424.3 313.7h0M463.7 222.0h0M423.0 320.8h0M477.4 199.3h0M447.2 205.7h0M167.7 239.9h0M439.4 345.9h0M470.4 185.0h0M456.7 168.1h0M421.5 273.8h0M420.5 274.0h0M443.6 253.6h0M424.6 198.5h0M487.0 261.4h0M409.0 262.2h0M450.4 291.9h0M396.1 234.3h0M472.7 250.2h0M415.3 293.1h0M436.7 348.1h0M481.4 267.0h0M471.9 220.1h0M451.6 290.3h0M379.4 194.3h0M182.1 223.8h0M379.9 232.1h0M379.2 210.0h0M456.3 251.6h0M457.6 271.9h0M245.7 232.9h0M433.8 188.4h0M466.4 159.3h0M449.6 170.3h0M469.7 212.7h0M381.9 194.0h0M421.4 189.2h0M415.9 245.5h0M438.1 191.4h0M415.0 235.1h0M444.5 341.6h0M461.6 306.7h0M464.9 237.4h0M411.3 186.0h0M468.6 184.1h0M432.9 172.2h0M402.0 224.4h0M458.2 223.2h0M466.7 214.1h0M445.7 171.9h0M433.8 243.2h0M458.4 254.4h0M460.9 212.7h0M426.0 261.2h0M396.6 219.9h0M413.3 242.5h0M425.8 310.7h0M465.7 141.7h0M419.0 287.4h0M460.8 319.1h0M424.4 177.2h0M443.8 264.7h0M392.9 196.8h0M427.4 240.0h0M434.0 294.4h0M418.6 271.5h0M425.2 275.3h0M416.0 336.5h0M447.3 224.4h0M443.9 238.6h0M435.6 235.2h0M410.2 252.6h0M448.4 229.9h0M433.7 328.7h0M421.9 191.2h0M423.7 297.6h0M427.6 316.2h0M452.8 170.4h0M425.5 217.0h0M181.7 227.9h0M462.6 308.9h0M408.2 182.4h0M453.4 248.0h0M444.8 219.8h0M472.2 208.9h0M459.5 165.5h0M411.8 204.1h0M434.9 211.4h0M427.9 256.3h0M434.8 325.9h0M475.8 270.0h0M416.8 280.5h0M456.9 224.6h0M458.0 321.4h0M474.2 219.1h0M391.4 234.6h0M373.7 225.9h0M415.7 203.5h0M170.5 230.0h0M411.0 274.7h0M423.2 253.3h0M442.0 325.1h0M443.2 200.6h0M404.3 237.2h0M486.8 252.0h0M430.0 177.3h0M176.4 234.8h0M423.0 334.4h0M425.1 232.6h0M463.1 163.1h0M438.3 243.4h0M246.9 235.8h0M442.1 313.0h0M397.6 243.1h0M432.0 309.0h0M398.3 200.7h0M393.9 246.1h0M477.3 189.9h0M469.6 217.1h0M402.4 186.7h0M453.1 182.3h0M447.4 340.4h0M176.8 230.0h0M455.5 205.7h0M421.0 203.5h0M402.3 195.3h0M431.4 280.5h0M168.1 238.3h0M435.4 238.7h0M414.5 247.4h0M470.3 248.5h0M453.5 229.2h0M427.9 292.8h0M391.7 240.3h0M459.3 208.2h0M450.7 333.8h0M451.6 305.3h0M465.8 270.9h0M409.8 267.0h0M437.2 320.4h0M441.3 227.7h0M384.1 222.4h0M391.6 199.2h0M429.0 258.8h0M432.1 267.3h0M449.0 188.5h0M188.3 245.0h0M469.7 215.2h0M406.8 242.6h0M464.5 125.6h0M425.4 247.5h0M448.7 234.4h0M413.1 268.5h0M481.7 192.8h0M449.3 289.9h0M472.7 227.6h0M444.4 316.4h0M461.7 242.6h0M382.0 235.3h0M454.8 311.0h0M435.0 287.7h0M428.6 268.8h0M478.6 185.6h0M413.2 327.1h0M427.9 228.4h0M453.7 328.7h0M178.5 224.2h0M441.8 309.3h0M417.1 185.1h0M398.8 190.8h0M411.0 249.2h0M463.3 160.5h0M436.1 241.5h0M457.5 187.4h0M445.3 271.5h0M459.5 324.6h0M484.3 187.3h0M478.7 253.0h0M423.4 202.0h0M405.3 240.2h0M388.7 229.8h0M466.8 219.5h0M375.8 199.3h0M438.5 296.2h0M465.5 138.4h0M418.9 233.1h0M406.6 199.2h0M388.0 246.7h0M414.6 219.4h0M421.9 237.5h0M468.1 219.4h0M447.0 190.8h0M425.5 264.9h0M458.7 326.1h0M468.6 187.3h0M425.9 207.3h0M470.8 206.4h0M412.6 191.5h0M467.2 206.9h0M454.3 292.9h0M451.9 273.9h0M464.6 120.5h0M457.9 204.2h0M423.0 239.8h0M402.4 191.4h0M446.2 264.2h0M421.2 209.6h0M326.0 243.0h0M437.7 212.4h0M400.7 238.6h0M424.9 182.3h0M434.9 337.3h0M441.4 219.7h0M391.7 228.2h0M427.9 266.6h0M435.5 174.5h0M323.0 242.0h0M464.5 164.5h0M417.5 301.0h0M481.9 198.8h0M425.4 301.0h0M409.5 290.1h0M472.6 263.5h0M472.7 236.9h0M389.7 211.6h0M426.2 192.9h0M450.0 193.0h0M445.6 256.4h0M407.3 301.3h0M430.3 188.0h0M428.3 291.1h0M450.3 165.8h0M472.9 200.6h0M386.3 237.0h0M407.9 216.4h0M467.2 264.7h0M376.7 235.7h0M458.8 232.2h0M428.8 200.4h0M370.8 225.3h0M450.0 238.9h0M244.1 213.8h0M423.0 196.5h0M405.0 182.7h0M451.2 261.8h0M397.8 256.3h0M445.6 342.2h0M426.4 336.9h0M381.4 189.3h0M394.8 203.0h0M424.6 329.2h0M465.8 143.5h0M183.3 235.8h0M474.1 268.9h0M464.8 134.6h0M477.0 210.2h0M418.9 319.5h0M446.0 284.2h0M473.7 243.6h0M456.9 304.2h0M426.4 330.2h0M455.2 222.4h0M468.8 251.7h0M391.4 213.8h0M237.6 224.2h0M421.3 334.8h0M421.5 300.7h0M386.6 200.6h0M387.8 209.4h0M443.9 322.4h0M414.0 240.7h0M189.5 235.5h0M417.6 323.9h0M438.6 317.9h0M415.9 309.1h0M444.2 184.9h0M406.9 195.7h0M463.3 189.3h0M399.6 225.3h0M420.2 336.1h0M413.9 294.7h0M461.4 253.6h0M404.5 184.8h0M427.7 348.3h0M484.5 264.7h0M445.6 187.8h0M471.1 240.2h0M433.8 280.6h0M179.8 249.9h0M429.4 298.8h0M171.4 247.4h0M391.7 210.0h0M415.9 182.8h0M428.0 349.4h0M441.4 179.8h0M409.6 227.0h0M468.0 169.5h0M383.4 212.7h0M401.0 217.7h0M475.0 172.0h0M406.7 236.0h0M388.3 225.1h0M435.2 172.3h0M453.2 310.2h0M436.4 329.0h0M395.0 211.9h0M454.7 261.1h0M399.0 229.1h0M438.5 298.8h0M423.4 258.8h0M465.8 260.5h0M414.2 185.0h0M474.6 225.7h0M462.5 274.3h0M452.7 259.8h0M410.5 294.8h0M439.7 211.4h0M467.9 254.1h0M424.9 185.5h0M425.3 175.3h0M417.0 341.9h0M376.6 210.9h0M176.9 251.5h0M404.4 211.1h0M477.1 254.1h0M461.0 231.9h0M381.2 206.7h0M446.7 226.9h0M465.9 163.0h0M389.3 190.4h0M459.3 248.8h0M406.7 207.6h0M404.0 219.7h0M419.5 305.4h0M433.1 256.0h0M395.3 243.9h0M441.0 182.7h0M435.4 343.4h0M410.6 331.7h0M446.7 336.7h0M454.5 263.2h0M465.1 165.2h0M419.2 322.0h0M371.4 201.5h0M398.3 195.9h0M465.1 217.9h0M464.5 118.9h0M389.7 222.1h0M435.1 300.2h0M395.7 222.0h0M444.4 222.8h0M423.0 336.2h0M444.0 190.9h0M416.9 310.1h0M421.3 266.4h0M429.6 229.1h0M406.7 225.0h0M429.2 224.2h0M408.5 264.1h0M445.7 167.3h0M386.5 223.2h0M433.6 191.7h0M447.6 265.9h0M423.0 268.8h0M445.6 306.4h0M422.2 227.9h0M484.9 210.9h0M477.4 207.2h0M486.8 198.2h0M419.9 348.3h0M469.5 246.0h0M461.4 327.3h0M409.4 303.6h0M435.3 339.0h0M177.5 243.5h0M466.1 117.3h0M400.3 251.1h0M437.4 342.9h0M433.8 275.0h0M434.8 200.8h0M456.5 220.7h0M454.7 268.8h0M423.0 244.1h0M460.7 187.8h0M453.3 177.7h0M463.6 165.9h0M456.4 213.5h0M418.7 342.6h0M410.9 242.5h0M445.8 241.1h0M451.6 242.9h0M450.8 199.7h0M173.4 245.3h0M469.3 272.3h0M421.5 292.4h0M444.5 261.6h0M428.2 305.5h0M411.2 313.1h0M431.3 216.3h0M438.3 303.0h0M417.7 267.0h0M441.4 231.0h0M455.2 259.7h0M462.3 319.6h0M420.4 288.5h0M434.7 217.8h0M421.3 236.0h0M434.2 253.9h0M461.5 170.1h0M481.9 180.3h0M460.5 214.2h0M381.6 215.3h0M413.2 232.1h0M465.2 173.4h0M461.9 222.3h0M420.0 205.9h0M414.4 209.7h0M417.0 206.0h0M403.7 209.8h0M454.3 204.6h0M411.2 334.1h0M425.2 284.8h0M446.0 235.6h0M429.1 255.8h0M176.2 255.3h0M454.7 297.2h0M382.0 224.9h0M414.4 251.2h0M399.7 192.8h0M388.2 234.4h0M428.5 185.5h0M399.5 238.4h0M413.5 332.6h0M393.5 206.5h0M435.5 302.5h0M449.0 337.4h0M238.8 216.5h0M390.7 225.9h0M411.4 255.2h0M452.0 267.4h0M448.5 253.8h0M370.9 219.9h0M480.6 262.4h0M175.8 238.6h0M247.8 216.4h0M428.7 337.9h0M436.6 334.1h0M409.7 255.7h0M170.0 231.6h0M385.4 240.3h0M446.7 185.8h0M451.5 276.2h0M403.2 239.6h0M450.5 280.0h0M423.1 212.3h0M485.9 207.3h0M454.1 219.6h0M408.1 233.4h0M420.4 261.9h0M406.0 189.2h0M435.0 186.5h0M441.4 242.5h0M396.2 194.4h0M184.7 235.2h0M413.0 180.9h0M407.2 249.2h0M410.5 279.6h0M437.5 175.5h0M487.7 259.0h0M443.2 226.9h0M391.7 232.8h0M451.5 330.0h0M429.1 331.5h0M181.4 248.0h0M405.0 245.0h0M440.6 222.2h0M462.8 167.1h0M438.1 196.3h0M478.7 255.4h0M412.7 339.2h0M398.3 257.8h0M474.4 245.9h0M412.2 298.8h0M413.2 300.3h0M467.1 161.5h0M451.3 297.7h0M450.8 167.5h0M426.0 278.7h0M402.0 221.8h0M441.0 253.3h0M438.6 282.1h0M451.6 324.8h0M429.7 267.6h0M464.0 259.3h0M433.7 194.2h0M420.9 241.5h0M421.4 270.9h0M442.9 289.6h0M414.7 194.2h0M465.5 122.1h0M432.3 238.0h0M389.3 226.6h0M420.7 177.7h0M408.6 324.3h0M188.8 239.9h0M457.9 246.0h0M436.6 318.0h0M410.2 306.6h0M439.6 258.0h0M456.1 216.7h0M417.6 219.1h0M416.8 289.4h0M481.6 207.6h0M430.2 319.8h0M426.6 334.7h0M460.8 164.7h0M409.8 213.5h0M415.5 326.1h0M408.1 245.7h0M395.2 233.4h0M457.7 261.3h0M448.2 308.0h0M462.4 310.9h0M468.3 165.6h0M425.9 343.1h0M432.5 254.0h0M424.6 339.6h0M485.3 195.2h0M439.7 196.1h0M413.3 316.3h0M465.4 119.1h0M456.2 253.4h0M470.1 227.8h0M461.1 195.5h0M189.2 242.3h0M409.0 318.2h0M430.5 310.9h0M393.0 209.9h0M415.9 302.2h0M471.5 166.7h0M441.0 205.6h0M452.1 180.2h0M400.2 208.7h0M182.0 246.5h0" stroke="#D3D3D3" stroke-width="5.0" stroke-linecap="round" fill="none"/>
<path d="M474.7 216.1h0" stroke="#966EEE" stroke-width="4.5" stroke-linecap="round" fill="none"/>
<path d="M408.1 293.4h0" stroke="#8E65F0" stroke-width="5.2" stroke-linecap="round" fill="none"/>
<path d="M428.6 310.3h0" stroke="#9D77EC" stroke-width="3.0" stroke-linecap="round" fill="none"/>
<path d="M430.9 322.0h0" stroke="#A480EA" stroke-width="3.0" stroke-linecap="round" fill="none"/>
<path d="M404.6 272.4h0" stroke="#AA89E7" stroke-width="3.5" stroke-linecap="round" fill="none"/>
<path d="M469.7 227.1h0" stroke="#AA89E7" stroke-width="3.5" stroke-linecap="round" fill="none"/>
<path d="M439.6 342.4h0" stroke="#AA89E7" stroke-width="3.0" stroke-linecap="round" fill="none"/>
<path d="M430.9 211.1h0" stroke="#9D77EC" stroke-width="3.5" stroke-linecap="round" fill="none"/>
<g font-size="30.3">
<text transform="translate(406.20 133.75) scale(1 1.045)">Neur679</text>
<text transform="translate(406.70 180.00) scale(1 1.045)">Neur492</text>
<text transform="translate(387.70 186.00) scale(1 1.045)">Neur501</text>
<text transform="translate(393.70 190.00) scale(1 1.045)">Neur494</text>
<text transform="translate(399.70 193.00) scale(1 1.045)">Neur616</text>
<text transform="translate(407.70 197.00) scale(1 1.045)">Neur519</text>
<text transform="translate(328.70 200.30) scale(1 1.045)">Neur602</text>
<text transform="translate(318.70 208.00) scale(1 1.045)">Neur514</text>
<text transform="translate(321.70 211.00) scale(1 1.045)">Neur604</text>
<text transform="translate(353.70 209.00) scale(1 1.045)">Neur504</text>
<text transform="translate(369.70 205.00) scale(1 1.045)">Neur517</text>
<text transform="translate(401.70 214.00) scale(1 1.045)">Neur606</text>
<text transform="translate(312.20 230.40) scale(1 1.045)">Neur513</text>
<text transform="translate(315.70 233.00) scale(1 1.045)">Neur608</text>
<text transform="translate(366.20 230.60) scale(1 1.045)">Neur512</text>
<text transform="translate(356.20 228.20) scale(1 1.045)">Neur503</text>
<text transform="translate(384.50 244.60) scale(1 1.045)">Neur509</text>
<text transform="translate(346.70 249.30) scale(1 1.045)">Neur516</text>
<text transform="translate(264.90 253.30) scale(1 1.045)">Neur560</text>
<text transform="translate(389.20 269.60) scale(1 1.045)">Neur510</text>
<text transform="translate(370.70 283.00) scale(1 1.045)">Neur511</text>
<text transform="translate(382.70 326.80) scale(1 1.045)">Neur525</text>
<text transform="translate(390.90 343.10) scale(1 1.045)">Neur526</text>
<text transform="translate(365.70 350.90) scale(1 1.045)">Neur524</text>
<text transform="translate(184.50 229.70) scale(1 1.045)">Neur573</text>
<text transform="translate(184.90 231.00) scale(1 1.045)">Neur574</text>
<text transform="translate(181.20 243.80) scale(1 1.045)">Neur576</text>
<text transform="translate(130.70 244.60) scale(1 1.045)">Neur567</text>
<text transform="translate(116.40 260.00) scale(1 1.045)">Neur565</text>
<text transform="translate(107.70 259.60) scale(1 1.045)">Neur563</text>
</g></g>
<path d="M142.6 91.2V368.6H513.0" stroke="#000" stroke-width="2.75" fill="none" stroke-linecap="butt"/>
<path d="M142.6 129.1h-9.5M142.6 188.8h-9.5M142.6 248.4h-9.5M142.6 308.1h-9.5M142.6 367.7h-9.5M159.1 368.6v9.5M283.4 368.6v9.5M407.6 368.6v9.5" stroke="#000" stroke-width="2.5" fill="none"/>
<g font-size="32">
<text transform="translate(125.70 141.10) scale(1 1.045)" text-anchor="end">10</text>
<text transform="translate(125.70 200.75) scale(1 1.045)" text-anchor="end">5</text>
<text transform="translate(125.70 260.40) scale(1 1.045)" text-anchor="end">0</text>
<text transform="translate(125.70 320.05) scale(1 1.045)" text-anchor="end">-5</text>
<text transform="translate(125.70 379.70) scale(1 1.045)" text-anchor="end">-10</text>
<text transform="translate(159.10 409.00) scale(1 1.045)" text-anchor="middle">-20</text>
<text transform="translate(283.35 409.00) scale(1 1.045)" text-anchor="middle">-10</text>
<text transform="translate(407.60 409.00) scale(1 1.045)" text-anchor="middle">0</text>
</g>
<text transform="translate(327.50 450.60) scale(1 1.02)" font-size="37.3" text-anchor="middle">UMAP_1</text>
<text transform="translate(60.30 230.70) rotate(-90) scale(1 1.02)" font-size="37.3" text-anchor="middle">UMAP_2</text>
<rect x="548.6" y="137.7" width="41.1" height="204.2" fill="url(#lg)"/>
<g font-size="32">
<text transform="translate(607.60 354.40) scale(1 1.045)">0.0</text>
<text transform="translate(607.60 296.39) scale(1 1.045)">0.5</text>
<text transform="translate(607.60 238.38) scale(1 1.045)">1.0</text>
<text transform="translate(607.60 180.37) scale(1 1.045)">1.5</text>
</g>
<path d="M548.6 341.9h8.2M589.7 341.9h-8.2M548.6 283.9h8.2M589.7 283.9h-8.2M548.6 225.9h8.2M589.7 225.9h-8.2M548.6 167.9h8.2M589.7 167.9h-8.2" stroke="#fff" stroke-width="1" fill="none"/>
</g>
<g transform="translate(0.0,465.4)">
<text transform="translate(326.70 64.70) scale(0.99 1.045)" font-size="43" text-anchor="middle" font-weight="bold">Tnik</text>
<g clip-path="url(#cp)">
<path d="M411.5 235.6h0M424.0 267.0h0M412.3 229.4h0M421.4 329.2h0M376.7 214.1h0M426.3 214.3h0M404.0 191.8h0M381.9 194.0h0M451.9 273.9h0M420.9 241.5h0" stroke="#BBA5E0" stroke-width="5.0" stroke-linecap="round" fill="none"/>
<path d="M447.4 177.7h0M438.5 256.8h0M466.2 188.7h0M460.9 230.5h0M171.4 227.3h0M434.4 226.7h0M384.2 215.4h0M376.5 205.8h0M460.3 234.9h0M380.0 195.6h0M426.4 221.9h0M439.3 193.1h0M408.5 271.2h0M387.1 215.2h0M445.0 329.3h0M385.1 193.1h0M459.3 175.2h0M438.3 285.9h0M371.8 207.5h0M472.7 174.5h0M476.9 263.9h0M401.8 254.3h0M393.2 200.9h0M436.5 221.3h0M459.7 172.5h0M382.4 219.2h0M434.6 305.3h0M458.9 191.7h0M430.5 202.3h0M435.3 281.4h0M433.7 340.1h0M394.9 219.2h0M391.3 229.4h0M373.9 202.3h0M474.7 260.6h0M423.4 180.8h0M438.1 223.8h0M419.3 315.7h0M401.9 211.6h0M434.4 207.5h0M417.0 269.2h0M420.1 226.8h0M172.3 237.6h0M466.1 146.7h0M421.6 277.7h0M442.8 204.1h0M474.2 233.6h0M447.4 324.3h0M463.5 240.5h0M388.3 219.1h0M426.5 324.8h0M409.0 262.2h0M444.5 341.6h0M432.9 172.2h0M423.7 297.6h0M475.8 270.0h0M453.1 182.3h0M450.7 333.8h0M388.7 229.8h0M426.2 192.9h0M424.6 329.2h0M477.0 210.2h0M409.6 227.0h0M454.5 263.2h0M435.0 186.5h0M391.7 232.8h0M398.3 257.8h0M451.3 297.7h0M438.6 282.1h0" stroke="#A886E8" stroke-width="5.0" stroke-linecap="round" fill="none"/>
<path d="M371.0 210.8h0M455.5 336.5h0M370.3 204.7h0M423.0 310.2h0M461.7 263.9h0M429.5 240.5h0M435.1 264.4h0M397.4 250.6h0M406.1 204.5h0M426.6 235.2h0M466.8 228.2h0M453.8 334.5h0M408.0 313.0h0M385.4 229.6h0M418.9 340.4h0M403.9 253.4h0M460.4 167.7h0M438.9 267.1h0M432.6 314.6h0M455.3 186.0h0M426.5 289.5h0M464.0 247.4h0M402.2 198.6h0M456.7 329.7h0M438.5 287.4h0M444.4 250.2h0M429.2 190.2h0M451.8 172.2h0M433.6 311.7h0M448.5 342.3h0M466.5 318.0h0M448.6 293.3h0M459.1 225.7h0M446.5 247.5h0M442.2 319.3h0M464.8 128.1h0M420.1 194.3h0M428.7 294.5h0M477.0 196.0h0M430.6 209.1h0M466.7 197.1h0M396.1 240.2h0M387.5 217.0h0M431.4 295.6h0M449.6 274.5h0M469.6 208.5h0M474.6 241.5h0M439.4 213.8h0M462.9 325.1h0M437.0 349.1h0M444.3 340.2h0M422.2 295.2h0M428.0 216.2h0M427.9 180.4h0M478.8 184.1h0M412.1 209.8h0M461.6 227.1h0M418.8 222.4h0M429.5 324.2h0M470.2 269.0h0M421.8 339.2h0M425.6 331.3h0M430.6 340.4h0M418.4 199.7h0M479.7 258.7h0M435.1 315.6h0M413.4 253.3h0M409.3 198.2h0M430.7 336.2h0M390.1 194.4h0M458.2 243.1h0M468.9 194.1h0M438.6 246.6h0M420.2 307.7h0M441.4 275.1h0M444.2 287.0h0M433.7 230.3h0M436.7 348.1h0M462.6 308.9h0M459.5 165.5h0M430.0 177.3h0M402.3 195.3h0M441.3 227.7h0M425.4 247.5h0M453.7 328.7h0M411.0 249.2h0M425.9 207.3h0M435.5 174.5h0M425.4 301.0h0M428.3 291.1h0M467.2 264.7h0M421.3 334.8h0M414.0 240.7h0M406.7 236.0h0M465.8 260.5h0M417.0 341.9h0M459.3 248.8h0M469.5 246.0h0M420.0 205.9h0M454.7 297.2h0M428.7 337.9h0M440.6 222.2h0M457.9 246.0h0M409.0 318.2h0M441.0 205.6h0" stroke="#9D77EC" stroke-width="5.0" stroke-linecap="round" fill="none"/>
<path d="M454.7 250.4h0M419.6 269.6h0M466.2 119.8h0M468.1 191.0h0M248.1 233.0h0M177.5 224.0h0M450.7 188.9h0M238.3 230.0h0M244.2 216.5h0M184.8 233.4h0M473.2 247.3h0M387.4 232.4h0M175.2 227.8h0M442.6 299.0h0M182.0 255.2h0M240.6 219.6h0M174.8 232.3h0M171.0 245.3h0M472.4 256.5h0M442.6 224.5h0M215.0 232.0h0M440.4 310.9h0M436.6 245.7h0M405.5 219.6h0M186.3 242.2h0M178.1 247.1h0M465.3 127.6h0M450.4 272.5h0M242.3 216.8h0M247.6 222.2h0M170.0 234.5h0M181.5 250.0h0M243.0 231.9h0M448.6 315.9h0M178.3 253.0h0M170.0 250.4h0M182.1 223.8h0M245.7 232.9h0M444.2 184.9h0M171.4 247.4h0M422.2 227.9h0M463.6 165.9h0M434.7 217.8h0" stroke="#D3D3D3" stroke-width="5.0" stroke-linecap="round" fill="none"/>
<path d="M418.1 261.8h0M442.7 347.1h0M439.6 293.4h0M399.6 199.0h0M421.9 345.1h0M420.5 290.7h0M432.7 303.7h0M445.5 224.6h0M391.7 249.3h0M463.6 161.6h0M478.5 176.9h0M436.6 324.7h0M402.0 192.6h0M444.1 203.6h0M410.8 299.9h0M401.0 245.2h0M473.4 184.9h0M442.0 250.9h0M463.7 193.8h0M435.1 268.3h0M423.2 325.1h0M418.9 263.4h0M424.7 214.5h0M436.7 177.3h0M437.9 227.0h0M380.3 217.6h0M433.8 196.0h0M459.6 241.1h0M446.5 326.9h0M445.6 295.9h0M414.5 225.2h0M439.8 248.7h0M415.0 262.0h0M416.2 321.0h0M446.4 232.0h0M455.5 169.0h0M436.4 266.7h0M449.5 222.3h0M426.4 179.5h0M417.4 276.8h0M480.3 215.1h0M439.3 182.5h0M394.9 250.0h0M456.8 333.7h0M174.4 230.1h0M441.2 192.7h0M423.8 308.8h0M455.9 202.2h0M429.7 333.7h0M439.5 191.7h0M409.4 194.0h0M400.8 187.8h0M424.4 177.2h0M391.4 234.6h0M398.3 200.7h0M470.3 248.5h0M449.0 188.5h0M468.1 219.4h0M446.2 264.2h0M424.9 182.3h0M450.0 238.9h0M395.0 211.9h0M410.5 294.8h0M395.3 243.9h0M429.6 229.1h0M386.5 223.2h0M485.9 207.3h0M432.3 238.0h0M465.4 119.1h0" stroke="#9068EF" stroke-width="5.0" stroke-linecap="round" fill="none"/>
<path d="M435.5 251.8h0M426.0 276.2h0M457.6 309.1h0M423.1 341.8h0M436.2 189.1h0M450.2 217.1h0M409.8 308.6h0M445.5 265.6h0M439.7 289.5h0M405.2 214.0h0M434.7 170.9h0M480.2 211.8h0M421.5 246.6h0M460.6 165.2h0M434.0 320.5h0M459.6 220.2h0M436.8 217.2h0M452.3 218.0h0M426.4 296.2h0M453.4 280.2h0M481.7 195.5h0M435.5 278.0h0M443.0 268.7h0M449.2 248.3h0M413.3 242.5h0M418.6 271.5h0M423.2 253.3h0M438.3 243.4h0M435.0 287.7h0M459.5 324.6h0M426.4 330.2h0M445.6 187.8h0M461.0 231.9h0M465.1 217.9h0M444.4 222.8h0M451.6 242.9h0M444.5 261.6h0M428.5 185.5h0M448.5 253.8h0M446.7 185.8h0M460.8 164.7h0" stroke="#8258F3" stroke-width="5.0" stroke-linecap="round" fill="none"/>
<path d="M405.3 263.6h0M450.7 240.1h0M425.9 237.8h0M416.1 180.0h0M383.4 200.9h0M413.7 217.1h0M397.8 256.3h0" stroke="#C4B4DC" stroke-width="5.0" stroke-linecap="round" fill="none"/>
<path d="M416.5 124.5h0M438.2 230.7h0M398.6 233.2h0M479.8 216.7h0M468.4 243.3h0M369.5 214.2h0M384.4 243.3h0M409.4 224.2h0M181.8 252.9h0M414.2 336.9h0M417.5 293.3h0M423.4 280.4h0M464.1 315.8h0M423.1 332.0h0M411.4 263.2h0M417.3 245.1h0M471.1 235.6h0M417.4 306.1h0M430.6 174.8h0M400.8 205.6h0M456.1 319.3h0M425.7 242.2h0M447.2 205.7h0M421.5 273.8h0M433.8 243.2h0M435.6 235.2h0M472.7 227.6h0M418.9 233.1h0M413.9 294.7h0M466.1 117.3h0M417.7 267.0h0M460.5 214.2h0M411.2 334.1h0M407.2 249.2h0M457.7 261.3h0" stroke="#B296E4" stroke-width="5.0" stroke-linecap="round" fill="none"/>
<path d="M471.0 187.6h0M406.8 256.8h0M440.8 341.6h0M420.5 327.0h0M415.7 230.2h0" stroke="#5E36F9" stroke-width="5.0" stroke-linecap="round" fill="none"/>
<path d="M397.8 248.8h0M471.5 242.2h0M442.8 236.3h0M468.2 176.0h0M487.6 257.1h0M446.2 311.9h0M476.6 259.4h0M456.5 220.7h0M449.0 337.4h0M417.6 219.1h0M432.5 254.0h0" stroke="#7248F6" stroke-width="5.0" stroke-linecap="round" fill="none"/>
<path d="M413.0 211.5h0M449.0 211.1h0M461.0 308.8h0M431.0 245.7h0M479.0 190.4h0M450.2 264.6h0M483.4 199.4h0M440.2 238.5h0M377.2 226.8h0M442.8 209.2h0M412.5 214.0h0M467.4 202.2h0M469.1 266.5h0M460.9 201.8h0M417.3 189.2h0M400.0 256.0h0M446.6 332.4h0M439.9 169.1h0M453.7 209.3h0M448.7 297.4h0M451.9 300.1h0M430.3 304.2h0M393.2 230.9h0M474.5 190.3h0M404.8 227.1h0M416.5 284.2h0M481.4 267.0h0M461.6 306.7h0M463.3 160.5h0M471.1 240.2h0M441.0 182.7h0M454.7 268.8h0M370.9 219.9h0" stroke="#8258F3" stroke-width="5.0" stroke-linecap="round" fill="none"/>
<path d="M446.6 223.3h0" stroke="#5E36F9" stroke-width="5.0" stroke-linecap="round" fill="none"/>
<path d="M419.8 242.5h0M387.6 205.0h0M451.2 214.9h0M409.6 235.1h0M483.2 255.3h0M417.4 202.1h0M378.4 221.5h0M412.2 324.1h0M414.2 226.7h0M440.3 263.1h0M247.0 212.7h0M383.7 237.0h0M418.1 225.9h0M407.9 322.1h0M405.6 229.8h0M419.3 253.9h0M460.0 304.1h0M450.3 209.6h0M419.9 295.9h0M447.2 288.5h0M387.4 193.8h0M407.4 284.1h0M451.4 235.5h0M395.6 190.6h0M417.7 239.5h0M462.3 183.5h0M438.0 204.4h0M436.8 238.4h0M448.7 198.8h0M432.6 204.2h0M434.3 180.0h0M420.5 274.0h0M433.8 188.4h0M402.0 224.4h0M425.2 275.3h0M416.8 280.5h0M484.3 187.3h0M406.9 195.7h0M454.7 261.1h0M376.6 210.9h0M381.2 206.7h0M238.8 216.5h0M451.5 276.2h0M451.6 324.8h0M436.6 318.0h0M409.8 213.5h0" stroke="#B296E4" stroke-width="5.0" stroke-linecap="round" fill="none"/>
<path d="M465.3 111.6h0M436.7 200.6h0M387.4 210.9h0M465.8 182.6h0M436.2 260.8h0M385.5 206.4h0M379.9 232.1h0" stroke="#C4B4DC" stroke-width="5.0" stroke-linecap="round" fill="none"/>
<path d="M463.8 207.2h0M442.7 232.7h0M453.7 162.3h0M435.8 308.7h0M473.0 179.6h0M445.0 209.4h0M463.2 225.8h0M425.8 212.8h0M447.9 257.1h0M431.2 242.4h0M451.6 316.5h0M440.2 270.2h0M415.3 198.6h0M436.1 272.5h0M447.4 340.4h0M470.8 206.4h0M425.2 284.8h0" stroke="#7248F6" stroke-width="5.0" stroke-linecap="round" fill="none"/>
<path d="M447.0 203.3h0M448.9 173.1h0M416.9 253.1h0M433.3 245.4h0M471.5 174.7h0M427.8 327.0h0M444.3 302.6h0M418.6 202.1h0M450.5 319.8h0M451.9 204.2h0M425.0 343.9h0M474.3 203.0h0M430.6 308.4h0M475.7 180.5h0M445.5 281.4h0M442.3 188.1h0M483.5 265.9h0M429.4 252.9h0M455.0 331.0h0M461.8 269.6h0M409.5 217.2h0M418.5 250.7h0M466.8 259.4h0M418.9 330.9h0M447.6 272.0h0M474.2 212.1h0M398.8 212.8h0M454.5 175.7h0M418.9 303.0h0M424.7 271.5h0M396.5 213.8h0M447.6 182.5h0M466.5 248.4h0M469.6 256.2h0M456.8 199.3h0M454.6 241.3h0M420.4 190.2h0M410.3 201.7h0M418.5 181.0h0M479.9 180.4h0M415.6 232.2h0M458.8 270.2h0M450.6 340.4h0M404.0 200.8h0M376.8 224.7h0M447.5 213.8h0M444.1 181.0h0M400.7 247.7h0M463.4 204.2h0M482.8 211.1h0M443.9 331.1h0M404.0 215.3h0M457.2 265.7h0M375.1 222.7h0M475.0 272.0h0M418.7 301.4h0M434.0 177.5h0M448.6 343.9h0M481.6 251.0h0M425.8 310.7h0M408.2 182.4h0M373.7 225.9h0M444.4 316.4h0M406.6 199.2h0M450.0 193.0h0M445.6 342.2h0M406.7 207.6h0M465.1 165.2h0M381.6 215.3h0M454.1 219.6h0M441.4 242.5h0M451.5 330.0h0M462.8 167.1h0M456.2 253.4h0" stroke="#9068EF" stroke-width="5.0" stroke-linecap="round" fill="none"/>
<path d="M188.4 230.0h0M478.9 196.4h0M179.4 256.8h0M408.1 253.8h0M182.7 239.5h0M394.8 240.8h0M241.9 228.3h0M183.2 252.7h0M385.7 196.4h0M181.2 237.5h0M183.5 238.6h0M189.4 237.3h0M464.9 114.9h0M183.9 243.7h0M238.1 232.2h0M466.4 125.5h0M415.4 335.0h0M415.7 286.9h0M183.1 247.6h0M180.5 231.4h0M240.9 225.7h0M471.6 246.8h0M240.9 230.1h0M174.7 248.5h0M410.5 321.9h0M466.3 124.9h0M242.7 234.7h0M179.5 230.4h0M167.7 239.9h0M176.4 234.8h0M246.9 235.8h0M188.3 245.0h0M178.5 224.2h0M464.6 120.5h0M434.9 337.3h0M244.1 213.8h0M189.5 235.5h0M461.4 327.3h0" stroke="#D3D3D3" stroke-width="5.0" stroke-linecap="round" fill="none"/>
<path d="M379.6 239.5h0" stroke="#4322FC" stroke-width="5.0" stroke-linecap="round" fill="none"/>
<path d="M448.0 168.1h0M411.1 193.7h0M468.1 186.3h0M428.2 232.0h0M411.1 223.0h0M431.5 226.9h0M415.8 221.8h0M446.0 309.3h0M437.7 258.9h0M449.6 231.7h0M437.1 306.4h0M381.0 204.2h0M430.6 231.7h0M416.0 213.4h0M382.2 199.3h0M424.3 277.6h0M427.4 250.6h0M483.0 191.9h0M441.3 174.7h0M419.6 196.7h0M444.0 311.5h0M413.8 201.1h0M465.1 269.0h0M454.5 275.3h0M415.9 196.1h0M444.3 195.6h0M463.5 233.3h0M432.5 282.8h0M432.7 323.1h0M465.4 245.1h0M400.9 226.5h0M486.0 190.6h0M415.5 191.0h0M382.6 208.7h0M415.5 315.3h0M420.3 199.1h0M437.2 331.8h0M416.4 228.2h0M441.1 213.6h0M418.5 229.6h0M430.9 213.8h0M431.8 321.8h0M466.8 114.3h0M451.5 264.0h0M442.8 267.1h0M421.9 290.0h0M451.5 230.8h0M372.2 229.6h0M475.1 192.9h0M417.9 256.2h0M402.4 260.6h0M436.3 204.6h0M424.3 313.7h0M410.2 252.6h0M431.4 280.5h0M384.1 222.4h0M466.8 219.5h0M421.2 209.6h0M409.5 290.1h0M376.7 235.7h0M421.5 300.7h0M461.4 253.6h0M468.0 169.5h0M388.3 225.1h0M439.7 211.4h0M423.0 336.2h0M406.7 225.0h0M433.6 191.7h0M484.9 210.9h0M456.4 213.5h0M382.0 224.9h0M399.5 238.4h0M450.8 167.5h0M424.6 339.6h0" stroke="#A886E8" stroke-width="5.0" stroke-linecap="round" fill="none"/>
<path d="M403.9 258.9h0M466.9 256.3h0M469.6 169.6h0M432.4 257.9h0M438.2 198.9h0M413.9 258.0h0M446.4 300.3h0M437.4 280.1h0M441.1 347.1h0M403.7 187.6h0M452.9 326.7h0M442.8 248.9h0M447.8 246.5h0M445.7 273.6h0M392.6 238.4h0M372.3 213.9h0M438.4 264.7h0M432.3 289.5h0M436.7 248.2h0M385.0 189.3h0M424.6 303.5h0M431.8 207.0h0M403.5 234.3h0M427.6 211.1h0M462.7 236.1h0M388.5 199.6h0M393.1 223.0h0M469.4 235.2h0M447.0 219.3h0M449.8 185.3h0M450.9 257.0h0M397.6 245.5h0M423.2 224.1h0M377.2 201.7h0M463.3 266.2h0M477.2 250.7h0M432.0 331.3h0M451.3 178.8h0M463.5 213.5h0M459.8 267.1h0M408.5 238.0h0M414.5 264.6h0M445.6 279.6h0M410.4 327.3h0M394.0 214.0h0M445.8 315.3h0M431.1 249.1h0M395.8 195.8h0M440.5 336.4h0M435.0 289.8h0M458.4 185.6h0M453.3 303.1h0M430.9 350.4h0M445.5 192.9h0M461.0 315.5h0M421.4 189.2h0M458.4 254.4h0M443.8 264.7h0M427.6 316.2h0M411.8 204.1h0M442.0 325.1h0M453.5 229.2h0M448.7 234.4h0M428.6 268.8h0M447.0 190.8h0M450.3 165.8h0M418.9 319.5h0M455.2 222.4h0M464.5 118.9h0M400.3 251.1h0M450.8 199.7h0M428.2 305.5h0M441.4 231.0h0M421.3 236.0h0M414.4 209.7h0M436.6 334.1h0M474.4 245.9h0M421.4 270.9h0M416.8 289.4h0M448.2 308.0h0M430.5 310.9h0M452.1 180.2h0" stroke="#9D77EC" stroke-width="5.0" stroke-linecap="round" fill="none"/>
<path d="M389.5 217.1h0M410.5 279.6h0" stroke="#CCC4D8" stroke-width="5.0" stroke-linecap="round" fill="none"/>
<path d="M414.2 323.4h0M432.3 288.2h0M450.3 284.3h0M415.3 313.7h0M400.5 201.8h0M423.3 244.8h0M430.7 273.6h0M239.8 214.8h0M461.1 258.7h0M384.0 208.7h0M373.6 220.4h0M484.7 268.9h0M450.4 291.9h0M393.9 246.1h0M451.6 305.3h0M323.0 242.0h0M465.8 143.5h0M391.7 210.0h0M414.2 185.0h0M389.3 226.6h0" stroke="#BBA5E0" stroke-width="5.0" stroke-linecap="round" fill="none"/>
<path d="M429.2 271.4h0M469.5 178.9h0M481.6 254.2h0M407.9 290.7h0M445.0 199.1h0M437.4 180.5h0M408.4 185.5h0M434.9 211.4h0M455.2 259.7h0" stroke="#7248F6" stroke-width="5.0" stroke-linecap="round" fill="none"/>
<path d="M453.1 321.9h0M436.9 198.8h0" stroke="#CCC4D8" stroke-width="5.0" stroke-linecap="round" fill="none"/>
<path d="M427.2 183.4h0M478.8 192.7h0M411.1 237.1h0M477.7 267.6h0M444.4 284.9h0M398.8 206.0h0M432.2 182.5h0M454.1 323.8h0M434.7 332.2h0M459.9 251.3h0M420.5 183.7h0M468.2 217.8h0M438.6 173.4h0M444.7 319.2h0M448.9 251.0h0M447.3 202.0h0M471.3 181.5h0M478.6 204.8h0M406.6 258.7h0M415.5 340.2h0M424.9 350.1h0M449.7 180.1h0M429.1 292.0h0M453.3 330.9h0M451.6 284.4h0M445.8 344.0h0M410.3 190.4h0M426.9 345.0h0M403.5 244.9h0M398.4 222.2h0M484.7 259.1h0M436.6 233.1h0M479.6 269.3h0M441.2 246.2h0M432.0 319.3h0M392.9 196.8h0M453.4 248.0h0M442.1 313.0h0M412.6 191.5h0M472.6 263.5h0M445.6 256.4h0M458.8 232.2h0M447.6 265.9h0M423.0 244.1h0M409.7 255.7h0M412.2 298.8h0M426.0 278.7h0M462.4 310.9h0M393.0 209.9h0" stroke="#8258F3" stroke-width="5.0" stroke-linecap="round" fill="none"/>
<path d="M391.5 191.2h0M379.3 219.1h0M380.6 212.6h0M372.7 203.8h0M451.8 207.3h0M465.8 270.9h0" stroke="#C4B4DC" stroke-width="5.0" stroke-linecap="round" fill="none"/>
<path d="M450.7 307.9h0M406.0 292.2h0M484.7 204.6h0M413.0 274.1h0M480.7 182.5h0M459.2 199.8h0M483.0 192.9h0M425.5 191.2h0M434.9 347.9h0M432.5 221.6h0M420.2 210.9h0M471.8 199.2h0M470.0 191.2h0M467.1 181.5h0M415.9 297.6h0M484.7 252.7h0M418.5 238.1h0M411.7 308.2h0M422.4 231.9h0M420.5 297.7h0M384.8 198.2h0M442.1 241.1h0M418.8 328.5h0M455.1 301.0h0M440.5 326.3h0M399.2 252.7h0M420.3 217.5h0M455.7 237.1h0M456.7 193.2h0M451.8 219.1h0M452.3 185.9h0M445.2 214.4h0M431.5 342.0h0M438.0 336.6h0M452.4 253.5h0M449.2 320.6h0M416.7 243.9h0M406.4 193.8h0M450.0 269.6h0M445.7 237.6h0M457.8 300.6h0M446.3 175.2h0M426.2 303.1h0M451.9 165.8h0M429.0 198.9h0M475.0 208.2h0M456.4 178.9h0M453.5 194.0h0M461.0 193.5h0M426.6 339.4h0M445.9 276.6h0M447.3 254.1h0M462.7 197.8h0M394.7 199.1h0M453.8 246.6h0M418.9 284.8h0M439.4 345.9h0M471.9 220.1h0M448.4 229.9h0M391.6 199.2h0M469.7 215.2h0M461.7 242.6h0M388.0 246.7h0M446.0 284.2h0M435.2 172.3h0M399.0 229.1h0M429.2 224.2h0M477.4 207.2h0M409.4 303.6h0M418.7 342.6h0M417.0 206.0h0M446.0 235.6h0M414.4 251.2h0M437.5 175.5h0M442.9 289.6h0M420.7 177.7h0" stroke="#9D77EC" stroke-width="5.0" stroke-linecap="round" fill="none"/>
<path d="M179.3 246.4h0M464.6 131.1h0M453.6 235.4h0M180.3 242.4h0M457.9 229.9h0M379.3 229.8h0M465.3 144.8h0M170.4 240.9h0M168.7 252.4h0M423.2 185.0h0M244.1 219.0h0M413.9 290.5h0M178.9 235.7h0M466.9 237.8h0M225.0 228.0h0M450.6 303.2h0M403.7 184.0h0M459.0 272.4h0M189.6 231.5h0M168.3 235.8h0M185.3 229.7h0M237.3 219.9h0M415.9 245.5h0M465.7 141.7h0M443.2 200.6h0M477.3 189.9h0M176.8 230.0h0M413.1 268.5h0M441.4 219.7h0M183.3 235.8h0M415.9 182.8h0M176.9 251.5h0M435.4 343.4h0M389.7 222.1h0M173.4 245.3h0M434.2 253.9h0" stroke="#D3D3D3" stroke-width="5.0" stroke-linecap="round" fill="none"/>
<path d="M432.9 219.7h0M448.3 240.8h0M442.4 282.2h0M433.4 292.5h0M432.1 209.8h0M399.7 215.5h0M440.0 236.2h0M445.7 170.8h0M465.5 122.8h0M458.2 310.3h0M418.7 194.4h0M168.9 248.2h0M459.2 176.9h0M415.7 203.5h0M168.1 238.3h0M410.2 306.6h0" stroke="#BBA5E0" stroke-width="5.0" stroke-linecap="round" fill="none"/>
<path d="M453.9 317.8h0M459.1 170.6h0M397.7 210.0h0M442.1 287.9h0M411.1 266.9h0M424.0 292.1h0M458.3 227.8h0M429.2 192.6h0M427.5 224.0h0M461.4 218.0h0M420.0 280.3h0M462.5 171.7h0M382.7 191.2h0M440.4 316.2h0M476.1 242.3h0M422.6 347.1h0M466.3 240.2h0M415.2 282.7h0M471.5 172.2h0M450.5 176.0h0M487.6 194.5h0M375.2 217.8h0M461.7 163.3h0M426.5 209.7h0M459.2 263.8h0M457.5 212.7h0M428.0 311.7h0M475.9 214.4h0M426.1 305.3h0M438.5 324.6h0M417.7 235.2h0M468.2 232.3h0M475.7 185.6h0M414.0 310.2h0M445.6 269.3h0M412.2 252.0h0M454.2 224.5h0M482.9 249.4h0M444.1 246.0h0M463.6 306.7h0M477.3 246.5h0M456.0 306.2h0M448.9 281.9h0M446.8 242.9h0M453.0 237.0h0M429.6 203.6h0M452.5 227.6h0M436.2 219.6h0M441.7 338.9h0M445.9 195.7h0M370.2 208.8h0M472.9 225.6h0M436.6 208.6h0M458.9 275.4h0M452.9 222.0h0M406.4 210.1h0M436.5 292.2h0M455.8 233.6h0M396.1 234.3h0M466.4 159.3h0M416.0 336.5h0M452.8 170.4h0M423.0 334.4h0M427.9 292.8h0M478.6 185.6h0M478.7 253.0h0M375.8 199.3h0M472.9 200.6h0M426.4 336.9h0M463.3 189.3h0M433.8 280.6h0M411.2 313.1h0M438.1 196.3h0M429.7 267.6h0M485.3 195.2h0M470.1 227.8h0" stroke="#9068EF" stroke-width="5.0" stroke-linecap="round" fill="none"/>
<path d="M438.3 310.0h0" stroke="#5E36F9" stroke-width="5.0" stroke-linecap="round" fill="none"/>
<path d="M444.2 217.9h0M410.7 316.3h0M420.1 219.7h0M472.0 213.4h0M460.9 260.4h0M461.4 207.0h0M460.8 255.3h0M390.2 244.7h0M431.0 277.7h0M391.7 212.8h0M465.4 161.0h0M466.8 250.0h0M402.1 255.8h0M432.0 276.1h0M464.5 185.2h0M484.1 208.7h0M411.2 218.9h0M479.8 264.7h0M448.8 202.2h0M419.3 186.4h0M396.1 186.7h0M384.4 206.5h0M482.5 201.4h0M438.0 272.5h0M436.1 255.8h0M470.6 200.9h0M433.8 350.0h0M410.4 310.2h0M464.9 159.1h0M473.0 266.9h0M442.2 302.7h0M409.1 218.9h0M468.1 167.9h0M417.6 281.4h0M423.6 287.3h0M187.5 236.9h0M457.1 297.6h0M454.6 296.3h0M412.4 318.8h0M406.8 298.1h0M373.9 211.1h0M470.1 257.9h0M468.4 269.7h0M427.4 319.2h0M479.6 248.5h0M397.5 230.5h0M395.3 205.8h0M443.0 211.0h0M443.6 253.6h0M379.2 210.0h0M460.9 212.7h0M436.1 241.5h0M425.5 264.9h0M457.9 204.2h0M326.0 243.0h0M464.5 164.5h0M423.0 196.5h0M468.8 251.7h0M386.6 200.6h0M417.6 323.9h0M404.5 184.8h0M474.6 225.7h0M446.7 226.9h0M404.0 219.7h0M419.2 322.0h0M444.0 190.9h0M437.4 342.9h0M413.2 232.1h0M480.6 262.4h0M408.1 233.4h0M429.1 331.5h0M481.6 207.6h0M415.5 326.1h0M400.2 208.7h0" stroke="#A886E8" stroke-width="5.0" stroke-linecap="round" fill="none"/>
<path d="M381.2 202.0h0M450.3 286.7h0M387.3 191.5h0M444.1 335.4h0M441.0 344.5h0M415.9 237.6h0M427.3 204.6h0M463.7 251.8h0M369.0 222.8h0M449.1 207.1h0M392.6 216.0h0M427.8 314.0h0M432.3 199.4h0M389.1 247.4h0M396.0 237.1h0M469.7 195.9h0M402.3 229.4h0M429.4 182.8h0M447.0 335.0h0M447.2 258.2h0M451.8 195.4h0M413.0 183.3h0M474.6 255.6h0M470.8 263.6h0M397.5 204.2h0M466.4 203.4h0M433.8 260.5h0M378.3 224.4h0M429.4 220.1h0M375.0 230.5h0M374.2 196.8h0M427.1 220.0h0M385.6 242.5h0M415.6 318.4h0M473.9 253.7h0M399.4 241.3h0M421.7 284.0h0M430.6 284.3h0M401.2 259.1h0M463.7 222.0h0M464.9 237.4h0M458.2 223.2h0M456.9 224.6h0M441.8 309.3h0M383.4 212.7h0M467.9 254.1h0M413.5 332.6h0M390.7 225.9h0M403.2 239.6h0M396.2 194.4h0" stroke="#B296E4" stroke-width="5.0" stroke-linecap="round" fill="none"/>
<path d="M424.1 251.2h0M395.2 226.9h0M425.2 270.1h0M462.5 245.6h0M451.4 314.5h0M432.8 298.2h0M373.6 206.7h0M382.6 217.8h0M404.3 222.4h0M431.8 196.7h0M389.7 244.2h0M418.9 345.1h0M457.4 312.6h0M408.0 298.5h0M418.7 203.8h0M468.1 230.5h0M432.3 347.0h0M415.8 274.7h0M465.4 139.6h0M447.3 208.6h0M458.0 172.8h0M422.9 326.6h0M405.7 267.5h0M453.3 266.8h0M431.5 301.2h0M417.4 334.8h0M370.7 217.5h0M435.5 314.6h0M399.2 219.8h0M423.3 260.9h0M412.0 225.0h0M432.1 271.7h0M402.7 203.9h0M447.7 319.3h0M428.9 280.4h0M420.7 324.9h0M376.8 218.7h0M470.4 185.0h0M456.3 251.6h0M427.4 240.0h0M447.3 224.4h0M444.8 219.8h0M391.7 240.3h0M438.5 298.8h0M408.5 264.1h0M431.3 216.3h0M399.7 192.8h0M420.4 261.9h0" stroke="#B296E4" stroke-width="5.0" stroke-linecap="round" fill="none"/>
<path d="M460.5 186.0h0M476.0 216.9h0M471.8 230.1h0M455.2 191.5h0M464.5 254.3h0M445.0 312.8h0M427.5 249.4h0M439.1 339.1h0M477.7 173.6h0M460.7 238.8h0M420.2 213.4h0M383.6 226.7h0M465.9 225.1h0M441.2 271.3h0M462.1 177.7h0M389.1 233.5h0M453.3 174.3h0M451.6 337.7h0M447.0 329.8h0M410.5 336.3h0M451.9 190.0h0M424.9 194.5h0M427.0 199.8h0M445.5 289.3h0M485.0 262.0h0M390.2 201.1h0M442.7 169.8h0M474.7 235.5h0M415.4 178.8h0M448.9 190.1h0M447.2 181.1h0M420.5 311.1h0M473.6 257.9h0M449.0 260.4h0M443.6 325.9h0M417.3 212.7h0M397.9 227.0h0M414.5 278.1h0M423.0 320.8h0M427.9 256.3h0M481.7 192.8h0M413.2 327.1h0M474.1 268.9h0M465.9 163.0h0M410.6 331.7h0" stroke="#8258F3" stroke-width="5.0" stroke-linecap="round" fill="none"/>
<path d="M375.7 209.6h0M371.5 228.1h0M429.2 223.0h0M453.4 233.0h0M385.1 220.5h0M413.2 197.0h0M406.9 327.3h0M466.1 133.0h0M457.3 255.2h0M442.1 199.2h0M418.6 214.1h0M439.2 262.0h0M428.9 264.5h0M446.3 216.9h0M449.6 170.3h0M382.0 235.3h0M428.8 200.4h0" stroke="#BBA5E0" stroke-width="5.0" stroke-linecap="round" fill="none"/>
<path d="M470.3 252.6h0M185.0 226.4h0M466.8 178.7h0M244.3 230.8h0M464.8 117.3h0M239.6 222.6h0M464.2 263.4h0M420.5 129.0h0M178.2 232.2h0M176.1 241.2h0M172.8 240.7h0M466.9 123.2h0M177.3 226.9h0M413.5 222.1h0M406.8 227.9h0M246.1 224.3h0M175.7 252.5h0M466.6 111.3h0M464.7 142.8h0M479.6 206.2h0M424.0 318.0h0M205.0 236.0h0M186.4 248.8h0M178.2 236.8h0M246.6 230.0h0M177.1 246.3h0M466.7 211.7h0M412.7 205.6h0M244.1 225.9h0M171.0 232.9h0M172.8 242.9h0M174.1 251.3h0M407.5 305.8h0M464.3 110.8h0M186.4 226.4h0M246.1 215.3h0M434.3 223.1h0M170.5 230.0h0M469.6 217.1h0M438.5 296.2h0M386.3 237.0h0M179.8 249.9h0M175.8 238.6h0M170.0 231.6h0M184.7 235.2h0M181.4 248.0h0M439.7 196.1h0M461.1 195.5h0M182.0 246.5h0" stroke="#D3D3D3" stroke-width="5.0" stroke-linecap="round" fill="none"/>
<path d="M372.8 210.0h0" stroke="#CCC4D8" stroke-width="5.0" stroke-linecap="round" fill="none"/>
<path d="M474.0 169.4h0M414.0 187.7h0M422.3 306.0h0M462.0 271.8h0M465.0 234.6h0M374.0 226.8h0M446.5 211.1h0M412.1 245.1h0M429.1 274.4h0M465.3 212.6h0M168.6 243.1h0M429.3 238.2h0M487.8 263.5h0M485.6 202.1h0M412.2 276.1h0M464.6 201.9h0M420.4 259.8h0M407.1 201.3h0M433.1 213.7h0M457.9 181.0h0M421.2 255.9h0M453.9 187.6h0M391.0 219.5h0M410.0 282.6h0M412.2 282.6h0M411.3 196.2h0M372.0 222.2h0M448.7 314.0h0M431.2 306.6h0M438.9 251.4h0M448.8 310.2h0M461.9 322.3h0M406.6 295.1h0M418.9 308.5h0M465.1 310.5h0M474.3 250.4h0M404.7 232.6h0M437.4 275.5h0M439.8 306.2h0M450.4 257.8h0M424.7 202.1h0M440.0 239.5h0M408.9 240.7h0M436.3 345.0h0M451.6 290.3h0M438.1 191.4h0M404.3 237.2h0M409.8 267.0h0M406.8 242.6h0M417.1 185.1h0M423.4 202.0h0M467.2 206.9h0M472.7 236.9h0M405.0 182.7h0M381.4 189.3h0M473.7 243.6h0M438.6 317.9h0M399.6 225.3h0M427.7 348.3h0M404.4 211.1h0M419.5 305.4h0M435.1 300.2h0M423.0 268.8h0M433.8 275.0h0M462.3 319.6h0M461.5 170.1h0M464.0 259.3h0M414.7 194.2h0M408.6 324.3h0" stroke="#9068EF" stroke-width="5.0" stroke-linecap="round" fill="none"/>
<path d="M481.3 203.7h0M470.7 223.0h0M464.0 208.9h0M458.2 206.7h0M416.1 295.3h0M389.4 238.7h0M428.4 299.7h0M481.9 255.6h0M418.9 314.0h0M453.2 310.2h0M460.7 187.8h0" stroke="#7248F6" stroke-width="5.0" stroke-linecap="round" fill="none"/>
<path d="M391.0 203.9h0M422.5 247.8h0M482.5 184.7h0M425.4 326.0h0M442.5 305.1h0M465.3 162.5h0M459.1 202.1h0M420.1 302.3h0M455.0 195.8h0M432.5 240.7h0M441.1 292.9h0M473.3 207.2h0M380.0 190.2h0M369.2 212.8h0M436.8 298.5h0M409.7 232.2h0M448.8 305.2h0M415.1 255.9h0M425.3 253.7h0M469.1 240.3h0M453.7 172.4h0M432.0 212.7h0M468.5 223.9h0M460.3 182.2h0M412.3 286.9h0M438.2 269.4h0M425.0 347.6h0M433.7 248.3h0M455.0 314.0h0M475.7 238.5h0M405.0 251.5h0M400.8 233.0h0M461.0 162.5h0M464.8 169.1h0M459.1 313.4h0M474.5 196.8h0M375.9 194.3h0M411.4 271.0h0M372.2 199.0h0M474.5 217.9h0M441.3 284.1h0M461.0 179.6h0M447.3 276.0h0M422.4 263.5h0M391.6 189.2h0M421.5 216.2h0M428.2 174.9h0M472.9 177.5h0M425.2 228.4h0M461.9 190.4h0M439.1 335.1h0M441.0 173.2h0M420.1 281.3h0M441.0 216.3h0M464.3 176.2h0M447.1 320.9h0M472.7 250.2h0M411.3 186.0h0M466.7 214.1h0M433.7 328.7h0M458.0 321.4h0M455.5 205.7h0M429.0 258.8h0M458.7 326.1h0M423.0 239.8h0M417.5 301.0h0M387.8 209.4h0M428.0 349.4h0M401.0 217.7h0M462.5 274.3h0M416.9 310.1h0M486.8 198.2h0M469.3 272.3h0M465.2 173.4h0M393.5 206.5h0M411.4 255.2h0M450.5 280.0h0M478.7 255.4h0M413.2 300.3h0M402.0 221.8h0M408.1 245.7h0M415.9 302.2h0" stroke="#9D77EC" stroke-width="5.0" stroke-linecap="round" fill="none"/>
<path d="M472.6 203.1h0M407.4 269.9h0M419.0 287.4h0" stroke="#5E36F9" stroke-width="5.0" stroke-linecap="round" fill="none"/>
<path d="M416.9 216.2h0M441.2 335.0h0M425.1 232.6h0" stroke="#C4B4DC" stroke-width="5.0" stroke-linecap="round" fill="none"/>
<path d="M443.0 174.7h0M377.0 203.1h0M415.9 249.0h0M451.1 251.0h0M444.1 323.8h0M431.0 282.7h0M456.8 183.2h0M451.7 281.3h0M403.5 216.2h0M406.0 288.4h0M377.0 197.1h0M420.7 314.5h0M460.3 329.1h0M397.5 187.6h0M429.1 243.9h0M468.5 261.9h0M443.2 279.3h0M379.7 237.9h0M427.8 196.9h0M403.5 207.0h0M455.3 315.8h0M448.7 332.6h0M407.3 221.9h0M416.0 264.7h0M429.0 287.2h0M438.4 178.4h0M435.5 233.2h0M395.1 253.0h0M378.3 214.4h0M430.0 261.0h0M453.1 256.0h0M414.1 237.0h0M437.7 326.0h0M427.7 341.5h0M388.6 196.8h0M430.3 251.1h0M413.3 279.9h0M463.2 255.5h0M426.2 282.3h0M415.4 272.8h0M435.0 229.5h0M397.9 184.9h0M458.0 235.3h0M374.1 231.9h0M457.6 323.2h0M429.5 329.8h0M424.6 198.5h0M426.0 261.2h0M425.5 217.0h0M397.6 243.1h0M435.4 238.7h0M457.5 187.4h0M414.6 219.4h0M437.7 212.4h0M391.7 228.2h0M407.3 301.3h0M391.4 213.8h0M424.9 185.5h0M371.4 201.5h0M435.3 339.0h0M410.9 242.5h0M403.7 209.8h0M429.1 255.8h0M487.7 259.0h0M439.6 258.0h0M430.2 319.8h0M468.3 165.6h0" stroke="#A886E8" stroke-width="5.0" stroke-linecap="round" fill="none"/>
<path d="M421.9 351.0h0M474.5 222.2h0M444.3 301.6h0M244.7 227.3h0M435.3 215.0h0M458.5 317.1h0M379.9 198.6h0M461.7 174.2h0M421.4 250.7h0M424.9 322.0h0M436.3 194.2h0M412.0 187.9h0M409.7 251.0h0M418.7 298.6h0M441.5 232.8h0M413.2 305.8h0M411.8 240.2h0M461.5 300.9h0M411.3 291.9h0M449.9 242.8h0M396.5 216.4h0M381.8 230.4h0M445.5 229.2h0M441.6 178.8h0M466.9 164.4h0M409.5 328.7h0M381.5 227.0h0M393.1 188.0h0M395.2 200.9h0M465.1 136.5h0M430.5 345.9h0M465.0 193.4h0M437.1 252.7h0M469.8 233.0h0M410.8 269.8h0M389.7 207.5h0M379.9 236.2h0M399.7 204.7h0M443.8 294.9h0M443.0 259.6h0M455.5 321.2h0M438.1 312.6h0M443.1 243.7h0M411.0 262.3h0M426.2 315.7h0M423.7 281.5h0M385.4 204.9h0M454.9 249.3h0M431.9 326.1h0M409.9 210.8h0M427.6 245.2h0M432.4 234.4h0M423.0 315.7h0M379.4 194.3h0M469.7 212.7h0M443.9 238.6h0M463.1 163.1h0M402.4 186.7h0M437.2 320.4h0M464.5 125.6h0M454.8 311.0h0M405.3 240.2h0M481.9 198.8h0M370.8 225.3h0M441.4 179.8h0M423.4 258.8h0M425.3 175.3h0M389.3 190.4h0M398.3 195.9h0M445.8 241.1h0M385.4 240.3h0M425.9 343.1h0M471.5 166.7h0" stroke="#A886E8" stroke-width="5.0" stroke-linecap="round" fill="none"/>
<path d="M441.0 184.7h0M431.1 190.5h0M454.8 309.0h0M412.9 321.3h0M464.4 157.3h0M483.9 250.1h0M469.4 203.9h0M405.5 262.2h0M461.0 247.7h0M453.4 199.1h0M407.9 279.9h0M429.7 313.8h0M423.7 229.0h0M420.9 230.5h0M452.9 210.8h0M386.6 227.2h0M447.1 302.5h0M438.4 328.7h0M418.9 208.6h0M431.8 268.7h0M450.1 295.2h0M468.0 198.6h0M394.5 249.2h0M477.4 260.8h0M437.8 290.7h0M458.8 257.8h0M468.5 173.6h0M431.3 315.9h0M463.9 261.2h0M420.9 318.1h0M438.2 189.4h0M474.7 182.9h0M425.2 195.8h0M397.3 198.7h0M442.4 260.5h0M468.6 184.1h0M445.7 171.9h0M460.8 319.1h0M434.8 325.9h0M459.3 208.2h0M427.9 228.4h0M421.9 237.5h0M443.9 322.4h0M453.3 177.7h0M461.9 222.3h0" stroke="#8258F3" stroke-width="5.0" stroke-linecap="round" fill="none"/>
<path d="M244.2 223.2h0M425.1 258.5h0M414.9 267.6h0M465.4 136.0h0M402.6 252.0h0M466.1 113.4h0M423.3 188.9h0M439.6 332.2h0M182.7 229.1h0M409.7 334.4h0M415.0 235.1h0M396.6 219.9h0M432.0 309.0h0M414.5 247.4h0M421.3 266.4h0" stroke="#BBA5E0" stroke-width="5.0" stroke-linecap="round" fill="none"/>
<path d="M393.3 192.5h0M418.5 126.7h0M464.0 313.2h0M427.9 266.6h0M389.7 211.6h0M247.8 216.4h0" stroke="#C4B4DC" stroke-width="5.0" stroke-linecap="round" fill="none"/>
<path d="M422.7 221.4h0M415.5 332.8h0M474.7 198.3h0M377.9 233.0h0M454.4 168.5h0M457.6 294.9h0M486.0 188.0h0M437.9 316.9h0M441.6 256.6h0M480.2 187.7h0M424.8 234.6h0M456.8 209.2h0M464.6 163.6h0M456.2 292.1h0M427.7 230.7h0M426.2 188.4h0M387.9 239.8h0M402.3 242.7h0M392.2 243.7h0M451.6 295.1h0M466.7 131.3h0M426.7 287.9h0M478.8 213.9h0M458.5 195.4h0M433.0 225.5h0M410.4 285.3h0M475.2 188.2h0M449.9 301.5h0M441.1 300.0h0M456.1 179.6h0M437.9 170.5h0M465.2 209.5h0M471.7 194.0h0M455.0 228.0h0M448.7 326.2h0M411.8 198.7h0M409.6 207.4h0M455.3 164.8h0M471.2 238.1h0M474.3 178.8h0M379.3 204.3h0M436.9 301.1h0M464.4 242.1h0M459.4 306.7h0M434.5 259.6h0M411.1 330.2h0M450.2 225.7h0M472.2 271.6h0M463.5 180.6h0M458.0 216.7h0M445.0 177.2h0M399.9 234.7h0M476.4 211.5h0M462.3 218.7h0M429.0 205.7h0M465.5 196.6h0M465.1 166.7h0M408.4 203.8h0M454.5 243.4h0M459.4 245.2h0M450.3 226.7h0M427.6 178.4h0M396.8 225.5h0M423.9 208.6h0M460.2 204.2h0M465.5 308.6h0M452.3 269.9h0M436.5 185.8h0M456.7 168.1h0M487.0 261.4h0M457.6 271.9h0M474.2 219.1h0M398.8 190.8h0M445.3 271.5h0M454.3 292.9h0M451.2 261.8h0M394.8 203.0h0M415.9 309.1h0M484.5 264.7h0M475.0 172.0h0M452.7 259.8h0M477.1 254.1h0M395.7 222.0h0M445.7 167.3h0M445.6 306.4h0M438.3 303.0h0M388.2 234.4h0M435.5 302.5h0M405.0 245.0h0M467.1 161.5h0M441.0 253.3h0" stroke="#9D77EC" stroke-width="5.0" stroke-linecap="round" fill="none"/>
<path d="M479.4 200.6h0M481.8 209.2h0M464.3 226.6h0M440.0 279.3h0M433.3 344.9h0M439.2 210.0h0" stroke="#5E36F9" stroke-width="5.0" stroke-linecap="round" fill="none"/>
<path d="M407.9 216.4h0" stroke="#CCC4D8" stroke-width="5.0" stroke-linecap="round" fill="none"/>
<path d="M405.3 195.2h0M417.2 258.0h0M466.1 312.6h0M383.9 196.1h0M442.9 277.4h0M431.3 264.6h0M408.1 291.8h0M467.3 222.4h0M439.7 295.3h0M397.8 216.2h0M411.5 303.9h0M458.0 331.0h0M444.4 293.2h0M445.5 298.5h0M424.7 219.9h0M408.7 208.3h0M432.4 251.2h0M436.2 225.5h0M466.3 230.0h0M481.5 258.8h0M471.6 183.2h0M430.1 235.0h0M442.5 206.9h0M452.7 202.0h0M408.4 187.8h0M408.5 212.8h0M408.0 229.7h0M457.9 240.9h0M443.4 336.6h0M454.7 214.6h0M377.1 217.5h0M472.4 260.7h0M412.6 284.1h0M421.2 224.7h0M419.9 247.4h0M411.5 180.7h0M475.6 267.0h0M453.4 272.6h0M404.9 247.5h0M456.2 161.2h0M418.8 183.0h0M465.5 198.5h0M443.0 329.0h0M384.3 224.2h0M477.4 199.3h0M411.0 274.7h0M486.8 252.0h0M432.1 267.3h0M449.3 289.9h0M468.6 187.3h0M400.7 238.6h0M430.3 188.0h0M237.6 224.2h0M420.2 336.1h0M436.4 329.0h0M433.1 256.0h0M446.7 336.7h0M419.9 348.3h0M434.8 200.8h0M421.5 292.4h0M452.0 267.4h0M406.0 189.2h0M395.2 233.4h0" stroke="#9068EF" stroke-width="5.0" stroke-linecap="round" fill="none"/>
<path d="M435.0 285.0h0M461.7 162.8h0M466.1 142.3h0M404.0 242.1h0M476.5 200.4h0M439.9 202.0h0M438.4 277.4h0M381.3 221.2h0M428.8 321.8h0M394.3 223.9h0M426.0 309.0h0M426.7 297.1h0M406.5 191.0h0M455.7 327.2h0M426.0 272.1h0M463.5 230.8h0M415.1 329.5h0M383.5 232.6h0M481.7 264.4h0M441.5 321.5h0M443.5 275.1h0M476.9 248.7h0M437.0 207.6h0M384.3 234.9h0M445.4 182.4h0M409.0 288.5h0M421.6 207.2h0M185.6 245.9h0M424.6 255.6h0M434.0 294.4h0M421.9 191.2h0M472.2 208.9h0M421.0 203.5h0M465.5 138.4h0M464.8 134.6h0M429.4 298.8h0M420.4 288.5h0M454.3 204.6h0M423.1 212.3h0M443.2 226.9h0" stroke="#B296E4" stroke-width="5.0" stroke-linecap="round" fill="none"/>
<path d="M388.9 187.6h0M450.1 245.9h0M476.5 175.7h0M186.6 232.4h0M465.5 147.9h0M185.0 250.8h0M173.0 252.8h0M429.4 285.0h0M180.4 239.9h0M424.0 205.0h0M465.7 129.6h0M466.1 115.7h0M239.6 236.4h0M238.3 228.4h0M248.0 228.2h0M174.5 243.1h0M456.0 211.2h0M241.2 221.9h0M173.9 235.7h0M185.3 240.5h0M190.5 239.5h0M464.6 190.8h0M438.6 219.1h0M393.9 236.3h0M246.1 220.7h0M439.1 308.9h0M415.3 293.1h0M181.7 227.9h0M402.4 191.4h0M456.9 304.2h0M177.5 243.5h0M176.2 255.3h0M413.0 180.9h0M412.7 339.2h0M465.5 122.1h0M188.8 239.9h0M426.6 334.7h0M413.3 316.3h0M189.2 242.3h0" stroke="#D3D3D3" stroke-width="5.0" stroke-linecap="round" fill="none"/>
<path d="M458.6 238.5h0M432.5 181.4h0M466.6 266.2h0M465.4 163.5h0M411.0 258.6h0M451.6 183.2h0M435.5 183.3h0M447.6 193.4h0M433.4 334.0h0M449.9 196.9h0M478.0 189.2h0M430.7 185.2h0M481.9 180.3h0M433.7 194.2h0M456.1 216.7h0" stroke="#7248F6" stroke-width="5.0" stroke-linecap="round" fill="none"/>
<path d="M238.7 236.5h0" stroke="#9D77EC" stroke-width="5.0" stroke-linecap="round" fill="none"/>
<path d="M325.3 241.8h0" stroke="#966EEE" stroke-width="5.0" stroke-linecap="round" fill="none"/>
<path d="M182.4 249.9h0" stroke="#AA89E7" stroke-width="5.0" stroke-linecap="round" fill="none"/>
<path d="M176.0 238.0h0" stroke="#B093E5" stroke-width="5.0" stroke-linecap="round" fill="none"/>
<path d="M170.0 246.0h0" stroke="#B69CE3" stroke-width="5.0" stroke-linecap="round" fill="none"/>
<g font-size="30.3">
<text transform="translate(406.20 133.75) scale(1 1.045)">Neur679</text>
<text transform="translate(406.70 180.00) scale(1 1.045)">Neur492</text>
<text transform="translate(387.70 186.00) scale(1 1.045)">Neur501</text>
<text transform="translate(393.70 190.00) scale(1 1.045)">Neur494</text>
<text transform="translate(399.70 193.00) scale(1 1.045)">Neur616</text>
<text transform="translate(407.70 197.00) scale(1 1.045)">Neur519</text>
<text transform="translate(328.70 200.30) scale(1 1.045)">Neur602</text>
<text transform="translate(318.70 208.00) scale(1 1.045)">Neur514</text>
<text transform="translate(321.70 211.00) scale(1 1.045)">Neur604</text>
<text transform="translate(353.70 209.00) scale(1 1.045)">Neur504</text>
<text transform="translate(369.70 205.00) scale(1 1.045)">Neur517</text>
<text transform="translate(401.70 214.00) scale(1 1.045)">Neur606</text>
<text transform="translate(312.20 230.40) scale(1 1.045)">Neur513</text>
<text transform="translate(315.70 233.00) scale(1 1.045)">Neur608</text>
<text transform="translate(366.20 230.60) scale(1 1.045)">Neur512</text>
<text transform="translate(356.20 228.20) scale(1 1.045)">Neur503</text>
<text transform="translate(384.50 244.60) scale(1 1.045)">Neur509</text>
<text transform="translate(346.70 249.30) scale(1 1.045)">Neur516</text>
<text transform="translate(264.90 253.30) scale(1 1.045)">Neur560</text>
<text transform="translate(389.20 269.60) scale(1 1.045)">Neur510</text>
<text transform="translate(370.70 283.00) scale(1 1.045)">Neur511</text>
<text transform="translate(382.70 326.80) scale(1 1.045)">Neur525</text>
<text transform="translate(390.90 343.10) scale(1 1.045)">Neur526</text>
<text transform="translate(365.70 350.90) scale(1 1.045)">Neur524</text>
<text transform="translate(184.50 229.70) scale(1 1.045)">Neur573</text>
<text transform="translate(184.90 231.00) scale(1 1.045)">Neur574</text>
<text transform="translate(181.20 243.80) scale(1 1.045)">Neur576</text>
<text transform="translate(130.70 244.60) scale(1 1.045)">Neur567</text>
<text transform="translate(116.40 260.00) scale(1 1.045)">Neur565</text>
<text transform="translate(107.70 259.60) scale(1 1.045)">Neur563</text>
</g></g>
<path d="M142.6 91.2V368.6H513.0" stroke="#000" stroke-width="2.75" fill="none" stroke-linecap="butt"/>
<path d="M142.6 129.1h-9.5M142.6 188.8h-9.5M142.6 248.4h-9.5M142.6 308.1h-9.5M142.6 367.7h-9.5M159.1 368.6v9.5M283.4 368.6v9.5M407.6 368.6v9.5" stroke="#000" stroke-width="2.5" fill="none"/>
<g font-size="32">
<text transform="translate(125.70 141.10) scale(1 1.045)" text-anchor="end">10</text>
<text transform="translate(125.70 200.75) scale(1 1.045)" text-anchor="end">5</text>
<text transform="translate(125.70 260.40) scale(1 1.045)" text-anchor="end">0</text>
<text transform="translate(125.70 320.05) scale(1 1.045)" text-anchor="end">-5</text>
<text transform="translate(125.70 379.70) scale(1 1.045)" text-anchor="end">-10</text>
<text transform="translate(159.10 409.00) scale(1 1.045)" text-anchor="middle">-20</text>
<text transform="translate(283.35 409.00) scale(1 1.045)" text-anchor="middle">-10</text>
<text transform="translate(407.60 409.00) scale(1 1.045)" text-anchor="middle">0</text>
</g>
<text transform="translate(327.50 450.60) scale(1 1.02)" font-size="37.3" text-anchor="middle">UMAP_1</text>
<text transform="translate(60.30 230.70) rotate(-90) scale(1 1.02)" font-size="37.3" text-anchor="middle">UMAP_2</text>
<rect x="548.6" y="137.7" width="41.1" height="204.2" fill="url(#lg)"/>
<g font-size="32">
<text transform="translate(607.60 354.40) scale(1 1.045)">0</text>
<text transform="translate(607.60 304.35) scale(1 1.045)">1</text>
<text transform="translate(607.60 254.30) scale(1 1.045)">2</text>
<text transform="translate(607.60 204.25) scale(1 1.045)">3</text>
<text transform="translate(607.60 154.20) scale(1 1.045)">4</text>
</g>
<path d="M548.6 341.9h8.2M589.7 341.9h-8.2M548.6 291.9h8.2M589.7 291.9h-8.2M548.6 241.8h8.2M589.7 241.8h-8.2M548.6 191.8h8.2M589.7 191.8h-8.2M548.6 141.7h8.2M589.7 141.7h-8.2" stroke="#fff" stroke-width="1" fill="none"/>
</g>
<g transform="translate(657.5,465.4)">
<text transform="translate(326.70 64.70) scale(0.99 1.045)" font-size="43" text-anchor="middle" font-weight="bold">Sertad3</text>
<g clip-path="url(#cp)">
<path d="M416.5 124.5h0M419.8 242.5h0M381.2 202.0h0M470.3 252.6h0M422.7 221.4h0M371.0 210.8h0M403.9 258.9h0M444.2 217.9h0M424.1 251.2h0M435.0 285.0h0M455.5 336.5h0M466.9 256.3h0M450.7 307.9h0M391.0 203.9h0M421.9 351.0h0M405.3 263.6h0M414.2 323.4h0M427.2 183.4h0M185.0 226.4h0M415.5 332.8h0M370.3 204.7h0M188.4 230.0h0M410.7 316.3h0M443.0 174.7h0M474.5 222.2h0M418.1 261.8h0M387.6 205.0h0M391.5 191.2h0M377.0 203.1h0M444.3 301.6h0M435.5 251.8h0M448.0 168.1h0M478.8 192.7h0M395.2 226.9h0M458.6 238.5h0M450.7 240.1h0M411.1 193.7h0M406.0 292.2h0M474.0 169.4h0M474.7 198.3h0M454.7 250.4h0M468.1 186.3h0M411.1 237.1h0M460.5 186.0h0M244.7 227.3h0M419.6 269.6h0M469.6 169.6h0M420.1 219.7h0M466.8 178.7h0M435.3 215.0h0M397.8 248.8h0M428.2 232.0h0M450.3 286.7h0M422.5 247.8h0M461.7 162.8h0M411.5 235.6h0M411.1 223.0h0M387.3 191.5h0M375.7 209.6h0M388.9 187.6h0M423.0 310.2h0M463.8 207.2h0M453.9 317.8h0M415.9 249.0h0M458.5 317.1h0M447.4 177.7h0M478.9 196.4h0M432.9 219.7h0M476.0 216.9h0M379.9 198.6h0M461.7 263.9h0M447.0 203.3h0M472.0 213.4h0M451.1 251.0h0M441.0 184.7h0M429.5 240.5h0M448.9 173.1h0M429.2 271.4h0M425.2 270.1h0M377.9 233.0h0M438.5 256.8h0M442.7 232.7h0M459.1 170.6h0M244.3 230.8h0M405.3 195.2h0M435.1 264.4h0M416.9 253.1h0M397.7 210.0h0M462.5 245.6h0M417.2 258.0h0M466.2 119.8h0M451.2 214.9h0M484.7 204.6h0M481.3 203.7h0M461.7 174.2h0M397.4 250.6h0M432.4 257.9h0M413.0 274.1h0M471.8 230.1h0M454.4 168.5h0M442.7 347.1h0M453.7 162.3h0M460.9 260.4h0M482.5 184.7h0M431.1 190.5h0M439.6 293.4h0M435.8 308.7h0M179.3 246.4h0M414.0 187.7h0M454.8 309.0h0M468.1 191.0h0M409.6 235.1h0M480.7 182.5h0M470.7 223.0h0M412.9 321.3h0M248.1 233.0h0M431.5 226.9h0M448.3 240.8h0M425.4 326.0h0M466.1 142.3h0M177.5 224.0h0M433.3 245.4h0M442.4 282.2h0M464.0 208.9h0M466.1 312.6h0M450.7 188.9h0M438.2 198.9h0M477.7 267.6h0M442.5 305.1h0M457.6 294.9h0M406.1 204.5h0M471.5 174.7h0M444.4 284.9h0M422.3 306.0h0M404.0 242.1h0M426.0 276.2h0M413.9 258.0h0M442.1 287.9h0M465.3 162.5h0M244.2 223.2h0M466.2 188.7h0M446.4 300.3h0M461.4 207.0h0M464.8 117.3h0M421.4 250.7h0M399.6 199.0h0M179.4 256.8h0M460.8 255.3h0M462.0 271.8h0M464.4 157.3h0M421.9 345.1h0M427.8 327.0h0M459.2 199.8h0M459.1 202.1h0M383.9 196.1h0M438.2 230.7h0M432.3 288.2h0M483.0 192.9h0M451.4 314.5h0M483.9 250.1h0M426.6 235.2h0M408.1 253.8h0M398.8 206.0h0M455.2 191.5h0M450.1 245.9h0M471.5 242.2h0M413.0 211.5h0M464.6 131.1h0M432.8 298.2h0M476.5 175.7h0M398.6 233.2h0M437.4 280.1h0M390.2 244.7h0M464.5 254.3h0M442.9 277.4h0M466.8 228.2h0M444.3 302.6h0M425.5 191.2h0M373.6 206.7h0M486.0 188.0h0M420.5 290.7h0M449.0 211.1h0M434.9 347.9h0M444.1 323.8h0M425.1 258.5h0M479.8 216.7h0M441.1 347.1h0M432.2 182.5h0M445.0 312.8h0M476.5 200.4h0M432.7 303.7h0M403.7 187.6h0M454.1 323.8h0M431.0 282.7h0M186.6 232.4h0M425.9 237.8h0M418.6 202.1h0M444.1 335.4h0M427.5 249.4h0M437.9 316.9h0M460.9 230.5h0M450.5 319.8h0M434.7 332.2h0M420.1 302.3h0M469.4 203.9h0M468.4 243.3h0M415.8 221.8h0M433.4 292.5h0M439.1 339.1h0M441.6 256.6h0M453.8 334.5h0M483.2 255.3h0M432.5 221.6h0M477.7 173.6h0M480.2 187.7h0M238.3 230.0h0M450.3 284.3h0M431.0 277.7h0M460.7 238.8h0M405.5 262.2h0M457.6 309.1h0M417.4 202.1h0M453.6 235.4h0M456.8 183.2h0M424.9 322.0h0M408.0 313.0h0M446.0 309.3h0M411.1 266.9h0M455.0 195.8h0M436.3 194.2h0M442.8 236.3h0M461.0 308.8h0M391.7 212.8h0M382.6 217.8h0M424.8 234.6h0M369.5 214.2h0M437.7 258.9h0M441.0 344.5h0M451.7 281.3h0M461.0 247.7h0M244.2 216.5h0M449.6 231.7h0M415.9 237.6h0M432.5 240.7h0M465.5 147.9h0M184.8 233.4h0M437.1 306.4h0M427.3 204.6h0M404.3 222.4h0M456.8 209.2h0M445.5 224.6h0M452.9 326.7h0M463.7 251.8h0M441.1 292.9h0M431.3 264.6h0M171.4 227.3h0M381.0 204.2h0M465.4 161.0h0M371.5 228.1h0M464.6 163.6h0M385.4 229.6h0M451.9 204.2h0M420.2 210.9h0M429.2 223.0h0M439.9 202.0h0M391.7 249.3h0M430.6 231.7h0M471.8 199.2h0M431.8 196.7h0M456.2 292.1h0M418.9 340.4h0M442.8 248.9h0M459.9 251.3h0M403.5 216.2h0M414.9 267.6h0M424.0 267.0h0M425.0 343.9h0M369.0 222.8h0M420.2 213.4h0M427.7 230.7h0M384.4 243.3h0M416.0 213.4h0M420.5 183.7h0M239.6 222.6h0M426.2 188.4h0M471.0 187.6h0M378.4 221.5h0M470.0 191.2h0M473.3 207.2h0M408.1 291.8h0M403.9 253.4h0M431.0 245.7h0M466.8 250.0h0M453.4 233.0h0M438.4 277.4h0M409.4 224.2h0M473.0 179.6h0M449.1 207.1h0M465.0 234.6h0M387.9 239.8h0M463.6 161.6h0M415.3 313.7h0M467.1 181.5h0M406.0 288.4h0M381.3 221.2h0M434.4 226.7h0M474.3 203.0h0M392.6 216.0h0M380.0 190.2h0M402.3 242.7h0M478.5 176.9h0M430.6 308.4h0M468.2 217.8h0M369.2 212.8h0M453.4 199.1h0M473.2 247.3h0M475.7 180.5h0M424.0 292.1h0M464.2 263.4h0M428.8 321.8h0M436.6 324.7h0M447.8 246.5h0M415.9 297.6h0M374.0 226.8h0M467.3 222.4h0M460.4 167.7h0M445.5 281.4h0M402.1 255.8h0M383.6 226.7h0M185.0 250.8h0M438.9 267.1h0M442.3 188.1h0M180.3 242.4h0M465.9 225.1h0M439.7 295.3h0M432.6 314.6h0M483.5 265.9h0M458.3 227.8h0M436.8 298.5h0M397.8 216.2h0M406.8 256.8h0M445.0 209.4h0M457.9 229.9h0M385.1 220.5h0M392.2 243.7h0M455.3 186.0h0M479.0 190.4h0M429.2 192.6h0M446.5 211.1h0M412.0 187.9h0M402.0 192.6h0M412.2 324.1h0M484.7 252.7h0M409.7 232.2h0M451.6 295.1h0M444.1 203.6h0M382.2 199.3h0M427.8 314.0h0M448.8 305.2h0M409.7 251.0h0M426.5 289.5h0M182.7 239.5h0M432.0 276.1h0M458.2 206.7h0M466.7 131.3h0M412.3 229.4h0M445.7 273.6h0M418.5 238.1h0M412.1 245.1h0M411.5 303.9h0M464.0 247.4h0M394.8 240.8h0M464.5 185.2h0M377.0 197.1h0M426.7 287.9h0M402.2 198.6h0M241.9 228.3h0M438.6 173.4h0M420.5 129.0h0M418.7 298.6h0M384.2 215.4h0M392.6 238.4h0M379.3 229.8h0M420.7 314.5h0M458.0 331.0h0M376.5 205.8h0M372.3 213.9h0M484.1 208.7h0M178.2 232.2h0M441.5 232.8h0M423.1 341.8h0M429.4 252.9h0M432.3 199.4h0M389.7 244.2h0M478.8 213.9h0M181.8 252.9h0M450.2 264.6h0M465.3 144.8h0M429.1 274.4h0M413.2 305.8h0M456.7 329.7h0M424.3 277.6h0M427.5 224.0h0M441.2 271.3h0M432.5 181.4h0M468.2 176.0h0M438.4 264.7h0M432.1 209.8h0M462.1 177.7h0M173.0 252.8h0M438.5 287.4h0M414.2 226.7h0M411.2 218.9h0M416.1 295.3h0M411.8 240.2h0M414.2 336.9h0M463.2 225.8h0M411.7 308.2h0M418.9 345.1h0M407.9 279.9h0M410.8 299.9h0M455.0 331.0h0M444.7 319.2h0M389.1 233.5h0M479.4 200.6h0M444.4 250.2h0M427.4 250.6h0M448.9 251.0h0M457.4 312.6h0M429.7 313.8h0M436.2 189.1h0M483.0 191.9h0M422.4 231.9h0M415.1 255.9h0M461.5 300.9h0M429.2 190.2h0M461.8 269.6h0M479.8 264.7h0M425.3 253.7h0M458.5 195.4h0M387.4 232.4h0M432.3 289.5h0M420.5 297.7h0M469.1 240.3h0M444.4 293.2h0M451.8 172.2h0M436.7 248.2h0M448.8 202.2h0M413.2 197.0h0M423.7 229.0h0M450.2 217.1h0M483.4 199.4h0M170.4 240.9h0M460.3 329.1h0M429.4 285.0h0M175.2 227.8h0M409.5 217.2h0M389.1 247.4h0M176.1 241.2h0M394.3 223.9h0M460.3 234.9h0M385.0 189.3h0M447.3 202.0h0M408.0 298.5h0M445.5 298.5h0M416.1 180.0h0M418.5 250.7h0M396.0 237.1h0M397.5 187.6h0M420.9 230.5h0M442.6 299.0h0M441.3 174.7h0M419.3 186.4h0M453.7 172.4h0M452.9 210.8h0M401.0 245.2h0M425.8 212.8h0M469.7 195.9h0M465.3 212.6h0M180.4 239.9h0M380.0 195.6h0M419.6 196.7h0M438.3 310.0h0M429.1 243.9h0M465.4 136.0h0M473.4 184.9h0M424.6 303.5h0M384.8 198.2h0M432.0 212.7h0M393.3 192.5h0M442.0 250.9h0M431.8 207.0h0M396.1 186.7h0M453.3 174.3h0M424.7 219.9h0M463.7 193.8h0M403.5 234.3h0M442.1 241.1h0M468.5 223.9h0M411.3 291.9h0M182.0 255.2h0M466.8 259.4h0M168.7 252.4h0M168.6 243.1h0M386.6 227.2h0M435.1 268.3h0M418.9 330.9h0M461.4 218.0h0M429.3 238.2h0M433.0 225.5h0M433.6 311.7h0M183.2 252.7h0M420.0 280.3h0M460.3 182.2h0M402.6 252.0h0M448.5 342.3h0M385.7 196.4h0M418.8 328.5h0M406.9 327.3h0M426.0 309.0h0M426.4 221.9h0M447.6 272.0h0M471.3 181.5h0M172.8 240.7h0M481.8 209.2h0M439.3 193.1h0M427.6 211.1h0M462.5 171.7h0M412.3 286.9h0M424.0 205.0h0M240.6 219.6h0M462.7 236.1h0M384.4 206.5h0M418.7 203.8h0M426.7 297.1h0M408.5 271.2h0M444.0 311.5h0M382.7 191.2h0M468.5 261.9h0M408.7 208.3h0M409.8 308.6h0M440.3 263.1h0M455.1 301.0h0M466.9 123.2h0M410.4 285.3h0M387.1 215.2h0M413.8 201.1h0M482.5 201.4h0M487.8 263.5h0M449.9 242.8h0M466.5 318.0h0M247.0 212.7h0M440.5 326.3h0M177.3 226.9h0M396.5 216.4h0M445.0 329.3h0M474.2 212.1h0M399.7 215.5h0M451.6 337.7h0M475.2 188.2h0M445.5 265.6h0M465.1 269.0h0M440.0 236.2h0M438.2 269.4h0M432.4 251.2h0M423.2 325.1h0M465.3 111.6h0M399.2 252.7h0M468.1 230.5h0M449.9 301.5h0M418.9 263.4h0M383.7 237.0h0M440.4 316.2h0M443.2 279.3h0M381.8 230.4h0M424.7 214.5h0M388.5 199.6h0M476.1 242.3h0M413.5 222.1h0M465.7 129.6h0M448.6 293.3h0M440.2 238.5h0M402.3 229.4h0M432.3 347.0h0M466.6 266.2h0M459.1 225.7h0M181.2 237.5h0M420.3 217.5h0M406.8 227.9h0M441.1 300.0h0M439.7 289.5h0M418.1 225.9h0M379.3 219.1h0M415.8 274.7h0M418.5 126.7h0M440.8 341.6h0M393.1 223.0h0M478.6 204.8h0M485.6 202.1h0M406.5 191.0h0M446.5 247.5h0M454.5 275.3h0M455.7 237.1h0M246.1 224.3h0M455.7 327.2h0M385.1 193.1h0M377.2 226.8h0M429.4 182.8h0M447.0 329.8h0M436.2 225.5h0M436.7 177.3h0M415.9 196.1h0M406.6 258.7h0M410.5 336.3h0M456.1 179.6h0M442.2 319.3h0M398.8 212.8h0M447.0 335.0h0M465.4 139.6h0M437.9 170.5h0M437.9 227.0h0M454.5 175.7h0M422.6 347.1h0M175.7 252.5h0M465.2 209.5h0M459.3 175.2h0M418.9 303.0h0M415.5 340.2h0M466.6 111.3h0M445.5 229.2h0M464.8 128.1h0M183.5 238.6h0M438.0 272.5h0M379.7 237.9h0M464.3 226.6h0M174.8 232.3h0M442.8 209.2h0M456.7 193.2h0M466.1 133.0h0M441.6 178.8h0M405.2 214.0h0M400.5 201.8h0M451.8 219.1h0M412.2 276.1h0M466.9 164.4h0M420.1 194.3h0M469.4 235.2h0M436.1 255.8h0M427.8 196.9h0M464.0 313.2h0M438.3 285.9h0M447.0 219.3h0M466.3 240.2h0M403.5 207.0h0M447.1 302.5h0M171.0 245.3h0M407.9 322.1h0M452.3 185.9h0M455.3 315.8h0M438.4 328.7h0M428.7 294.5h0M424.7 271.5h0M415.2 282.7h0M464.6 201.9h0M466.1 115.7h0M434.7 170.9h0M396.5 213.8h0M470.6 200.9h0M425.0 347.6h0M466.1 113.4h0M487.6 257.1h0M447.9 257.1h0M445.2 214.4h0M389.4 238.7h0M409.5 328.7h0M477.0 196.0h0M447.6 182.5h0M447.2 258.2h0M448.7 332.6h0M423.3 188.9h0M380.3 217.6h0M189.4 237.3h0M431.5 342.0h0M407.3 221.9h0M418.9 208.6h0M371.8 207.5h0M405.6 229.8h0M471.5 172.2h0M416.0 264.7h0M381.5 227.0h0M430.6 209.1h0M466.5 248.4h0M469.5 178.9h0M420.4 259.8h0M239.6 236.4h0M472.4 256.5h0M419.3 253.9h0M450.5 176.0h0M429.0 287.2h0M471.7 194.0h0M472.7 174.5h0M460.0 304.1h0M433.8 350.0h0M407.1 201.3h0M431.8 268.7h0M433.8 196.0h0M449.8 185.3h0M453.1 321.9h0M451.9 190.0h0M455.0 228.0h0M466.7 197.1h0M469.6 256.2h0M487.6 194.5h0M433.1 213.7h0M448.7 326.2h0M459.6 241.1h0M444.3 195.6h0M438.0 336.6h0M424.9 194.5h0M411.8 198.7h0M480.2 211.8h0M450.3 209.6h0M410.4 310.2h0M433.7 248.3h0M393.1 188.0h0M476.9 263.9h0M450.9 257.0h0M464.9 159.1h0M447.3 208.6h0M395.2 200.9h0M446.5 326.9h0M464.9 114.9h0M375.2 217.8h0M438.4 178.4h0M440.0 279.3h0M420.5 327.0h0M397.6 245.5h0M452.4 253.5h0M455.0 314.0h0M433.3 344.9h0M442.6 224.5h0M183.9 243.7h0M423.2 185.0h0M427.0 199.8h0M465.1 136.5h0M421.4 329.2h0M238.1 232.2h0M449.2 320.6h0M457.9 181.0h0M409.6 207.4h0M401.8 254.3h0M412.5 214.0h0M244.1 219.0h0M421.2 255.9h0M455.3 164.8h0M393.2 200.9h0M423.2 224.1h0M416.7 243.9h0M445.5 289.3h0M430.5 345.9h0M436.5 221.3h0M456.8 199.3h0M413.9 290.5h0M475.7 238.5h0M465.0 193.4h0M417.5 293.3h0M466.4 125.5h0M424.9 350.1h0M453.9 187.6h0M450.1 295.2h0M376.7 214.1h0M463.5 233.3h0M178.9 235.7h0M405.0 251.5h0M468.0 198.6h0M459.7 172.5h0M432.5 282.8h0M466.9 237.8h0M400.8 233.0h0M426.0 272.1h0M396.1 240.2h0M467.4 202.2h0M473.0 266.9h0M458.0 172.8h0M437.1 252.7h0M382.4 219.2h0M454.6 241.3h0M449.7 180.1h0M485.0 262.0h0M471.2 238.1h0M434.6 305.3h0M436.7 200.6h0M461.7 163.3h0M464.7 142.8h0M474.3 178.8h0M421.5 246.6h0M423.3 244.8h0M406.4 193.8h0M390.2 201.1h0M439.6 332.2h0M460.6 165.2h0M415.4 335.0h0M450.0 269.6h0M391.0 219.5h0M394.5 249.2h0M434.0 320.5h0M377.2 201.7h0M445.7 237.6h0M461.0 162.5h0M379.3 204.3h0M423.4 280.4h0M469.1 266.5h0M429.1 292.0h0M435.5 233.2h0M436.9 301.1h0M445.6 295.9h0M431.2 242.4h0M225.0 228.0h0M422.9 326.6h0M238.3 228.4h0M414.5 225.2h0M463.3 266.2h0M426.5 209.7h0M428.4 299.7h0M465.4 163.5h0M459.6 220.2h0M432.7 323.1h0M451.8 195.4h0M464.8 169.1h0M464.4 242.1h0M439.8 248.7h0M420.4 190.2h0M413.0 183.3h0M395.1 253.0h0M463.5 230.8h0M387.5 217.0h0M477.2 250.7h0M457.8 300.6h0M405.7 267.5h0M466.3 230.0h0M458.9 191.7h0M410.3 201.7h0M450.6 303.2h0M453.3 266.8h0M481.5 258.8h0M431.4 295.6h0M465.4 245.1h0M459.2 263.8h0M459.1 313.4h0M477.4 260.8h0M415.0 262.0h0M451.6 316.5h0M445.7 170.8h0M442.7 169.8h0M437.8 290.7h0M416.2 321.0h0M389.5 217.1h0M442.2 302.7h0M474.5 196.8h0M182.7 229.1h0M430.5 202.3h0M415.7 286.9h0M481.6 254.2h0M410.0 282.6h0M471.6 183.2h0M435.3 281.4h0M183.1 247.6h0M474.6 255.6h0M375.9 194.3h0M459.4 306.7h0M446.4 232.0h0M180.5 231.4h0M453.3 330.9h0M431.5 301.2h0M434.5 259.6h0M455.5 169.0h0M387.4 210.9h0M465.5 122.8h0M417.4 334.8h0M411.1 330.2h0M449.6 274.5h0M418.5 181.0h0M409.1 218.9h0M411.4 271.0h0M469.8 233.0h0M469.6 208.5h0M240.9 225.7h0M457.5 212.7h0M372.2 199.0h0M458.8 257.8h0M474.6 241.5h0M419.9 295.9h0M468.1 167.9h0M457.3 255.2h0M450.2 225.7h0M433.7 340.1h0M440.2 270.2h0M470.8 263.6h0M412.2 282.6h0M430.1 235.0h0M436.4 266.7h0M471.6 246.8h0M428.0 311.7h0M472.6 203.1h0M410.8 269.8h0M436.8 217.2h0M460.9 201.8h0M475.9 214.4h0M479.6 206.2h0M389.7 207.5h0M449.5 222.3h0M430.7 273.6h0M446.3 175.2h0M474.7 235.5h0M442.5 206.9h0M439.4 213.8h0M239.8 214.8h0M426.2 303.1h0M370.7 217.5h0M472.2 271.6h0M215.0 232.0h0M432.0 331.3h0M397.5 204.2h0M378.3 214.4h0M452.7 202.0h0M462.9 325.1h0M400.9 226.5h0M407.9 290.7h0M411.3 196.2h0M463.5 180.6h0M464.1 315.8h0M451.3 178.8h0M426.1 305.3h0M372.0 222.2h0M408.4 187.8h0M437.0 349.1h0M447.2 288.5h0M403.7 184.0h0M430.0 261.0h0M408.5 212.8h0M444.3 340.2h0M461.1 258.7h0M466.4 203.4h0M474.5 217.9h0M415.1 329.5h0M452.3 218.0h0M417.3 189.2h0M451.9 165.8h0M453.1 256.0h0M458.0 216.7h0M426.3 214.3h0M486.0 190.6h0M451.6 284.4h0M442.1 199.2h0M383.5 232.6h0M426.4 179.5h0M479.9 180.4h0M433.8 260.5h0M414.1 237.0h0M411.0 258.6h0M423.1 332.0h0M463.5 213.5h0M417.6 281.4h0M407.4 269.9h0M445.0 177.2h0M417.4 276.8h0M459.8 267.1h0M378.3 224.4h0M437.7 326.0h0M408.0 229.7h0M394.9 219.2h0M465.8 182.6h0M445.8 344.0h0M427.7 341.5h0M451.6 183.2h0M422.2 295.2h0M415.5 191.0h0M410.3 190.4h0M441.3 284.1h0M439.2 210.0h0M428.0 216.2h0M387.4 193.8h0M426.9 345.0h0M435.5 314.6h0M379.9 236.2h0M391.3 229.4h0M415.6 232.2h0M438.5 324.6h0M399.2 219.8h0M435.5 183.3h0M373.9 202.3h0M408.5 238.0h0M429.0 198.9h0M481.9 255.6h0M468.5 173.6h0M474.7 260.6h0M458.8 270.2h0M429.4 220.1h0M416.9 216.2h0M447.6 193.4h0M440.4 310.9h0M414.5 264.6h0M445.0 199.1h0M461.0 179.6h0M399.7 204.7h0M426.4 296.2h0M407.4 284.1h0M423.6 287.3h0M424.0 318.0h0M399.9 234.7h0M423.4 180.8h0M400.0 256.0h0M417.7 235.2h0M448.7 314.0h0M248.0 228.2h0M480.3 215.1h0M446.6 332.4h0M437.4 180.5h0M431.2 306.6h0M476.4 211.5h0M439.3 182.5h0M450.6 340.4h0M468.2 232.3h0M415.4 178.8h0M409.7 334.4h0M438.1 223.8h0M240.9 230.1h0M459.0 272.4h0M423.3 260.9h0M462.3 218.7h0M427.9 180.4h0M382.6 208.7h0M458.2 310.3h0M438.9 251.4h0M429.0 205.7h0M453.4 280.2h0M451.4 235.5h0M475.7 185.6h0M448.8 310.2h0M433.4 334.0h0M436.6 245.7h0M439.9 169.1h0M414.0 310.2h0M418.6 214.1h0M465.5 196.6h0M419.3 315.7h0M404.0 200.8h0M375.0 230.5h0M447.3 276.0h0M457.9 240.9h0M405.5 219.6h0M395.6 190.6h0M436.9 198.8h0M461.9 322.3h0M481.7 264.4h0M394.9 250.0h0M453.7 209.3h0M374.2 196.8h0M448.9 190.1h0M443.4 336.6h0M481.7 195.5h0M417.7 239.5h0M380.6 212.6h0M439.2 262.0h0M441.5 321.5h0M478.8 184.1h0M415.5 315.3h0M427.1 220.0h0M205.0 236.0h0M454.7 214.6h0M435.5 278.0h0M376.8 224.7h0M445.6 269.3h0M388.6 196.8h0M465.1 166.7h0M411.4 263.2h0M436.2 260.8h0M385.6 242.5h0M430.3 251.1h0M431.3 315.9h0M412.1 209.8h0M420.3 199.1h0M475.0 208.2h0M447.2 181.1h0M377.1 217.5h0M404.0 191.8h0M447.5 213.8h0M412.2 252.0h0M186.4 248.8h0M174.5 243.1h0M186.3 242.2h0M437.2 331.8h0M187.5 236.9h0M420.5 311.1h0M456.0 211.2h0M417.3 245.1h0M445.6 279.6h0M189.6 231.5h0M422.4 263.5h0M408.4 203.8h0M456.8 333.7h0M444.1 181.0h0M415.6 318.4h0M406.6 295.1h0M449.9 196.9h0M401.9 211.6h0M416.4 228.2h0M403.5 244.9h0M178.2 236.8h0M454.5 243.4h0M434.4 207.5h0M400.7 247.7h0M454.2 224.5h0M418.9 308.5h0M443.5 275.1h0M446.2 311.9h0M410.4 327.3h0M482.9 249.4h0M413.3 279.9h0M472.4 260.7h0M417.0 269.2h0M463.4 204.2h0M457.1 297.6h0M463.2 255.5h0M459.4 245.2h0M383.4 200.9h0M482.8 211.1h0M444.1 246.0h0M426.2 282.3h0M443.8 294.9h0M174.4 230.1h0M394.0 214.0h0M463.6 306.7h0M473.6 257.9h0M476.9 248.7h0M461.6 227.1h0M441.1 213.6h0M477.3 246.5h0M415.4 272.8h0M450.3 226.7h0M178.1 247.1h0M462.3 183.5h0M473.9 253.7h0M465.1 310.5h0M427.6 178.4h0M418.8 222.4h0M384.0 208.7h0M456.4 178.9h0M474.3 250.4h0M463.9 261.2h0M441.2 192.7h0M418.5 229.6h0M398.4 222.2h0M404.7 232.6h0M437.0 207.6h0M420.1 226.8h0M438.0 204.4h0M453.5 194.0h0M246.6 230.0h0M412.6 284.1h0M443.0 268.7h0M445.8 315.3h0M456.0 306.2h0M437.4 275.5h0M421.2 224.7h0M465.3 127.6h0M430.9 213.8h0M448.9 281.9h0M391.6 189.2h0M443.0 259.6h0M429.5 324.2h0M443.9 331.1h0M461.0 193.5h0M435.0 229.5h0M241.2 221.9h0M470.2 269.0h0M404.0 215.3h0M426.6 339.4h0M177.1 246.3h0M396.8 225.5h0M450.4 272.5h0M431.8 321.8h0M454.6 296.3h0M397.9 184.9h0M455.5 321.2h0M421.8 339.2h0M457.2 265.7h0M168.3 235.8h0M421.5 216.2h0M173.9 235.7h0M425.6 331.3h0M415.3 198.6h0M446.8 242.9h0M428.2 174.9h0M438.1 312.6h0M423.8 308.8h0M431.1 249.1h0M399.4 241.3h0M472.9 177.5h0M419.9 247.4h0M430.6 340.4h0M436.8 238.4h0M421.7 284.0h0M466.7 211.7h0M384.3 234.9h0M471.1 235.6h0M174.7 248.5h0M408.4 185.5h0M412.7 205.6h0M443.1 243.7h0M172.3 237.6h0M466.8 114.3h0M453.0 237.0h0M244.1 225.9h0M411.0 262.3h0M418.4 199.7h0M385.5 206.4h0M429.6 203.6h0M439.8 306.2h0M411.5 180.7h0M466.1 146.7h0M410.5 321.9h0M430.6 284.3h0M450.4 257.8h0M426.2 315.7h0M479.7 258.7h0M448.7 297.4h0M452.5 227.6h0M171.0 232.9h0M475.6 267.0h0M417.4 306.1h0M451.5 264.0h0M412.4 318.8h0M425.2 228.4h0M420.9 318.1h0M421.6 277.7h0M442.8 267.1h0M484.7 259.1h0M449.0 260.4h0M438.2 189.4h0M430.6 174.8h0M451.9 300.1h0M406.8 298.1h0M443.6 325.9h0M445.4 182.4h0M400.8 205.6h0M421.9 290.0h0M436.2 219.6h0M412.0 225.0h0M185.3 240.5h0M435.1 315.6h0M451.5 230.8h0M445.9 276.6h0M424.7 202.1h0M423.9 208.6h0M442.8 204.1h0M448.7 198.8h0M441.7 338.9h0M172.8 242.9h0M460.2 204.2h0M413.4 253.3h0M395.8 195.8h0M445.9 195.7h0M432.1 271.7h0M423.7 281.5h0M409.3 198.2h0M466.3 124.9h0M447.3 254.1h0M458.0 235.3h0M478.0 189.2h0M474.2 233.6h0M436.1 272.5h0M373.9 211.1h0M372.8 210.0h0M190.5 239.5h0M242.3 216.8h0M430.3 304.2h0M436.6 233.1h0M174.1 251.3h0M385.4 204.9h0M247.6 222.2h0M393.2 230.9h0M470.1 257.9h0M402.7 203.9h0M464.6 190.8h0M430.7 336.2h0M379.6 239.5h0M462.7 197.8h0M461.9 190.4h0M430.7 185.2h0M413.7 217.1h0M440.5 336.4h0M372.7 203.8h0M407.5 305.8h0M474.7 182.9h0M170.0 234.5h0M372.2 229.6h0M479.6 269.3h0M464.3 110.8h0M453.4 272.6h0M455.9 202.2h0M435.0 289.8h0M468.4 269.7h0M447.7 319.3h0M438.6 219.1h0M447.4 324.3h0M474.5 190.3h0M427.4 319.2h0M440.0 239.5h0M454.9 249.3h0M390.1 194.4h0M475.1 192.9h0M441.2 246.2h0M439.1 335.1h0M409.0 288.5h0M458.2 243.1h0M458.4 185.6h0M370.2 208.8h0M428.9 280.4h0M404.9 247.5h0M429.7 333.7h0M373.6 220.4h0M479.6 248.5h0M441.0 173.2h0M425.2 195.8h0M456.1 319.3h0M375.1 222.7h0M472.9 225.6h0M420.7 324.9h0M393.9 236.3h0M468.9 194.1h0M453.3 303.1h0M436.6 208.6h0M417.3 212.7h0M431.9 326.1h0M438.6 246.6h0M432.6 204.2h0M397.5 230.5h0M397.9 227.0h0M409.9 210.8h0M181.5 250.0h0M430.9 350.4h0M394.7 199.1h0M418.9 314.0h0M397.3 198.7h0M243.0 231.9h0M445.5 192.9h0M458.9 275.4h0M420.1 281.3h0M421.6 207.2h0M439.5 191.7h0M242.7 234.7h0M418.7 194.4h0M186.4 226.4h0M456.2 161.2h0M420.2 307.7h0M404.8 227.1h0M401.2 259.1h0M428.9 264.5h0M465.5 308.6h0M441.4 275.1h0M416.5 284.2h0M168.9 248.2h0M441.0 216.3h0M427.6 245.2h0M444.2 287.0h0M417.9 256.2h0M395.3 205.8h0M446.3 216.9h0M418.8 183.0h0M425.7 242.2h0M179.5 230.4h0M443.0 211.0h0M408.9 240.7h0M465.5 198.5h0M463.5 240.5h0M475.0 272.0h0M452.9 222.0h0M414.5 278.1h0M185.6 245.9h0M448.6 315.9h0M418.7 301.4h0M406.4 210.1h0M374.1 231.9h0M432.4 234.4h0M476.6 259.4h0M484.7 268.9h0M451.8 207.3h0M441.2 335.0h0M443.0 329.0h0M409.4 194.0h0M434.0 177.5h0M436.5 292.2h0M464.3 176.2h0M452.3 269.9h0M400.8 187.8h0M434.3 180.0h0M453.8 246.6h0M246.1 215.3h0M424.6 255.6h0M388.3 219.1h0M448.6 343.9h0M432.0 319.3h0M457.6 323.2h0M436.5 185.8h0M415.7 230.2h0M402.4 260.6h0M455.8 233.6h0M447.1 320.9h0M442.4 260.5h0M433.7 230.3h0M446.6 223.3h0M459.2 176.9h0M376.8 218.7h0M246.1 220.7h0M178.3 253.0h0M436.3 204.6h0M185.3 229.7h0M434.3 223.1h0M439.1 308.9h0M170.0 250.4h0M481.6 251.0h0M237.3 219.9h0M429.5 329.8h0M423.0 315.7h0M449.2 248.3h0M461.0 315.5h0M418.9 284.8h0M436.3 345.0h0M384.3 224.2h0M426.5 324.8h0M424.3 313.7h0M463.7 222.0h0M423.0 320.8h0M477.4 199.3h0M447.2 205.7h0M167.7 239.9h0M439.4 345.9h0M470.4 185.0h0M456.7 168.1h0M421.5 273.8h0M420.5 274.0h0M443.6 253.6h0M424.6 198.5h0M487.0 261.4h0M409.0 262.2h0M450.4 291.9h0M396.1 234.3h0M472.7 250.2h0M415.3 293.1h0M436.7 348.1h0M481.4 267.0h0M471.9 220.1h0M451.6 290.3h0M379.4 194.3h0M182.1 223.8h0M379.9 232.1h0M379.2 210.0h0M456.3 251.6h0M457.6 271.9h0M245.7 232.9h0M433.8 188.4h0M466.4 159.3h0M449.6 170.3h0M469.7 212.7h0M381.9 194.0h0M421.4 189.2h0M415.9 245.5h0M438.1 191.4h0M415.0 235.1h0M444.5 341.6h0M461.6 306.7h0M464.9 237.4h0M411.3 186.0h0M468.6 184.1h0M432.9 172.2h0M402.0 224.4h0M458.2 223.2h0M466.7 214.1h0M445.7 171.9h0M433.8 243.2h0M458.4 254.4h0M460.9 212.7h0M426.0 261.2h0M396.6 219.9h0M413.3 242.5h0M425.8 310.7h0M465.7 141.7h0M419.0 287.4h0M460.8 319.1h0M424.4 177.2h0M443.8 264.7h0M392.9 196.8h0M427.4 240.0h0M434.0 294.4h0M418.6 271.5h0M425.2 275.3h0M416.0 336.5h0M447.3 224.4h0M443.9 238.6h0M435.6 235.2h0M410.2 252.6h0M448.4 229.9h0M433.7 328.7h0M421.9 191.2h0M423.7 297.6h0M427.6 316.2h0M452.8 170.4h0M425.5 217.0h0M181.7 227.9h0M462.6 308.9h0M408.2 182.4h0M453.4 248.0h0M444.8 219.8h0M472.2 208.9h0M459.5 165.5h0M411.8 204.1h0M434.9 211.4h0M427.9 256.3h0M434.8 325.9h0M475.8 270.0h0M416.8 280.5h0M456.9 224.6h0M458.0 321.4h0M474.2 219.1h0M391.4 234.6h0M373.7 225.9h0M415.7 203.5h0M170.5 230.0h0M411.0 274.7h0M423.2 253.3h0M442.0 325.1h0M443.2 200.6h0M404.3 237.2h0M486.8 252.0h0M430.0 177.3h0M176.4 234.8h0M423.0 334.4h0M425.1 232.6h0M463.1 163.1h0M438.3 243.4h0M246.9 235.8h0M442.1 313.0h0M397.6 243.1h0M432.0 309.0h0M398.3 200.7h0M393.9 246.1h0M477.3 189.9h0M469.6 217.1h0M402.4 186.7h0M453.1 182.3h0M447.4 340.4h0M176.8 230.0h0M455.5 205.7h0M421.0 203.5h0M402.3 195.3h0M431.4 280.5h0M168.1 238.3h0M435.4 238.7h0M414.5 247.4h0M470.3 248.5h0M453.5 229.2h0M427.9 292.8h0M391.7 240.3h0M459.3 208.2h0M450.7 333.8h0M451.6 305.3h0M465.8 270.9h0M409.8 267.0h0M437.2 320.4h0M441.3 227.7h0M384.1 222.4h0M391.6 199.2h0M429.0 258.8h0M432.1 267.3h0M449.0 188.5h0M188.3 245.0h0M469.7 215.2h0M406.8 242.6h0M464.5 125.6h0M425.4 247.5h0M448.7 234.4h0M413.1 268.5h0M481.7 192.8h0M449.3 289.9h0M472.7 227.6h0M444.4 316.4h0M461.7 242.6h0M382.0 235.3h0M454.8 311.0h0M435.0 287.7h0M428.6 268.8h0M478.6 185.6h0M413.2 327.1h0M427.9 228.4h0M453.7 328.7h0M178.5 224.2h0M441.8 309.3h0M417.1 185.1h0M398.8 190.8h0M411.0 249.2h0M463.3 160.5h0M436.1 241.5h0M457.5 187.4h0M445.3 271.5h0M459.5 324.6h0M484.3 187.3h0M478.7 253.0h0M423.4 202.0h0M405.3 240.2h0M388.7 229.8h0M466.8 219.5h0M375.8 199.3h0M438.5 296.2h0M465.5 138.4h0M418.9 233.1h0M406.6 199.2h0M388.0 246.7h0M414.6 219.4h0M421.9 237.5h0M468.1 219.4h0M447.0 190.8h0M425.5 264.9h0M458.7 326.1h0M468.6 187.3h0M425.9 207.3h0M470.8 206.4h0M412.6 191.5h0M467.2 206.9h0M454.3 292.9h0M451.9 273.9h0M464.6 120.5h0M457.9 204.2h0M423.0 239.8h0M402.4 191.4h0M446.2 264.2h0M421.2 209.6h0M326.0 243.0h0M437.7 212.4h0M400.7 238.6h0M424.9 182.3h0M434.9 337.3h0M441.4 219.7h0M391.7 228.2h0M427.9 266.6h0M435.5 174.5h0M323.0 242.0h0M464.5 164.5h0M417.5 301.0h0M481.9 198.8h0M425.4 301.0h0M409.5 290.1h0M472.6 263.5h0M472.7 236.9h0M389.7 211.6h0M426.2 192.9h0M450.0 193.0h0M445.6 256.4h0M407.3 301.3h0M430.3 188.0h0M428.3 291.1h0M450.3 165.8h0M472.9 200.6h0M386.3 237.0h0M407.9 216.4h0M467.2 264.7h0M376.7 235.7h0M458.8 232.2h0M428.8 200.4h0M370.8 225.3h0M450.0 238.9h0M244.1 213.8h0M423.0 196.5h0M405.0 182.7h0M451.2 261.8h0M397.8 256.3h0M445.6 342.2h0M426.4 336.9h0M381.4 189.3h0M394.8 203.0h0M424.6 329.2h0M465.8 143.5h0M183.3 235.8h0M474.1 268.9h0M464.8 134.6h0M477.0 210.2h0M418.9 319.5h0M446.0 284.2h0M473.7 243.6h0M456.9 304.2h0M426.4 330.2h0M455.2 222.4h0M468.8 251.7h0M391.4 213.8h0M237.6 224.2h0M421.3 334.8h0M421.5 300.7h0M386.6 200.6h0M387.8 209.4h0M443.9 322.4h0M414.0 240.7h0M189.5 235.5h0M417.6 323.9h0M438.6 317.9h0M415.9 309.1h0M444.2 184.9h0M406.9 195.7h0M463.3 189.3h0M399.6 225.3h0M420.2 336.1h0M413.9 294.7h0M461.4 253.6h0M404.5 184.8h0M427.7 348.3h0M484.5 264.7h0M445.6 187.8h0M471.1 240.2h0M433.8 280.6h0M179.8 249.9h0M429.4 298.8h0M171.4 247.4h0M391.7 210.0h0M415.9 182.8h0M428.0 349.4h0M441.4 179.8h0M409.6 227.0h0M468.0 169.5h0M383.4 212.7h0M401.0 217.7h0M475.0 172.0h0M406.7 236.0h0M388.3 225.1h0M435.2 172.3h0M453.2 310.2h0M436.4 329.0h0M395.0 211.9h0M454.7 261.1h0M399.0 229.1h0M438.5 298.8h0M423.4 258.8h0M465.8 260.5h0M414.2 185.0h0M474.6 225.7h0M462.5 274.3h0M452.7 259.8h0M410.5 294.8h0M439.7 211.4h0M467.9 254.1h0M424.9 185.5h0M425.3 175.3h0M417.0 341.9h0M376.6 210.9h0M176.9 251.5h0M404.4 211.1h0M477.1 254.1h0M461.0 231.9h0M381.2 206.7h0M446.7 226.9h0M465.9 163.0h0M389.3 190.4h0M459.3 248.8h0M406.7 207.6h0M404.0 219.7h0M419.5 305.4h0M433.1 256.0h0M395.3 243.9h0M441.0 182.7h0M435.4 343.4h0M410.6 331.7h0M446.7 336.7h0M454.5 263.2h0M465.1 165.2h0M419.2 322.0h0M371.4 201.5h0M398.3 195.9h0M465.1 217.9h0M464.5 118.9h0M389.7 222.1h0M435.1 300.2h0M395.7 222.0h0M444.4 222.8h0M423.0 336.2h0M444.0 190.9h0M416.9 310.1h0M421.3 266.4h0M429.6 229.1h0M406.7 225.0h0M429.2 224.2h0M408.5 264.1h0M445.7 167.3h0M386.5 223.2h0M433.6 191.7h0M447.6 265.9h0M423.0 268.8h0M445.6 306.4h0M422.2 227.9h0M484.9 210.9h0M477.4 207.2h0M486.8 198.2h0M419.9 348.3h0M469.5 246.0h0M461.4 327.3h0M409.4 303.6h0M435.3 339.0h0M177.5 243.5h0M466.1 117.3h0M400.3 251.1h0M437.4 342.9h0M433.8 275.0h0M434.8 200.8h0M456.5 220.7h0M454.7 268.8h0M423.0 244.1h0M460.7 187.8h0M453.3 177.7h0M463.6 165.9h0M456.4 213.5h0M418.7 342.6h0M410.9 242.5h0M445.8 241.1h0M451.6 242.9h0M450.8 199.7h0M173.4 245.3h0M469.3 272.3h0M421.5 292.4h0M444.5 261.6h0M428.2 305.5h0M411.2 313.1h0M431.3 216.3h0M438.3 303.0h0M417.7 267.0h0M441.4 231.0h0M455.2 259.7h0M462.3 319.6h0M420.4 288.5h0M434.7 217.8h0M421.3 236.0h0M434.2 253.9h0M461.5 170.1h0M481.9 180.3h0M460.5 214.2h0M381.6 215.3h0M413.2 232.1h0M465.2 173.4h0M461.9 222.3h0M420.0 205.9h0M414.4 209.7h0M417.0 206.0h0M403.7 209.8h0M454.3 204.6h0M411.2 334.1h0M425.2 284.8h0M446.0 235.6h0M429.1 255.8h0M176.2 255.3h0M454.7 297.2h0M382.0 224.9h0M414.4 251.2h0M399.7 192.8h0M388.2 234.4h0M428.5 185.5h0M399.5 238.4h0M413.5 332.6h0M393.5 206.5h0M435.5 302.5h0M449.0 337.4h0M238.8 216.5h0M390.7 225.9h0M411.4 255.2h0M452.0 267.4h0M448.5 253.8h0M370.9 219.9h0M480.6 262.4h0M175.8 238.6h0M247.8 216.4h0M428.7 337.9h0M436.6 334.1h0M409.7 255.7h0M170.0 231.6h0M385.4 240.3h0M446.7 185.8h0M451.5 276.2h0M403.2 239.6h0M450.5 280.0h0M423.1 212.3h0M485.9 207.3h0M454.1 219.6h0M408.1 233.4h0M420.4 261.9h0M406.0 189.2h0M435.0 186.5h0M441.4 242.5h0M396.2 194.4h0M184.7 235.2h0M413.0 180.9h0M407.2 249.2h0M410.5 279.6h0M437.5 175.5h0M487.7 259.0h0M443.2 226.9h0M391.7 232.8h0M451.5 330.0h0M429.1 331.5h0M181.4 248.0h0M405.0 245.0h0M440.6 222.2h0M462.8 167.1h0M438.1 196.3h0M478.7 255.4h0M412.7 339.2h0M398.3 257.8h0M474.4 245.9h0M412.2 298.8h0M413.2 300.3h0M467.1 161.5h0M451.3 297.7h0M450.8 167.5h0M426.0 278.7h0M402.0 221.8h0M441.0 253.3h0M438.6 282.1h0M451.6 324.8h0M429.7 267.6h0M464.0 259.3h0M433.7 194.2h0M420.9 241.5h0M421.4 270.9h0M442.9 289.6h0M414.7 194.2h0M465.5 122.1h0M432.3 238.0h0M389.3 226.6h0M420.7 177.7h0M408.6 324.3h0M188.8 239.9h0M457.9 246.0h0M436.6 318.0h0M410.2 306.6h0M439.6 258.0h0M456.1 216.7h0M417.6 219.1h0M416.8 289.4h0M481.6 207.6h0M430.2 319.8h0M426.6 334.7h0M460.8 164.7h0M409.8 213.5h0M415.5 326.1h0M408.1 245.7h0M395.2 233.4h0M457.7 261.3h0M448.2 308.0h0M462.4 310.9h0M468.3 165.6h0M425.9 343.1h0M432.5 254.0h0M424.6 339.6h0M485.3 195.2h0M439.7 196.1h0M413.3 316.3h0M465.4 119.1h0M456.2 253.4h0M470.1 227.8h0M461.1 195.5h0M189.2 242.3h0M409.0 318.2h0M430.5 310.9h0M393.0 209.9h0M415.9 302.2h0M471.5 166.7h0M441.0 205.6h0M452.1 180.2h0M400.2 208.7h0M182.0 246.5h0" stroke="#D3D3D3" stroke-width="5.0" stroke-linecap="round" fill="none"/>
<path d="M420.7 127.1h0" stroke="#9D77EC" stroke-width="4.0" stroke-linecap="round" fill="none"/>
<path d="M448.4 252.6h0" stroke="#AA89E7" stroke-width="4.5" stroke-linecap="round" fill="none"/>
<path d="M474.7 265.7h0" stroke="#AA89E7" stroke-width="4.0" stroke-linecap="round" fill="none"/>
<path d="M486.3 249.6h0" stroke="#B093E5" stroke-width="4.0" stroke-linecap="round" fill="none"/>
<path d="M414.8 284.6h0" stroke="#AA89E7" stroke-width="3.5" stroke-linecap="round" fill="none"/>
<path d="M419.2 299.2h0" stroke="#AA89E7" stroke-width="3.5" stroke-linecap="round" fill="none"/>
<path d="M429.4 322.6h0" stroke="#9D77EC" stroke-width="4.0" stroke-linecap="round" fill="none"/>
<path d="M441.0 299.0h0" stroke="#AA89E7" stroke-width="3.5" stroke-linecap="round" fill="none"/>
<path d="M379.8 191.3h0" stroke="#AA89E7" stroke-width="4.0" stroke-linecap="round" fill="none"/>
<path d="M474.7 219.0h0" stroke="#AA89E7" stroke-width="4.0" stroke-linecap="round" fill="none"/>
<path d="M452.0 170.0h0" stroke="#AA89E7" stroke-width="4.0" stroke-linecap="round" fill="none"/>
<path d="M470.0 190.0h0" stroke="#AA89E7" stroke-width="4.0" stroke-linecap="round" fill="none"/>
<path d="M440.0 200.0h0" stroke="#A480EA" stroke-width="4.0" stroke-linecap="round" fill="none"/>
<path d="M410.0 205.0h0" stroke="#AA89E7" stroke-width="4.0" stroke-linecap="round" fill="none"/>
<path d="M425.0 230.0h0" stroke="#AA89E7" stroke-width="4.0" stroke-linecap="round" fill="none"/>
<path d="M460.0 240.0h0" stroke="#AA89E7" stroke-width="4.0" stroke-linecap="round" fill="none"/>
<path d="M392.0 240.0h0" stroke="#B093E5" stroke-width="4.0" stroke-linecap="round" fill="none"/>
<path d="M465.0 118.0h0" stroke="#B69CE3" stroke-width="4.0" stroke-linecap="round" fill="none"/>
<g font-size="30.3">
<text transform="translate(406.20 133.75) scale(1 1.045)">Neur679</text>
<text transform="translate(406.70 180.00) scale(1 1.045)">Neur492</text>
<text transform="translate(387.70 186.00) scale(1 1.045)">Neur501</text>
<text transform="translate(393.70 190.00) scale(1 1.045)">Neur494</text>
<text transform="translate(399.70 193.00) scale(1 1.045)">Neur616</text>
<text transform="translate(407.70 197.00) scale(1 1.045)">Neur519</text>
<text transform="translate(328.70 200.30) scale(1 1.045)">Neur602</text>
<text transform="translate(318.70 208.00) scale(1 1.045)">Neur514</text>
<text transform="translate(321.70 211.00) scale(1 1.045)">Neur604</text>
<text transform="translate(353.70 209.00) scale(1 1.045)">Neur504</text>
<text transform="translate(369.70 205.00) scale(1 1.045)">Neur517</text>
<text transform="translate(401.70 214.00) scale(1 1.045)">Neur606</text>
<text transform="translate(312.20 230.40) scale(1 1.045)">Neur513</text>
<text transform="translate(315.70 233.00) scale(1 1.045)">Neur608</text>
<text transform="translate(366.20 230.60) scale(1 1.045)">Neur512</text>
<text transform="translate(356.20 228.20) scale(1 1.045)">Neur503</text>
<text transform="translate(384.50 244.60) scale(1 1.045)">Neur509</text>
<text transform="translate(346.70 249.30) scale(1 1.045)">Neur516</text>
<text transform="translate(264.90 253.30) scale(1 1.045)">Neur560</text>
<text transform="translate(389.20 269.60) scale(1 1.045)">Neur510</text>
<text transform="translate(370.70 283.00) scale(1 1.045)">Neur511</text>
<text transform="translate(382.70 326.80) scale(1 1.045)">Neur525</text>
<text transform="translate(390.90 343.10) scale(1 1.045)">Neur526</text>
<text transform="translate(365.70 350.90) scale(1 1.045)">Neur524</text>
<text transform="translate(184.50 229.70) scale(1 1.045)">Neur573</text>
<text transform="translate(184.90 231.00) scale(1 1.045)">Neur574</text>
<text transform="translate(181.20 243.80) scale(1 1.045)">Neur576</text>
<text transform="translate(130.70 244.60) scale(1 1.045)">Neur567</text>
<text transform="translate(116.40 260.00) scale(1 1.045)">Neur565</text>
<text transform="translate(107.70 259.60) scale(1 1.045)">Neur563</text>
</g></g>
<path d="M142.6 91.2V368.6H513.0" stroke="#000" stroke-width="2.75" fill="none" stroke-linecap="butt"/>
<path d="M142.6 129.1h-9.5M142.6 188.8h-9.5M142.6 248.4h-9.5M142.6 308.1h-9.5M142.6 367.7h-9.5M159.1 368.6v9.5M283.4 368.6v9.5M407.6 368.6v9.5" stroke="#000" stroke-width="2.5" fill="none"/>
<g font-size="32">
<text transform="translate(125.70 141.10) scale(1 1.045)" text-anchor="end">10</text>
<text transform="translate(125.70 200.75) scale(1 1.045)" text-anchor="end">5</text>
<text transform="translate(125.70 260.40) scale(1 1.045)" text-anchor="end">0</text>
<text transform="translate(125.70 320.05) scale(1 1.045)" text-anchor="end">-5</text>
<text transform="translate(125.70 379.70) scale(1 1.045)" text-anchor="end">-10</text>
<text transform="translate(159.10 409.00) scale(1 1.045)" text-anchor="middle">-20</text>
<text transform="translate(283.35 409.00) scale(1 1.045)" text-anchor="middle">-10</text>
<text transform="translate(407.60 409.00) scale(1 1.045)" text-anchor="middle">0</text>
</g>
<text transform="translate(327.50 450.60) scale(1 1.02)" font-size="37.3" text-anchor="middle">UMAP_1</text>
<text transform="translate(60.30 230.70) rotate(-90) scale(1 1.02)" font-size="37.3" text-anchor="middle">UMAP_2</text>
<rect x="548.6" y="137.7" width="41.1" height="204.2" fill="url(#lg)"/>
<g font-size="32">
<text transform="translate(607.60 354.40) scale(1 1.045)">0.0</text>
<text transform="translate(607.60 311.68) scale(1 1.045)">0.5</text>
<text transform="translate(607.60 268.96) scale(1 1.045)">1.0</text>
<text transform="translate(607.60 226.24) scale(1 1.045)">1.5</text>
<text transform="translate(607.60 183.52) scale(1 1.045)">2.0</text>
</g>
<path d="M548.6 341.9h8.2M589.7 341.9h-8.2M548.6 299.2h8.2M589.7 299.2h-8.2M548.6 256.5h8.2M589.7 256.5h-8.2M548.6 213.7h8.2M589.7 213.7h-8.2M548.6 171.0h8.2M589.7 171.0h-8.2" stroke="#fff" stroke-width="1" fill="none"/>
</g>
</svg>
</body></html>
